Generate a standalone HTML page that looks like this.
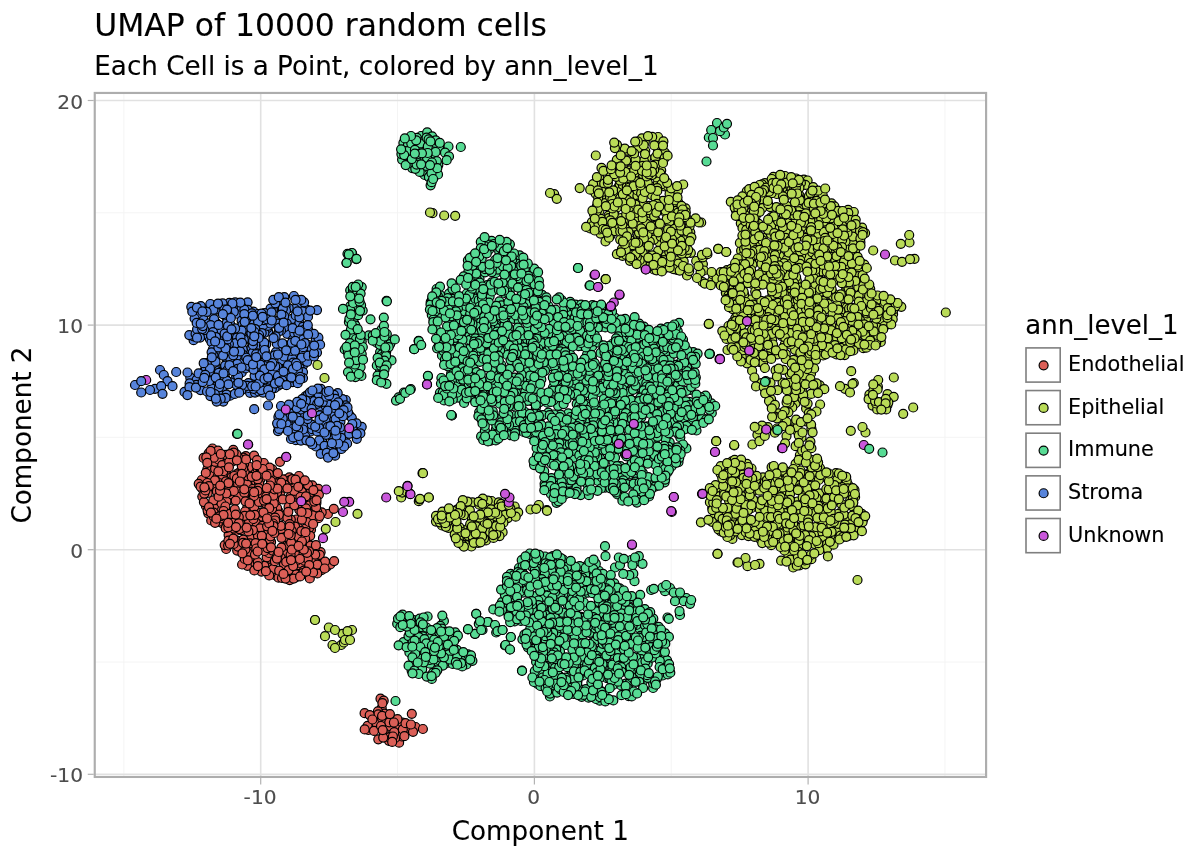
<!DOCTYPE html><html><head><meta charset="utf-8"><title>UMAP of 10000 random cells</title><style>html,body{margin:0;padding:0;background:#fff}body{width:1200px;height:857px;overflow:hidden}svg{display:block;font-family:"DejaVu Sans","Liberation Sans",sans-serif}text{stroke-width:.12px}.k text{stroke:#000}.k .t text{stroke:#4d4d4d}circle{stroke:#000;stroke-width:1.20px}</style></head><body><svg width="1200" height="857" viewBox="0 0 1200 857"><rect x="0" y="0" width="1200" height="857" fill="#fff"/><line x1="123.85" x2="123.85" y1="92.95" y2="776.95" stroke="#f3f3f3" stroke-width="0.9"/><line x1="397.55" x2="397.55" y1="92.95" y2="776.95" stroke="#f3f3f3" stroke-width="0.9"/><line x1="671.25" x2="671.25" y1="92.95" y2="776.95" stroke="#f3f3f3" stroke-width="0.9"/><line x1="944.95" x2="944.95" y1="92.95" y2="776.95" stroke="#f3f3f3" stroke-width="0.9"/><line x1="94.75" x2="986.10" y1="662.00" y2="662.00" stroke="#f3f3f3" stroke-width="0.9"/><line x1="94.75" x2="986.10" y1="437.40" y2="437.40" stroke="#f3f3f3" stroke-width="0.9"/><line x1="94.75" x2="986.10" y1="212.80" y2="212.80" stroke="#f3f3f3" stroke-width="0.9"/><line x1="260.70" x2="260.70" y1="92.95" y2="776.95" stroke="#e1e1e1" stroke-width="1.6"/><line x1="534.40" x2="534.40" y1="92.95" y2="776.95" stroke="#e1e1e1" stroke-width="1.6"/><line x1="808.10" x2="808.10" y1="92.95" y2="776.95" stroke="#e1e1e1" stroke-width="1.6"/><line x1="94.75" x2="986.10" y1="774.30" y2="774.30" stroke="#e1e1e1" stroke-width="1.6"/><line x1="94.75" x2="986.10" y1="549.70" y2="549.70" stroke="#e1e1e1" stroke-width="1.6"/><line x1="94.75" x2="986.10" y1="325.10" y2="325.10" stroke="#e1e1e1" stroke-width="1.6"/><line x1="94.75" x2="986.10" y1="100.50" y2="100.50" stroke="#e1e1e1" stroke-width="1.6"/><g id="pts"><g fill="#c957db"><circle cx="146.2" cy="380.0" r="4.5"/></g><g fill="#5784db"><circle cx="284.0" cy="365.3" r="4.5"/><circle cx="285.2" cy="361.7" r="4.5"/><circle cx="331.6" cy="430.1" r="4.5"/><circle cx="272.8" cy="309.5" r="4.5"/><circle cx="216.9" cy="354.9" r="4.5"/><circle cx="236.8" cy="349.0" r="4.5"/><circle cx="282.3" cy="367.6" r="4.5"/><circle cx="310.6" cy="398.4" r="4.5"/><circle cx="266.2" cy="344.3" r="4.5"/><circle cx="323.1" cy="409.5" r="4.5"/><circle cx="254.7" cy="347.9" r="4.5"/><circle cx="190.3" cy="377.7" r="4.5"/><circle cx="244.5" cy="331.0" r="4.5"/><circle cx="213.6" cy="305.6" r="4.5"/><circle cx="247.6" cy="302.3" r="4.5"/><circle cx="332.3" cy="432.6" r="4.5"/><circle cx="206.4" cy="363.1" r="4.5"/><circle cx="236.8" cy="340.9" r="4.5"/><circle cx="338.1" cy="449.6" r="4.5"/><circle cx="303.3" cy="424.0" r="4.5"/><circle cx="268.2" cy="331.5" r="4.5"/><circle cx="266.5" cy="385.1" r="4.5"/><circle cx="267.4" cy="328.1" r="4.5"/><circle cx="361.7" cy="426.8" r="4.5"/><circle cx="315.7" cy="340.4" r="4.5"/><circle cx="287.2" cy="333.8" r="4.5"/><circle cx="292.7" cy="382.2" r="4.5"/><circle cx="319.8" cy="406.0" r="4.5"/><circle cx="221.3" cy="339.0" r="4.5"/><circle cx="197.6" cy="311.2" r="4.5"/><circle cx="310.7" cy="431.5" r="4.5"/><circle cx="196.6" cy="379.8" r="4.5"/><circle cx="233.7" cy="382.9" r="4.5"/><circle cx="297.0" cy="423.7" r="4.5"/><circle cx="317.0" cy="352.6" r="4.5"/><circle cx="303.1" cy="365.3" r="4.5"/><circle cx="284.8" cy="408.4" r="4.5"/><circle cx="322.3" cy="396.7" r="4.5"/><circle cx="251.3" cy="383.8" r="4.5"/><circle cx="249.9" cy="350.7" r="4.5"/><circle cx="305.9" cy="333.3" r="4.5"/><circle cx="241.7" cy="372.5" r="4.5"/><circle cx="234.3" cy="338.1" r="4.5"/><circle cx="319.7" cy="444.5" r="4.5"/><circle cx="214.9" cy="387.2" r="4.5"/><circle cx="299.7" cy="368.2" r="4.5"/><circle cx="226.9" cy="304.9" r="4.5"/><circle cx="227.5" cy="319.0" r="4.5"/><circle cx="337.7" cy="416.9" r="4.5"/><circle cx="343.4" cy="436.7" r="4.5"/><circle cx="212.7" cy="337.4" r="4.5"/><circle cx="317.6" cy="396.5" r="4.5"/><circle cx="292.6" cy="322.2" r="4.5"/><circle cx="292.8" cy="424.7" r="4.5"/><circle cx="221.0" cy="368.8" r="4.5"/><circle cx="245.5" cy="368.4" r="4.5"/><circle cx="305.4" cy="396.4" r="4.5"/><circle cx="221.5" cy="378.4" r="4.5"/><circle cx="308.1" cy="329.7" r="4.5"/><circle cx="248.4" cy="383.1" r="4.5"/><circle cx="250.1" cy="392.8" r="4.5"/><circle cx="280.0" cy="304.3" r="4.5"/><circle cx="294.1" cy="378.5" r="4.5"/><circle cx="193.6" cy="340.2" r="4.5"/><circle cx="291.9" cy="318.9" r="4.5"/><circle cx="294.0" cy="405.6" r="4.5"/><circle cx="193.6" cy="336.3" r="4.5"/><circle cx="222.9" cy="382.1" r="4.5"/><circle cx="230.4" cy="324.7" r="4.5"/><circle cx="297.3" cy="306.2" r="4.5"/><circle cx="155.0" cy="388.8" r="4.5"/><circle cx="279.2" cy="349.3" r="4.5"/><circle cx="214.8" cy="334.9" r="4.5"/><circle cx="234.9" cy="379.6" r="4.5"/><circle cx="322.6" cy="435.2" r="4.5"/></g><g fill="#57db94"><circle cx="637.0" cy="478.6" r="4.5"/><circle cx="481.7" cy="258.5" r="4.5"/><circle cx="571.0" cy="414.5" r="4.5"/><circle cx="568.2" cy="476.0" r="4.5"/><circle cx="644.5" cy="412.8" r="4.5"/><circle cx="591.7" cy="333.5" r="4.5"/><circle cx="609.7" cy="452.0" r="4.5"/><circle cx="648.3" cy="651.7" r="4.5"/><circle cx="628.7" cy="696.2" r="4.5"/><circle cx="665.0" cy="591.2" r="4.5"/><circle cx="350.2" cy="290.3" r="4.5"/><circle cx="359.6" cy="364.2" r="4.5"/><circle cx="599.9" cy="373.0" r="4.5"/><circle cx="350.3" cy="306.1" r="4.5"/><circle cx="550.9" cy="612.0" r="4.5"/><circle cx="574.5" cy="490.5" r="4.5"/><circle cx="485.5" cy="292.8" r="4.5"/><circle cx="669.1" cy="350.9" r="4.5"/><circle cx="557.0" cy="620.2" r="4.5"/><circle cx="510.5" cy="384.8" r="4.5"/><circle cx="387.7" cy="361.7" r="4.5"/><circle cx="570.8" cy="308.4" r="4.5"/><circle cx="628.8" cy="354.5" r="4.5"/><circle cx="509.8" cy="276.1" r="4.5"/><circle cx="530.8" cy="349.5" r="4.5"/><circle cx="441.4" cy="378.0" r="4.5"/><circle cx="633.5" cy="498.3" r="4.5"/><circle cx="484.0" cy="390.3" r="4.5"/><circle cx="617.1" cy="422.4" r="4.5"/><circle cx="592.5" cy="642.4" r="4.5"/><circle cx="725.0" cy="134.5" r="4.5"/><circle cx="477.1" cy="398.1" r="4.5"/><circle cx="439.0" cy="146.9" r="4.5"/><circle cx="704.7" cy="402.1" r="4.5"/><circle cx="351.0" cy="353.5" r="4.5"/><circle cx="687.1" cy="367.7" r="4.5"/><circle cx="489.0" cy="323.7" r="4.5"/><circle cx="436.2" cy="661.0" r="4.5"/><circle cx="605.6" cy="380.9" r="4.5"/><circle cx="544.1" cy="316.3" r="4.5"/><circle cx="354.2" cy="323.2" r="4.5"/><circle cx="613.4" cy="461.6" r="4.5"/><circle cx="581.0" cy="616.9" r="4.5"/><circle cx="637.5" cy="561.2" r="4.5"/><circle cx="570.2" cy="330.3" r="4.5"/><circle cx="565.8" cy="463.2" r="4.5"/><circle cx="532.8" cy="434.9" r="4.5"/><circle cx="470.6" cy="396.9" r="4.5"/><circle cx="555.1" cy="655.7" r="4.5"/><circle cx="571.1" cy="315.0" r="4.5"/><circle cx="678.8" cy="352.3" r="4.5"/><circle cx="357.5" cy="348.4" r="4.5"/><circle cx="539.8" cy="435.0" r="4.5"/><circle cx="653.6" cy="482.4" r="4.5"/><circle cx="641.4" cy="654.7" r="4.5"/><circle cx="617.1" cy="480.1" r="4.5"/><circle cx="632.1" cy="413.9" r="4.5"/><circle cx="657.4" cy="452.6" r="4.5"/><circle cx="679.1" cy="322.8" r="4.5"/><circle cx="436.6" cy="289.0" r="4.5"/><circle cx="660.8" cy="632.0" r="4.5"/><circle cx="614.2" cy="433.7" r="4.5"/><circle cx="640.1" cy="388.8" r="4.5"/><circle cx="634.2" cy="329.0" r="4.5"/><circle cx="559.3" cy="675.8" r="4.5"/><circle cx="510.8" cy="637.0" r="4.5"/><circle cx="568.5" cy="691.2" r="4.5"/><circle cx="608.1" cy="428.7" r="4.5"/><circle cx="546.3" cy="393.7" r="4.5"/><circle cx="523.7" cy="431.9" r="4.5"/><circle cx="351.7" cy="364.7" r="4.5"/><circle cx="565.0" cy="494.4" r="4.5"/><circle cx="529.8" cy="553.5" r="4.5"/><circle cx="589.6" cy="359.3" r="4.5"/><circle cx="380.1" cy="352.1" r="4.5"/><circle cx="554.6" cy="558.1" r="4.5"/><circle cx="453.7" cy="313.1" r="4.5"/><circle cx="615.0" cy="567.5" r="4.5"/><circle cx="599.5" cy="593.9" r="4.5"/><circle cx="489.6" cy="296.5" r="4.5"/><circle cx="556.8" cy="418.0" r="4.5"/><circle cx="539.2" cy="623.0" r="4.5"/><circle cx="660.7" cy="371.3" r="4.5"/><circle cx="600.6" cy="392.4" r="4.5"/><circle cx="526.0" cy="419.0" r="4.5"/><circle cx="560.5" cy="392.7" r="4.5"/><circle cx="403.5" cy="642.2" r="4.5"/><circle cx="499.1" cy="319.8" r="4.5"/><circle cx="576.7" cy="403.8" r="4.5"/><circle cx="539.5" cy="596.5" r="4.5"/><circle cx="674.3" cy="450.9" r="4.5"/><circle cx="641.0" cy="659.1" r="4.5"/><circle cx="515.7" cy="600.6" r="4.5"/><circle cx="349.2" cy="347.8" r="4.5"/><circle cx="513.5" cy="423.6" r="4.5"/><circle cx="541.0" cy="337.9" r="4.5"/><circle cx="505.0" cy="645.5" r="4.5"/><circle cx="564.5" cy="633.2" r="4.5"/><circle cx="578.0" cy="268.0" r="4.5"/><circle cx="599.3" cy="420.6" r="4.5"/><circle cx="421.8" cy="631.7" r="4.5"/><circle cx="717.0" cy="123.0" r="4.5"/><circle cx="609.4" cy="352.5" r="4.5"/><circle cx="445.8" cy="660.2" r="4.5"/><circle cx="606.3" cy="445.4" r="4.5"/><circle cx="473.5" cy="302.8" r="4.5"/><circle cx="657.5" cy="360.0" r="4.5"/><circle cx="510.6" cy="573.8" r="4.5"/><circle cx="431.8" cy="314.9" r="4.5"/><circle cx="711.4" cy="403.3" r="4.5"/><circle cx="709.5" cy="353.8" r="4.5"/><circle cx="631.2" cy="484.7" r="4.5"/><circle cx="514.4" cy="617.8" r="4.5"/><circle cx="534.2" cy="275.1" r="4.5"/><circle cx="662.5" cy="587.5" r="4.5"/><circle cx="675.7" cy="390.7" r="4.5"/><circle cx="607.6" cy="310.2" r="4.5"/><circle cx="547.6" cy="489.5" r="4.5"/><circle cx="664.0" cy="656.1" r="4.5"/><circle cx="576.5" cy="578.6" r="4.5"/><circle cx="643.9" cy="326.6" r="4.5"/><circle cx="566.2" cy="460.4" r="4.5"/><circle cx="590.1" cy="435.3" r="4.5"/><circle cx="587.0" cy="607.4" r="4.5"/><circle cx="352.1" cy="253.3" r="4.5"/><circle cx="486.4" cy="305.4" r="4.5"/><circle cx="639.6" cy="628.4" r="4.5"/><circle cx="355.9" cy="370.4" r="4.5"/><circle cx="523.4" cy="340.2" r="4.5"/><circle cx="548.9" cy="452.1" r="4.5"/><circle cx="586.7" cy="480.6" r="4.5"/><circle cx="669.4" cy="346.0" r="4.5"/><circle cx="572.7" cy="565.3" r="4.5"/><circle cx="552.9" cy="556.1" r="4.5"/><circle cx="454.3" cy="340.2" r="4.5"/><circle cx="627.2" cy="639.3" r="4.5"/><circle cx="662.7" cy="675.5" r="4.5"/><circle cx="644.2" cy="432.0" r="4.5"/><circle cx="711.8" cy="413.0" r="4.5"/><circle cx="629.2" cy="413.2" r="4.5"/><circle cx="598.8" cy="575.3" r="4.5"/><circle cx="622.4" cy="377.6" r="4.5"/><circle cx="628.6" cy="395.0" r="4.5"/><circle cx="637.6" cy="350.5" r="4.5"/><circle cx="608.9" cy="619.5" r="4.5"/><circle cx="595.5" cy="640.8" r="4.5"/><circle cx="651.8" cy="440.7" r="4.5"/><circle cx="529.8" cy="434.0" r="4.5"/><circle cx="564.9" cy="450.9" r="4.5"/><circle cx="676.4" cy="388.1" r="4.5"/><circle cx="473.4" cy="293.2" r="4.5"/><circle cx="596.4" cy="650.9" r="4.5"/><circle cx="598.6" cy="367.3" r="4.5"/><circle cx="571.4" cy="466.4" r="4.5"/><circle cx="651.6" cy="462.0" r="4.5"/><circle cx="600.6" cy="352.9" r="4.5"/><circle cx="667.6" cy="354.5" r="4.5"/><circle cx="477.3" cy="293.9" r="4.5"/><circle cx="573.1" cy="306.3" r="4.5"/><circle cx="614.4" cy="668.2" r="4.5"/><circle cx="571.2" cy="573.2" r="4.5"/><circle cx="559.9" cy="385.3" r="4.5"/><circle cx="407.6" cy="157.4" r="4.5"/><circle cx="501.7" cy="326.9" r="4.5"/><circle cx="653.7" cy="625.3" r="4.5"/><circle cx="534.4" cy="292.4" r="4.5"/><circle cx="565.2" cy="395.8" r="4.5"/><circle cx="547.0" cy="666.0" r="4.5"/><circle cx="590.9" cy="449.6" r="4.5"/><circle cx="379.9" cy="369.3" r="4.5"/><circle cx="352.2" cy="360.3" r="4.5"/><circle cx="642.5" cy="563.8" r="4.5"/><circle cx="514.7" cy="621.4" r="4.5"/><circle cx="512.7" cy="406.0" r="4.5"/><circle cx="654.8" cy="455.1" r="4.5"/><circle cx="522.6" cy="422.8" r="4.5"/><circle cx="601.2" cy="308.2" r="4.5"/><circle cx="633.1" cy="612.1" r="4.5"/><circle cx="570.3" cy="354.6" r="4.5"/><circle cx="616.3" cy="631.3" r="4.5"/><circle cx="505.5" cy="645.0" r="4.5"/><circle cx="580.6" cy="595.1" r="4.5"/><circle cx="511.2" cy="334.1" r="4.5"/><circle cx="534.1" cy="465.1" r="4.5"/><circle cx="569.5" cy="372.5" r="4.5"/><circle cx="550.5" cy="351.9" r="4.5"/><circle cx="664.2" cy="335.0" r="4.5"/><circle cx="570.0" cy="449.5" r="4.5"/><circle cx="532.9" cy="627.7" r="4.5"/><circle cx="525.3" cy="392.0" r="4.5"/><circle cx="492.6" cy="331.7" r="4.5"/><circle cx="508.0" cy="613.0" r="4.5"/><circle cx="476.8" cy="332.0" r="4.5"/><circle cx="462.8" cy="328.0" r="4.5"/><circle cx="560.1" cy="485.4" r="4.5"/><circle cx="548.3" cy="412.6" r="4.5"/><circle cx="582.1" cy="322.3" r="4.5"/><circle cx="595.4" cy="694.7" r="4.5"/><circle cx="585.0" cy="393.6" r="4.5"/><circle cx="462.6" cy="376.9" r="4.5"/><circle cx="613.8" cy="368.4" r="4.5"/><circle cx="531.1" cy="558.1" r="4.5"/><circle cx="486.9" cy="320.5" r="4.5"/><circle cx="605.9" cy="603.7" r="4.5"/><circle cx="507.3" cy="272.7" r="4.5"/><circle cx="615.0" cy="457.7" r="4.5"/><circle cx="548.3" cy="348.1" r="4.5"/><circle cx="669.2" cy="430.1" r="4.5"/><circle cx="422.2" cy="139.0" r="4.5"/><circle cx="563.0" cy="310.7" r="4.5"/><circle cx="465.4" cy="658.4" r="4.5"/><circle cx="566.3" cy="572.4" r="4.5"/><circle cx="543.1" cy="559.3" r="4.5"/><circle cx="589.7" cy="632.8" r="4.5"/><circle cx="557.1" cy="672.3" r="4.5"/><circle cx="644.2" cy="332.7" r="4.5"/><circle cx="565.6" cy="486.0" r="4.5"/><circle cx="618.6" cy="325.3" r="4.5"/><circle cx="566.3" cy="592.9" r="4.5"/><circle cx="563.0" cy="582.3" r="4.5"/><circle cx="681.2" cy="361.4" r="4.5"/><circle cx="619.6" cy="490.5" r="4.5"/><circle cx="452.6" cy="652.2" r="4.5"/><circle cx="575.2" cy="316.2" r="4.5"/><circle cx="499.8" cy="403.7" r="4.5"/><circle cx="594.8" cy="420.3" r="4.5"/><circle cx="628.9" cy="474.4" r="4.5"/><circle cx="623.9" cy="338.3" r="4.5"/><circle cx="635.2" cy="341.6" r="4.5"/><circle cx="488.2" cy="622.0" r="4.5"/><circle cx="518.9" cy="568.0" r="4.5"/><circle cx="609.4" cy="579.1" r="4.5"/><circle cx="568.7" cy="388.9" r="4.5"/><circle cx="451.8" cy="415.5" r="4.5"/><circle cx="531.6" cy="401.1" r="4.5"/><circle cx="631.7" cy="346.5" r="4.5"/><circle cx="619.3" cy="482.2" r="4.5"/><circle cx="609.6" cy="664.3" r="4.5"/><circle cx="553.0" cy="387.5" r="4.5"/><circle cx="348.9" cy="322.1" r="4.5"/><circle cx="544.7" cy="336.9" r="4.5"/><circle cx="677.6" cy="393.1" r="4.5"/><circle cx="570.6" cy="588.5" r="4.5"/><circle cx="625.4" cy="474.9" r="4.5"/><circle cx="538.9" cy="675.0" r="4.5"/><circle cx="620.3" cy="466.1" r="4.5"/><circle cx="446.0" cy="663.4" r="4.5"/><circle cx="638.9" cy="668.2" r="4.5"/><circle cx="483.3" cy="312.4" r="4.5"/><circle cx="664.8" cy="640.8" r="4.5"/><circle cx="604.5" cy="352.6" r="4.5"/><circle cx="637.1" cy="388.3" r="4.5"/><circle cx="570.3" cy="620.9" r="4.5"/><circle cx="670.0" cy="418.1" r="4.5"/><circle cx="708.8" cy="137.5" r="4.5"/><circle cx="598.9" cy="476.0" r="4.5"/><circle cx="607.1" cy="672.2" r="4.5"/><circle cx="660.5" cy="338.8" r="4.5"/><circle cx="459.3" cy="314.2" r="4.5"/><circle cx="620.8" cy="343.3" r="4.5"/><circle cx="665.1" cy="633.3" r="4.5"/><circle cx="598.0" cy="370.6" r="4.5"/><circle cx="589.4" cy="647.1" r="4.5"/><circle cx="513.3" cy="588.3" r="4.5"/><circle cx="582.5" cy="668.9" r="4.5"/><circle cx="460.8" cy="147.0" r="4.5"/><circle cx="592.3" cy="686.2" r="4.5"/><circle cx="595.4" cy="665.0" r="4.5"/><circle cx="460.5" cy="299.2" r="4.5"/><circle cx="527.6" cy="400.8" r="4.5"/><circle cx="552.9" cy="439.5" r="4.5"/><circle cx="530.0" cy="287.7" r="4.5"/><circle cx="559.8" cy="653.8" r="4.5"/><circle cx="586.3" cy="386.1" r="4.5"/><circle cx="617.0" cy="648.8" r="4.5"/><circle cx="588.5" cy="617.7" r="4.5"/><circle cx="381.1" cy="378.0" r="4.5"/><circle cx="446.2" cy="307.0" r="4.5"/><circle cx="475.4" cy="298.7" r="4.5"/><circle cx="627.7" cy="372.4" r="4.5"/><circle cx="570.6" cy="666.7" r="4.5"/><circle cx="538.9" cy="431.1" r="4.5"/><circle cx="568.3" cy="413.3" r="4.5"/><circle cx="640.2" cy="346.5" r="4.5"/><circle cx="476.2" cy="613.8" r="4.5"/><circle cx="510.0" cy="354.8" r="4.5"/><circle cx="576.3" cy="649.4" r="4.5"/><circle cx="602.4" cy="320.1" r="4.5"/><circle cx="536.4" cy="645.5" r="4.5"/><circle cx="593.5" cy="417.7" r="4.5"/><circle cx="598.0" cy="481.0" r="4.5"/><circle cx="567.6" cy="429.1" r="4.5"/><circle cx="709.7" cy="409.8" r="4.5"/><circle cx="441.7" cy="646.0" r="4.5"/><circle cx="552.8" cy="318.6" r="4.5"/><circle cx="541.1" cy="638.1" r="4.5"/><circle cx="557.6" cy="477.1" r="4.5"/><circle cx="551.6" cy="398.3" r="4.5"/><circle cx="680.0" cy="347.8" r="4.5"/><circle cx="659.0" cy="466.0" r="4.5"/><circle cx="599.1" cy="571.0" r="4.5"/><circle cx="597.4" cy="450.2" r="4.5"/><circle cx="636.9" cy="502.6" r="4.5"/><circle cx="453.2" cy="285.6" r="4.5"/><circle cx="635.5" cy="481.6" r="4.5"/><circle cx="541.4" cy="365.4" r="4.5"/><circle cx="554.2" cy="449.9" r="4.5"/><circle cx="580.3" cy="660.5" r="4.5"/><circle cx="495.9" cy="273.0" r="4.5"/><circle cx="413.7" cy="620.1" r="4.5"/><circle cx="555.5" cy="309.7" r="4.5"/><circle cx="522.7" cy="288.7" r="4.5"/><circle cx="673.6" cy="380.3" r="4.5"/><circle cx="445.7" cy="652.8" r="4.5"/><circle cx="540.2" cy="428.8" r="4.5"/><circle cx="651.2" cy="590.0" r="4.5"/><circle cx="693.3" cy="352.1" r="4.5"/><circle cx="463.6" cy="314.9" r="4.5"/><circle cx="671.0" cy="399.1" r="4.5"/><circle cx="381.8" cy="354.3" r="4.5"/><circle cx="470.7" cy="365.5" r="4.5"/><circle cx="601.2" cy="649.8" r="4.5"/><circle cx="645.5" cy="457.3" r="4.5"/><circle cx="458.8" cy="332.6" r="4.5"/><circle cx="568.5" cy="684.3" r="4.5"/><circle cx="707.0" cy="397.9" r="4.5"/><circle cx="544.3" cy="577.3" r="4.5"/><circle cx="355.4" cy="332.9" r="4.5"/><circle cx="639.2" cy="323.6" r="4.5"/><circle cx="626.6" cy="347.8" r="4.5"/><circle cx="535.8" cy="364.4" r="4.5"/><circle cx="386.4" cy="383.8" r="4.5"/><circle cx="661.4" cy="347.6" r="4.5"/><circle cx="592.8" cy="310.4" r="4.5"/><circle cx="438.8" cy="663.1" r="4.5"/><circle cx="575.5" cy="330.7" r="4.5"/><circle cx="667.5" cy="617.5" r="4.5"/><circle cx="502.8" cy="370.9" r="4.5"/><circle cx="631.2" cy="560.0" r="4.5"/><circle cx="556.4" cy="486.0" r="4.5"/><circle cx="676.9" cy="408.1" r="4.5"/><circle cx="663.5" cy="349.9" r="4.5"/><circle cx="448.5" cy="146.5" r="4.5"/><circle cx="417.6" cy="630.3" r="4.5"/><circle cx="566.1" cy="319.1" r="4.5"/><circle cx="682.2" cy="400.7" r="4.5"/><circle cx="564.6" cy="437.1" r="4.5"/><circle cx="624.8" cy="453.8" r="4.5"/><circle cx="403.4" cy="142.9" r="4.5"/><circle cx="495.8" cy="429.5" r="4.5"/><circle cx="493.3" cy="609.4" r="4.5"/><circle cx="535.2" cy="582.1" r="4.5"/><circle cx="528.3" cy="379.0" r="4.5"/><circle cx="439.8" cy="660.7" r="4.5"/><circle cx="443.6" cy="654.3" r="4.5"/><circle cx="500.0" cy="266.1" r="4.5"/><circle cx="619.9" cy="478.0" r="4.5"/><circle cx="599.6" cy="386.0" r="4.5"/><circle cx="460.6" cy="656.7" r="4.5"/><circle cx="551.4" cy="686.1" r="4.5"/><circle cx="626.3" cy="403.8" r="4.5"/><circle cx="545.6" cy="639.6" r="4.5"/><circle cx="505.2" cy="415.6" r="4.5"/><circle cx="517.3" cy="385.7" r="4.5"/><circle cx="470.2" cy="292.1" r="4.5"/><circle cx="237.0" cy="433.8" r="4.5"/><circle cx="668.6" cy="412.2" r="4.5"/><circle cx="604.3" cy="616.6" r="4.5"/></g><g fill="#c957db"><circle cx="248.2" cy="444.5" r="4.5"/></g><g fill="#db5f57"><circle cx="411.8" cy="713.8" r="4.5"/><circle cx="283.2" cy="552.9" r="4.5"/><circle cx="246.6" cy="562.4" r="4.5"/><circle cx="308.2" cy="547.0" r="4.5"/><circle cx="253.0" cy="550.4" r="4.5"/><circle cx="241.0" cy="492.7" r="4.5"/><circle cx="202.3" cy="496.6" r="4.5"/><circle cx="286.1" cy="479.3" r="4.5"/><circle cx="318.4" cy="518.2" r="4.5"/><circle cx="231.2" cy="536.5" r="4.5"/><circle cx="245.8" cy="456.1" r="4.5"/><circle cx="257.8" cy="524.9" r="4.5"/><circle cx="213.6" cy="488.7" r="4.5"/><circle cx="275.8" cy="502.0" r="4.5"/><circle cx="250.2" cy="506.6" r="4.5"/><circle cx="280.0" cy="461.8" r="4.5"/><circle cx="308.3" cy="515.6" r="4.5"/><circle cx="301.3" cy="538.8" r="4.5"/><circle cx="297.2" cy="530.1" r="4.5"/><circle cx="296.2" cy="567.7" r="4.5"/><circle cx="251.9" cy="511.4" r="4.5"/><circle cx="266.8" cy="529.0" r="4.5"/><circle cx="275.6" cy="575.4" r="4.5"/><circle cx="398.8" cy="737.6" r="4.5"/><circle cx="304.9" cy="514.2" r="4.5"/><circle cx="251.4" cy="483.0" r="4.5"/><circle cx="371.7" cy="727.0" r="4.5"/><circle cx="208.3" cy="513.3" r="4.5"/><circle cx="235.6" cy="517.5" r="4.5"/><circle cx="246.4" cy="519.9" r="4.5"/><circle cx="290.2" cy="575.6" r="4.5"/><circle cx="249.8" cy="467.0" r="4.5"/><circle cx="327.1" cy="563.5" r="4.5"/><circle cx="279.1" cy="512.2" r="4.5"/><circle cx="247.5" cy="565.8" r="4.5"/><circle cx="261.6" cy="549.4" r="4.5"/><circle cx="226.4" cy="498.1" r="4.5"/><circle cx="276.7" cy="512.6" r="4.5"/><circle cx="270.5" cy="477.6" r="4.5"/><circle cx="297.2" cy="552.8" r="4.5"/><circle cx="299.3" cy="528.5" r="4.5"/><circle cx="254.0" cy="539.2" r="4.5"/><circle cx="312.3" cy="485.3" r="4.5"/><circle cx="251.5" cy="520.8" r="4.5"/><circle cx="289.6" cy="565.5" r="4.5"/><circle cx="304.2" cy="546.6" r="4.5"/><circle cx="264.9" cy="542.2" r="4.5"/><circle cx="321.5" cy="570.1" r="4.5"/><circle cx="375.0" cy="717.5" r="4.5"/><circle cx="223.1" cy="487.0" r="4.5"/><circle cx="252.4" cy="479.6" r="4.5"/><circle cx="222.6" cy="523.3" r="4.5"/><circle cx="402.7" cy="733.5" r="4.5"/><circle cx="300.9" cy="570.0" r="4.5"/><circle cx="295.8" cy="577.5" r="4.5"/><circle cx="266.9" cy="515.6" r="4.5"/><circle cx="211.0" cy="461.2" r="4.5"/><circle cx="305.5" cy="493.6" r="4.5"/><circle cx="313.7" cy="512.6" r="4.5"/><circle cx="269.6" cy="516.1" r="4.5"/><circle cx="203.6" cy="457.9" r="4.5"/><circle cx="280.5" cy="491.9" r="4.5"/><circle cx="320.6" cy="552.2" r="4.5"/><circle cx="247.3" cy="507.3" r="4.5"/><circle cx="286.3" cy="569.2" r="4.5"/><circle cx="250.4" cy="558.8" r="4.5"/><circle cx="320.8" cy="560.6" r="4.5"/><circle cx="286.4" cy="528.0" r="4.5"/><circle cx="290.5" cy="486.1" r="4.5"/><circle cx="235.9" cy="488.9" r="4.5"/><circle cx="285.8" cy="543.7" r="4.5"/><circle cx="242.8" cy="485.1" r="4.5"/><circle cx="398.2" cy="725.9" r="4.5"/></g><g fill="#b9db57"><circle cx="750.4" cy="348.0" r="4.5"/><circle cx="771.1" cy="228.2" r="4.5"/><circle cx="865.5" cy="287.9" r="4.5"/><circle cx="745.7" cy="472.7" r="4.5"/><circle cx="630.1" cy="240.2" r="4.5"/><circle cx="650.8" cy="209.6" r="4.5"/><circle cx="781.7" cy="474.1" r="4.5"/><circle cx="822.2" cy="548.6" r="4.5"/><circle cx="866.1" cy="318.6" r="4.5"/><circle cx="783.7" cy="333.4" r="4.5"/><circle cx="819.8" cy="517.2" r="4.5"/><circle cx="867.2" cy="313.4" r="4.5"/><circle cx="838.9" cy="243.8" r="4.5"/><circle cx="608.6" cy="215.6" r="4.5"/><circle cx="741.9" cy="535.1" r="4.5"/><circle cx="780.3" cy="315.5" r="4.5"/><circle cx="793.2" cy="501.8" r="4.5"/><circle cx="823.0" cy="497.3" r="4.5"/><circle cx="647.3" cy="218.4" r="4.5"/><circle cx="502.6" cy="532.2" r="4.5"/><circle cx="824.8" cy="507.5" r="4.5"/><circle cx="721.3" cy="490.4" r="4.5"/><circle cx="849.2" cy="264.8" r="4.5"/><circle cx="775.6" cy="286.8" r="4.5"/><circle cx="436.0" cy="521.6" r="4.5"/><circle cx="781.7" cy="310.3" r="4.5"/><circle cx="755.6" cy="258.9" r="4.5"/><circle cx="750.0" cy="321.5" r="4.5"/><circle cx="464.3" cy="541.5" r="4.5"/><circle cx="787.8" cy="314.7" r="4.5"/><circle cx="807.8" cy="228.8" r="4.5"/><circle cx="833.1" cy="339.4" r="4.5"/><circle cx="763.0" cy="477.4" r="4.5"/><circle cx="795.0" cy="346.5" r="4.5"/><circle cx="716.2" cy="441.2" r="4.5"/><circle cx="836.5" cy="270.5" r="4.5"/><circle cx="820.6" cy="544.3" r="4.5"/><circle cx="860.3" cy="528.9" r="4.5"/><circle cx="784.9" cy="344.0" r="4.5"/><circle cx="768.2" cy="389.6" r="4.5"/><circle cx="810.3" cy="461.9" r="4.5"/><circle cx="752.4" cy="264.3" r="4.5"/><circle cx="797.8" cy="545.4" r="4.5"/><circle cx="761.4" cy="383.1" r="4.5"/><circle cx="530.5" cy="509.5" r="4.5"/><circle cx="811.4" cy="428.4" r="4.5"/><circle cx="629.7" cy="195.2" r="4.5"/><circle cx="720.9" cy="531.5" r="4.5"/><circle cx="772.0" cy="520.9" r="4.5"/><circle cx="823.2" cy="322.9" r="4.5"/><circle cx="662.9" cy="200.9" r="4.5"/><circle cx="719.7" cy="496.2" r="4.5"/><circle cx="790.4" cy="548.9" r="4.5"/><circle cx="848.0" cy="532.9" r="4.5"/><circle cx="739.4" cy="338.9" r="4.5"/><circle cx="626.9" cy="150.7" r="4.5"/><circle cx="849.3" cy="519.5" r="4.5"/><circle cx="848.4" cy="485.2" r="4.5"/><circle cx="795.8" cy="554.8" r="4.5"/><circle cx="748.2" cy="245.6" r="4.5"/><circle cx="814.9" cy="304.7" r="4.5"/><circle cx="762.2" cy="486.6" r="4.5"/><circle cx="769.0" cy="335.4" r="4.5"/><circle cx="849.3" cy="535.7" r="4.5"/><circle cx="514.7" cy="506.5" r="4.5"/><circle cx="833.7" cy="293.6" r="4.5"/><circle cx="610.5" cy="235.5" r="4.5"/><circle cx="830.6" cy="233.3" r="4.5"/><circle cx="795.6" cy="446.2" r="4.5"/><circle cx="751.1" cy="270.0" r="4.5"/><circle cx="491.5" cy="501.0" r="4.5"/><circle cx="785.8" cy="354.2" r="4.5"/><circle cx="759.5" cy="304.3" r="4.5"/><circle cx="328.8" cy="627.5" r="4.5"/><circle cx="775.9" cy="257.7" r="4.5"/><circle cx="808.8" cy="284.8" r="4.5"/><circle cx="790.6" cy="275.1" r="4.5"/><circle cx="676.7" cy="260.4" r="4.5"/><circle cx="644.8" cy="141.8" r="4.5"/><circle cx="638.1" cy="235.6" r="4.5"/><circle cx="754.7" cy="339.6" r="4.5"/><circle cx="816.2" cy="253.4" r="4.5"/><circle cx="624.0" cy="175.5" r="4.5"/><circle cx="858.3" cy="287.2" r="4.5"/><circle cx="735.5" cy="499.4" r="4.5"/><circle cx="795.0" cy="349.8" r="4.5"/><circle cx="826.3" cy="320.1" r="4.5"/><circle cx="655.7" cy="234.2" r="4.5"/><circle cx="790.7" cy="389.6" r="4.5"/><circle cx="797.9" cy="501.5" r="4.5"/><circle cx="771.8" cy="534.6" r="4.5"/><circle cx="763.5" cy="512.2" r="4.5"/><circle cx="824.8" cy="285.3" r="4.5"/><circle cx="678.1" cy="202.1" r="4.5"/><circle cx="723.6" cy="523.9" r="4.5"/><circle cx="780.7" cy="242.5" r="4.5"/><circle cx="784.7" cy="270.2" r="4.5"/><circle cx="810.4" cy="441.7" r="4.5"/><circle cx="770.8" cy="478.8" r="4.5"/><circle cx="804.0" cy="489.9" r="4.5"/><circle cx="489.3" cy="529.0" r="4.5"/><circle cx="845.5" cy="268.9" r="4.5"/><circle cx="481.0" cy="533.2" r="4.5"/><circle cx="819.3" cy="266.0" r="4.5"/><circle cx="751.6" cy="197.9" r="4.5"/><circle cx="472.4" cy="502.4" r="4.5"/><circle cx="777.6" cy="229.7" r="4.5"/><circle cx="775.1" cy="478.3" r="4.5"/><circle cx="341.2" cy="645.0" r="4.5"/><circle cx="725.7" cy="484.6" r="4.5"/><circle cx="945.8" cy="312.5" r="4.5"/><circle cx="784.6" cy="483.7" r="4.5"/><circle cx="609.8" cy="226.7" r="4.5"/><circle cx="741.1" cy="250.7" r="4.5"/><circle cx="826.5" cy="300.0" r="4.5"/><circle cx="848.1" cy="209.9" r="4.5"/><circle cx="771.0" cy="348.8" r="4.5"/><circle cx="752.8" cy="255.6" r="4.5"/><circle cx="877.3" cy="327.1" r="4.5"/><circle cx="791.9" cy="261.2" r="4.5"/><circle cx="401.2" cy="497.5" r="4.5"/><circle cx="665.8" cy="256.0" r="4.5"/><circle cx="796.8" cy="280.6" r="4.5"/><circle cx="789.7" cy="381.8" r="4.5"/><circle cx="733.4" cy="287.0" r="4.5"/><circle cx="849.6" cy="251.5" r="4.5"/><circle cx="599.2" cy="178.2" r="4.5"/><circle cx="848.8" cy="248.9" r="4.5"/><circle cx="623.5" cy="166.5" r="4.5"/><circle cx="830.0" cy="262.8" r="4.5"/><circle cx="799.9" cy="455.0" r="4.5"/><circle cx="628.7" cy="160.3" r="4.5"/><circle cx="498.8" cy="502.3" r="4.5"/><circle cx="882.5" cy="405.7" r="4.5"/><circle cx="613.6" cy="193.5" r="4.5"/><circle cx="792.6" cy="305.4" r="4.5"/><circle cx="870.9" cy="298.2" r="4.5"/><circle cx="875.5" cy="303.9" r="4.5"/><circle cx="495.3" cy="510.0" r="4.5"/><circle cx="854.5" cy="489.9" r="4.5"/><circle cx="747.4" cy="348.5" r="4.5"/><circle cx="760.3" cy="306.6" r="4.5"/><circle cx="735.5" cy="521.5" r="4.5"/><circle cx="819.1" cy="493.3" r="4.5"/><circle cx="638.8" cy="172.7" r="4.5"/><circle cx="759.8" cy="538.6" r="4.5"/><circle cx="827.5" cy="223.4" r="4.5"/><circle cx="800.3" cy="207.9" r="4.5"/><circle cx="803.3" cy="345.6" r="4.5"/><circle cx="784.7" cy="189.8" r="4.5"/><circle cx="799.5" cy="565.3" r="4.5"/><circle cx="785.2" cy="488.9" r="4.5"/><circle cx="823.4" cy="537.4" r="4.5"/><circle cx="823.1" cy="301.0" r="4.5"/><circle cx="843.8" cy="479.9" r="4.5"/><circle cx="789.9" cy="186.1" r="4.5"/><circle cx="771.2" cy="545.2" r="4.5"/><circle cx="867.5" cy="339.7" r="4.5"/><circle cx="775.4" cy="239.5" r="4.5"/><circle cx="789.0" cy="535.2" r="4.5"/><circle cx="804.9" cy="237.9" r="4.5"/><circle cx="742.3" cy="256.6" r="4.5"/><circle cx="846.7" cy="480.9" r="4.5"/><circle cx="677.6" cy="205.4" r="4.5"/><circle cx="638.0" cy="250.8" r="4.5"/><circle cx="725.0" cy="277.4" r="4.5"/><circle cx="653.8" cy="269.5" r="4.5"/><circle cx="473.3" cy="528.6" r="4.5"/><circle cx="793.4" cy="310.0" r="4.5"/><circle cx="872.5" cy="405.6" r="4.5"/><circle cx="812.8" cy="235.7" r="4.5"/><circle cx="846.2" cy="289.0" r="4.5"/><circle cx="464.8" cy="506.5" r="4.5"/><circle cx="673.7" cy="195.7" r="4.5"/><circle cx="460.1" cy="510.4" r="4.5"/><circle cx="809.7" cy="464.3" r="4.5"/><circle cx="712.2" cy="280.6" r="4.5"/><circle cx="855.1" cy="252.0" r="4.5"/><circle cx="422.5" cy="473.2" r="4.5"/><circle cx="752.4" cy="444.5" r="4.5"/><circle cx="827.0" cy="544.2" r="4.5"/><circle cx="822.5" cy="472.0" r="4.5"/><circle cx="819.5" cy="524.9" r="4.5"/><circle cx="657.3" cy="172.2" r="4.5"/><circle cx="664.7" cy="186.3" r="4.5"/><circle cx="799.5" cy="316.3" r="4.5"/><circle cx="445.1" cy="513.0" r="4.5"/><circle cx="616.8" cy="228.0" r="4.5"/><circle cx="774.4" cy="474.9" r="4.5"/><circle cx="764.8" cy="183.1" r="4.5"/><circle cx="770.5" cy="280.4" r="4.5"/><circle cx="774.8" cy="508.7" r="4.5"/><circle cx="860.4" cy="242.2" r="4.5"/><circle cx="644.1" cy="262.5" r="4.5"/><circle cx="813.6" cy="480.6" r="4.5"/><circle cx="764.7" cy="310.5" r="4.5"/><circle cx="770.4" cy="326.0" r="4.5"/><circle cx="750.8" cy="332.1" r="4.5"/><circle cx="762.8" cy="196.8" r="4.5"/><circle cx="739.1" cy="322.9" r="4.5"/><circle cx="742.5" cy="496.3" r="4.5"/><circle cx="802.4" cy="486.6" r="4.5"/><circle cx="718.2" cy="248.8" r="4.5"/><circle cx="728.5" cy="326.0" r="4.5"/><circle cx="795.7" cy="312.6" r="4.5"/><circle cx="634.6" cy="217.5" r="4.5"/><circle cx="795.5" cy="526.2" r="4.5"/><circle cx="784.9" cy="519.2" r="4.5"/><circle cx="826.3" cy="489.0" r="4.5"/><circle cx="800.1" cy="335.7" r="4.5"/><circle cx="745.0" cy="232.2" r="4.5"/><circle cx="808.8" cy="219.7" r="4.5"/><circle cx="759.7" cy="509.2" r="4.5"/><circle cx="616.8" cy="159.8" r="4.5"/><circle cx="834.9" cy="242.5" r="4.5"/><circle cx="740.3" cy="292.2" r="4.5"/><circle cx="855.5" cy="530.6" r="4.5"/><circle cx="760.2" cy="362.2" r="4.5"/><circle cx="738.8" cy="333.7" r="4.5"/><circle cx="652.9" cy="186.8" r="4.5"/><circle cx="685.6" cy="208.3" r="4.5"/><circle cx="675.9" cy="200.4" r="4.5"/><circle cx="646.5" cy="157.8" r="4.5"/><circle cx="800.7" cy="533.1" r="4.5"/><circle cx="784.8" cy="480.0" r="4.5"/><circle cx="755.7" cy="216.0" r="4.5"/><circle cx="893.1" cy="314.1" r="4.5"/><circle cx="737.8" cy="292.8" r="4.5"/><circle cx="909.5" cy="242.5" r="4.5"/><circle cx="806.1" cy="408.4" r="4.5"/><circle cx="802.1" cy="450.5" r="4.5"/><circle cx="815.8" cy="292.3" r="4.5"/><circle cx="683.7" cy="261.3" r="4.5"/><circle cx="799.5" cy="195.3" r="4.5"/><circle cx="865.5" cy="432.5" r="4.5"/><circle cx="632.3" cy="245.2" r="4.5"/><circle cx="763.5" cy="315.1" r="4.5"/><circle cx="432.5" cy="213.2" r="4.5"/><circle cx="811.0" cy="373.5" r="4.5"/><circle cx="778.5" cy="413.3" r="4.5"/><circle cx="860.4" cy="279.5" r="4.5"/><circle cx="811.8" cy="259.4" r="4.5"/><circle cx="779.4" cy="192.6" r="4.5"/><circle cx="335.5" cy="522.0" r="4.5"/><circle cx="782.0" cy="485.2" r="4.5"/><circle cx="762.8" cy="506.3" r="4.5"/><circle cx="797.9" cy="260.2" r="4.5"/><circle cx="727.0" cy="270.1" r="4.5"/><circle cx="809.3" cy="472.8" r="4.5"/><circle cx="600.5" cy="233.6" r="4.5"/><circle cx="866.3" cy="304.7" r="4.5"/><circle cx="786.0" cy="471.3" r="4.5"/><circle cx="640.4" cy="234.8" r="4.5"/><circle cx="457.1" cy="509.7" r="4.5"/><circle cx="827.4" cy="501.2" r="4.5"/><circle cx="730.8" cy="201.8" r="4.5"/><circle cx="770.9" cy="403.6" r="4.5"/><circle cx="727.8" cy="334.3" r="4.5"/><circle cx="877.9" cy="386.7" r="4.5"/><circle cx="618.5" cy="187.1" r="4.5"/><circle cx="744.5" cy="333.2" r="4.5"/><circle cx="724.0" cy="492.1" r="4.5"/></g><g fill="#5784db"><circle cx="314.1" cy="393.0" r="4.5"/><circle cx="212.6" cy="313.8" r="4.5"/><circle cx="224.1" cy="326.6" r="4.5"/><circle cx="242.1" cy="311.8" r="4.5"/><circle cx="235.1" cy="302.4" r="4.5"/><circle cx="160.0" cy="370.0" r="4.5"/><circle cx="237.7" cy="310.0" r="4.5"/><circle cx="313.6" cy="401.2" r="4.5"/><circle cx="219.0" cy="370.4" r="4.5"/><circle cx="318.4" cy="337.7" r="4.5"/><circle cx="305.0" cy="413.1" r="4.5"/><circle cx="293.0" cy="339.4" r="4.5"/><circle cx="262.5" cy="385.5" r="4.5"/><circle cx="227.1" cy="354.3" r="4.5"/><circle cx="225.3" cy="384.9" r="4.5"/><circle cx="259.6" cy="370.5" r="4.5"/><circle cx="277.9" cy="385.8" r="4.5"/><circle cx="283.3" cy="376.4" r="4.5"/><circle cx="301.5" cy="412.8" r="4.5"/><circle cx="232.1" cy="364.8" r="4.5"/><circle cx="230.7" cy="382.3" r="4.5"/><circle cx="208.5" cy="323.3" r="4.5"/><circle cx="278.4" cy="416.9" r="4.5"/><circle cx="241.5" cy="357.1" r="4.5"/><circle cx="345.8" cy="400.0" r="4.5"/><circle cx="209.8" cy="338.9" r="4.5"/><circle cx="285.0" cy="369.1" r="4.5"/><circle cx="225.5" cy="315.9" r="4.5"/><circle cx="286.3" cy="374.6" r="4.5"/><circle cx="254.6" cy="375.8" r="4.5"/><circle cx="204.7" cy="370.0" r="4.5"/><circle cx="202.6" cy="335.2" r="4.5"/><circle cx="226.8" cy="322.8" r="4.5"/><circle cx="306.6" cy="312.8" r="4.5"/><circle cx="248.5" cy="388.0" r="4.5"/><circle cx="237.0" cy="337.7" r="4.5"/><circle cx="296.4" cy="432.4" r="4.5"/><circle cx="286.5" cy="346.9" r="4.5"/><circle cx="296.8" cy="412.5" r="4.5"/><circle cx="360.4" cy="433.3" r="4.5"/><circle cx="253.5" cy="311.6" r="4.5"/><circle cx="335.1" cy="455.7" r="4.5"/><circle cx="240.5" cy="353.8" r="4.5"/><circle cx="342.5" cy="399.1" r="4.5"/><circle cx="223.9" cy="394.9" r="4.5"/><circle cx="327.0" cy="448.2" r="4.5"/><circle cx="282.2" cy="360.2" r="4.5"/><circle cx="288.7" cy="377.2" r="4.5"/><circle cx="238.1" cy="313.9" r="4.5"/><circle cx="263.9" cy="389.1" r="4.5"/><circle cx="203.3" cy="316.4" r="4.5"/><circle cx="258.3" cy="342.3" r="4.5"/><circle cx="337.7" cy="393.1" r="4.5"/><circle cx="254.2" cy="409.2" r="4.5"/><circle cx="274.0" cy="323.3" r="4.5"/><circle cx="294.4" cy="333.2" r="4.5"/><circle cx="341.9" cy="434.5" r="4.5"/><circle cx="243.2" cy="337.4" r="4.5"/><circle cx="305.3" cy="436.5" r="4.5"/><circle cx="211.5" cy="342.1" r="4.5"/><circle cx="250.6" cy="364.9" r="4.5"/><circle cx="277.0" cy="371.8" r="4.5"/><circle cx="219.3" cy="309.5" r="4.5"/><circle cx="274.6" cy="388.1" r="4.5"/><circle cx="292.5" cy="431.9" r="4.5"/><circle cx="297.1" cy="379.5" r="4.5"/><circle cx="280.1" cy="370.7" r="4.5"/><circle cx="332.3" cy="416.9" r="4.5"/><circle cx="349.6" cy="415.3" r="4.5"/><circle cx="275.9" cy="352.1" r="4.5"/><circle cx="247.8" cy="309.9" r="4.5"/><circle cx="189.3" cy="335.1" r="4.5"/><circle cx="308.0" cy="394.6" r="4.5"/></g><g fill="#57db94"><circle cx="510.5" cy="262.7" r="4.5"/><circle cx="667.5" cy="666.4" r="4.5"/><circle cx="557.4" cy="680.8" r="4.5"/><circle cx="427.4" cy="640.7" r="4.5"/><circle cx="666.2" cy="389.3" r="4.5"/><circle cx="555.9" cy="345.9" r="4.5"/><circle cx="533.2" cy="361.9" r="4.5"/><circle cx="548.7" cy="627.3" r="4.5"/><circle cx="458.3" cy="397.7" r="4.5"/><circle cx="496.2" cy="327.8" r="4.5"/><circle cx="689.3" cy="401.8" r="4.5"/><circle cx="448.9" cy="654.5" r="4.5"/><circle cx="523.4" cy="613.8" r="4.5"/><circle cx="580.5" cy="414.2" r="4.5"/><circle cx="613.0" cy="594.9" r="4.5"/><circle cx="424.7" cy="175.0" r="4.5"/><circle cx="604.5" cy="401.5" r="4.5"/><circle cx="680.1" cy="375.3" r="4.5"/><circle cx="496.3" cy="425.3" r="4.5"/><circle cx="559.2" cy="319.6" r="4.5"/><circle cx="382.1" cy="337.6" r="4.5"/><circle cx="585.5" cy="332.5" r="4.5"/><circle cx="544.6" cy="483.8" r="4.5"/><circle cx="595.1" cy="427.7" r="4.5"/><circle cx="599.1" cy="454.0" r="4.5"/><circle cx="355.8" cy="301.3" r="4.5"/><circle cx="672.3" cy="463.2" r="4.5"/><circle cx="545.6" cy="345.8" r="4.5"/><circle cx="577.8" cy="368.8" r="4.5"/><circle cx="354.1" cy="307.7" r="4.5"/><circle cx="564.2" cy="480.9" r="4.5"/><circle cx="487.4" cy="285.1" r="4.5"/><circle cx="666.3" cy="457.9" r="4.5"/><circle cx="629.3" cy="323.5" r="4.5"/><circle cx="650.5" cy="413.9" r="4.5"/><circle cx="675.0" cy="343.6" r="4.5"/><circle cx="592.0" cy="358.0" r="4.5"/><circle cx="481.7" cy="406.4" r="4.5"/><circle cx="494.8" cy="332.7" r="4.5"/><circle cx="422.2" cy="171.3" r="4.5"/><circle cx="506.4" cy="430.8" r="4.5"/><circle cx="561.8" cy="627.6" r="4.5"/><circle cx="607.0" cy="678.2" r="4.5"/><circle cx="381.4" cy="374.3" r="4.5"/><circle cx="463.7" cy="654.9" r="4.5"/><circle cx="447.7" cy="359.0" r="4.5"/><circle cx="598.8" cy="688.6" r="4.5"/><circle cx="562.7" cy="657.5" r="4.5"/><circle cx="616.6" cy="487.4" r="4.5"/><circle cx="408.0" cy="144.5" r="4.5"/><circle cx="512.6" cy="366.7" r="4.5"/><circle cx="605.5" cy="359.2" r="4.5"/><circle cx="599.6" cy="613.4" r="4.5"/><circle cx="461.8" cy="320.9" r="4.5"/><circle cx="605.1" cy="638.6" r="4.5"/><circle cx="538.6" cy="452.9" r="4.5"/><circle cx="690.4" cy="419.8" r="4.5"/><circle cx="617.5" cy="494.4" r="4.5"/><circle cx="590.0" cy="651.9" r="4.5"/><circle cx="416.6" cy="651.0" r="4.5"/><circle cx="559.6" cy="600.1" r="4.5"/><circle cx="605.1" cy="387.4" r="4.5"/><circle cx="665.1" cy="344.1" r="4.5"/><circle cx="538.9" cy="373.8" r="4.5"/><circle cx="575.2" cy="323.9" r="4.5"/><circle cx="615.3" cy="665.5" r="4.5"/><circle cx="537.7" cy="333.8" r="4.5"/><circle cx="377.0" cy="342.9" r="4.5"/><circle cx="547.3" cy="335.6" r="4.5"/><circle cx="610.6" cy="433.3" r="4.5"/><circle cx="598.2" cy="605.2" r="4.5"/><circle cx="501.9" cy="343.0" r="4.5"/><circle cx="483.5" cy="302.2" r="4.5"/><circle cx="351.8" cy="253.0" r="4.5"/><circle cx="677.5" cy="597.0" r="4.5"/><circle cx="614.8" cy="317.7" r="4.5"/><circle cx="515.8" cy="267.3" r="4.5"/><circle cx="690.8" cy="378.7" r="4.5"/><circle cx="534.6" cy="625.1" r="4.5"/><circle cx="578.0" cy="268.0" r="4.5"/><circle cx="591.2" cy="452.2" r="4.5"/><circle cx="508.9" cy="328.2" r="4.5"/><circle cx="516.1" cy="392.6" r="4.5"/><circle cx="421.1" cy="136.0" r="4.5"/><circle cx="642.6" cy="682.0" r="4.5"/><circle cx="613.4" cy="649.6" r="4.5"/><circle cx="597.7" cy="636.1" r="4.5"/><circle cx="543.7" cy="352.8" r="4.5"/><circle cx="655.4" cy="643.7" r="4.5"/><circle cx="669.7" cy="442.3" r="4.5"/><circle cx="661.6" cy="408.6" r="4.5"/><circle cx="672.6" cy="448.7" r="4.5"/><circle cx="544.3" cy="656.0" r="4.5"/><circle cx="428.0" cy="376.2" r="4.5"/><circle cx="619.7" cy="588.3" r="4.5"/><circle cx="562.8" cy="642.8" r="4.5"/><circle cx="486.0" cy="414.7" r="4.5"/><circle cx="383.3" cy="356.5" r="4.5"/><circle cx="591.0" cy="312.9" r="4.5"/><circle cx="488.8" cy="437.2" r="4.5"/><circle cx="569.4" cy="471.3" r="4.5"/><circle cx="561.6" cy="332.9" r="4.5"/><circle cx="523.2" cy="573.6" r="4.5"/><circle cx="514.5" cy="377.6" r="4.5"/><circle cx="602.6" cy="313.9" r="4.5"/><circle cx="574.4" cy="629.1" r="4.5"/><circle cx="651.2" cy="367.2" r="4.5"/><circle cx="360.7" cy="361.9" r="4.5"/><circle cx="472.9" cy="256.4" r="4.5"/><circle cx="416.9" cy="137.8" r="4.5"/><circle cx="480.4" cy="325.7" r="4.5"/><circle cx="600.5" cy="326.9" r="4.5"/><circle cx="657.2" cy="342.5" r="4.5"/><circle cx="652.7" cy="404.2" r="4.5"/><circle cx="610.3" cy="610.4" r="4.5"/><circle cx="645.4" cy="641.2" r="4.5"/><circle cx="641.3" cy="358.5" r="4.5"/><circle cx="520.1" cy="583.4" r="4.5"/><circle cx="651.8" cy="678.1" r="4.5"/><circle cx="573.5" cy="693.9" r="4.5"/><circle cx="572.8" cy="381.6" r="4.5"/><circle cx="705.5" cy="395.7" r="4.5"/><circle cx="573.9" cy="480.4" r="4.5"/><circle cx="433.3" cy="306.0" r="4.5"/><circle cx="515.8" cy="583.3" r="4.5"/><circle cx="567.8" cy="331.1" r="4.5"/><circle cx="566.3" cy="442.4" r="4.5"/><circle cx="552.2" cy="333.0" r="4.5"/><circle cx="504.3" cy="326.0" r="4.5"/><circle cx="628.9" cy="622.2" r="4.5"/><circle cx="566.2" cy="423.9" r="4.5"/><circle cx="479.8" cy="378.1" r="4.5"/><circle cx="580.6" cy="382.2" r="4.5"/><circle cx="525.9" cy="365.0" r="4.5"/><circle cx="608.7" cy="318.4" r="4.5"/><circle cx="653.1" cy="688.0" r="4.5"/><circle cx="613.6" cy="422.2" r="4.5"/><circle cx="627.0" cy="599.7" r="4.5"/><circle cx="659.6" cy="648.4" r="4.5"/><circle cx="490.3" cy="328.2" r="4.5"/><circle cx="423.2" cy="629.7" r="4.5"/><circle cx="643.7" cy="396.1" r="4.5"/><circle cx="466.9" cy="312.3" r="4.5"/><circle cx="565.9" cy="645.0" r="4.5"/><circle cx="591.8" cy="646.2" r="4.5"/><circle cx="556.6" cy="642.0" r="4.5"/><circle cx="558.9" cy="495.7" r="4.5"/><circle cx="680.1" cy="395.9" r="4.5"/><circle cx="540.0" cy="345.5" r="4.5"/><circle cx="479.5" cy="278.7" r="4.5"/><circle cx="587.0" cy="565.6" r="4.5"/><circle cx="571.8" cy="386.7" r="4.5"/><circle cx="522.9" cy="592.6" r="4.5"/><circle cx="501.9" cy="602.2" r="4.5"/><circle cx="571.8" cy="474.4" r="4.5"/><circle cx="489.2" cy="306.3" r="4.5"/><circle cx="563.1" cy="616.6" r="4.5"/><circle cx="390.6" cy="341.6" r="4.5"/><circle cx="551.5" cy="340.9" r="4.5"/><circle cx="433.3" cy="160.5" r="4.5"/><circle cx="595.1" cy="661.4" r="4.5"/><circle cx="528.0" cy="328.5" r="4.5"/><circle cx="595.3" cy="459.0" r="4.5"/><circle cx="461.3" cy="383.2" r="4.5"/><circle cx="573.5" cy="457.5" r="4.5"/><circle cx="610.7" cy="474.0" r="4.5"/><circle cx="640.1" cy="459.2" r="4.5"/><circle cx="437.1" cy="348.3" r="4.5"/><circle cx="570.5" cy="687.4" r="4.5"/><circle cx="548.3" cy="441.0" r="4.5"/><circle cx="590.4" cy="583.5" r="4.5"/><circle cx="456.2" cy="638.0" r="4.5"/><circle cx="644.1" cy="365.3" r="4.5"/><circle cx="550.7" cy="589.2" r="4.5"/><circle cx="489.1" cy="249.7" r="4.5"/><circle cx="655.3" cy="464.6" r="4.5"/><circle cx="624.4" cy="372.3" r="4.5"/><circle cx="585.0" cy="421.7" r="4.5"/><circle cx="609.4" cy="678.3" r="4.5"/><circle cx="566.2" cy="479.0" r="4.5"/><circle cx="478.1" cy="351.1" r="4.5"/><circle cx="532.7" cy="390.2" r="4.5"/><circle cx="588.0" cy="469.5" r="4.5"/><circle cx="552.5" cy="330.0" r="4.5"/><circle cx="554.5" cy="337.6" r="4.5"/><circle cx="506.8" cy="433.3" r="4.5"/><circle cx="682.4" cy="347.4" r="4.5"/><circle cx="686.2" cy="598.0" r="4.5"/><circle cx="624.2" cy="346.0" r="4.5"/><circle cx="630.7" cy="614.4" r="4.5"/><circle cx="510.5" cy="429.3" r="4.5"/><circle cx="629.0" cy="631.2" r="4.5"/><circle cx="560.7" cy="414.7" r="4.5"/><circle cx="548.9" cy="333.2" r="4.5"/><circle cx="670.4" cy="328.8" r="4.5"/><circle cx="491.6" cy="240.9" r="4.5"/><circle cx="613.1" cy="685.0" r="4.5"/><circle cx="653.7" cy="409.8" r="4.5"/><circle cx="560.0" cy="651.4" r="4.5"/><circle cx="544.2" cy="598.2" r="4.5"/><circle cx="640.5" cy="497.9" r="4.5"/><circle cx="588.5" cy="697.7" r="4.5"/><circle cx="711.2" cy="130.0" r="4.5"/><circle cx="475.2" cy="402.2" r="4.5"/><circle cx="605.8" cy="477.8" r="4.5"/><circle cx="464.1" cy="402.9" r="4.5"/><circle cx="614.2" cy="622.1" r="4.5"/><circle cx="686.4" cy="428.7" r="4.5"/><circle cx="438.5" cy="315.8" r="4.5"/><circle cx="576.1" cy="665.7" r="4.5"/><circle cx="554.1" cy="627.3" r="4.5"/><circle cx="623.3" cy="480.4" r="4.5"/><circle cx="360.6" cy="367.1" r="4.5"/><circle cx="627.6" cy="467.5" r="4.5"/><circle cx="479.3" cy="318.0" r="4.5"/><circle cx="418.6" cy="340.8" r="4.5"/><circle cx="359.5" cy="308.3" r="4.5"/><circle cx="667.1" cy="660.3" r="4.5"/><circle cx="625.8" cy="683.6" r="4.5"/><circle cx="439.9" cy="392.9" r="4.5"/><circle cx="676.7" cy="404.7" r="4.5"/><circle cx="580.2" cy="569.4" r="4.5"/><circle cx="562.5" cy="387.9" r="4.5"/><circle cx="687.2" cy="350.3" r="4.5"/><circle cx="603.3" cy="589.3" r="4.5"/><circle cx="605.5" cy="450.2" r="4.5"/><circle cx="496.2" cy="632.5" r="4.5"/><circle cx="578.0" cy="412.8" r="4.5"/><circle cx="579.1" cy="379.5" r="4.5"/><circle cx="455.3" cy="319.9" r="4.5"/><circle cx="554.8" cy="617.5" r="4.5"/><circle cx="554.5" cy="569.5" r="4.5"/><circle cx="580.6" cy="338.5" r="4.5"/><circle cx="534.5" cy="651.1" r="4.5"/><circle cx="503.5" cy="423.1" r="4.5"/><circle cx="558.1" cy="628.2" r="4.5"/><circle cx="587.1" cy="483.8" r="4.5"/><circle cx="614.4" cy="583.4" r="4.5"/><circle cx="680.3" cy="437.5" r="4.5"/><circle cx="632.1" cy="608.9" r="4.5"/><circle cx="513.6" cy="575.3" r="4.5"/><circle cx="442.8" cy="392.3" r="4.5"/><circle cx="603.3" cy="576.2" r="4.5"/><circle cx="621.2" cy="685.4" r="4.5"/><circle cx="603.9" cy="399.0" r="4.5"/><circle cx="546.7" cy="622.8" r="4.5"/><circle cx="579.7" cy="585.3" r="4.5"/><circle cx="408.5" cy="636.1" r="4.5"/><circle cx="237.5" cy="433.8" r="4.5"/><circle cx="640.9" cy="351.3" r="4.5"/><circle cx="518.9" cy="281.5" r="4.5"/><circle cx="509.8" cy="368.9" r="4.5"/><circle cx="575.5" cy="304.7" r="4.5"/><circle cx="610.5" cy="385.4" r="4.5"/><circle cx="565.4" cy="362.4" r="4.5"/><circle cx="609.8" cy="379.6" r="4.5"/><circle cx="524.0" cy="396.8" r="4.5"/><circle cx="636.3" cy="624.9" r="4.5"/><circle cx="586.5" cy="474.8" r="4.5"/><circle cx="560.4" cy="340.2" r="4.5"/><circle cx="533.6" cy="596.1" r="4.5"/><circle cx="556.2" cy="649.4" r="4.5"/><circle cx="582.5" cy="400.4" r="4.5"/><circle cx="466.6" cy="388.0" r="4.5"/><circle cx="631.6" cy="370.5" r="4.5"/><circle cx="645.0" cy="625.3" r="4.5"/><circle cx="356.5" cy="307.0" r="4.5"/><circle cx="610.9" cy="616.2" r="4.5"/><circle cx="577.5" cy="681.0" r="4.5"/><circle cx="520.9" cy="620.9" r="4.5"/><circle cx="630.1" cy="408.2" r="4.5"/><circle cx="376.8" cy="365.5" r="4.5"/><circle cx="359.4" cy="345.8" r="4.5"/><circle cx="519.6" cy="344.2" r="4.5"/><circle cx="504.5" cy="293.0" r="4.5"/><circle cx="516.9" cy="301.2" r="4.5"/><circle cx="507.7" cy="251.8" r="4.5"/><circle cx="350.8" cy="356.4" r="4.5"/><circle cx="431.4" cy="146.6" r="4.5"/><circle cx="561.6" cy="447.8" r="4.5"/><circle cx="617.1" cy="466.1" r="4.5"/><circle cx="627.1" cy="691.4" r="4.5"/><circle cx="564.2" cy="574.4" r="4.5"/><circle cx="677.7" cy="331.1" r="4.5"/><circle cx="701.9" cy="417.6" r="4.5"/><circle cx="612.0" cy="446.4" r="4.5"/><circle cx="437.1" cy="657.2" r="4.5"/><circle cx="557.6" cy="636.5" r="4.5"/><circle cx="537.4" cy="312.0" r="4.5"/><circle cx="644.3" cy="434.7" r="4.5"/><circle cx="508.3" cy="403.4" r="4.5"/><circle cx="509.8" cy="290.4" r="4.5"/><circle cx="577.5" cy="671.5" r="4.5"/><circle cx="457.0" cy="392.7" r="4.5"/><circle cx="435.8" cy="328.5" r="4.5"/><circle cx="563.4" cy="593.7" r="4.5"/><circle cx="427.2" cy="132.4" r="4.5"/><circle cx="609.0" cy="436.2" r="4.5"/><circle cx="635.0" cy="361.1" r="4.5"/><circle cx="556.8" cy="335.8" r="4.5"/><circle cx="424.0" cy="161.7" r="4.5"/><circle cx="623.7" cy="359.1" r="4.5"/><circle cx="642.9" cy="436.9" r="4.5"/><circle cx="647.7" cy="663.5" r="4.5"/><circle cx="605.0" cy="363.6" r="4.5"/><circle cx="493.3" cy="289.4" r="4.5"/><circle cx="666.0" cy="360.7" r="4.5"/><circle cx="352.4" cy="347.5" r="4.5"/><circle cx="523.0" cy="364.2" r="4.5"/><circle cx="469.0" cy="330.9" r="4.5"/><circle cx="456.2" cy="349.5" r="4.5"/><circle cx="505.8" cy="329.9" r="4.5"/><circle cx="586.4" cy="380.6" r="4.5"/><circle cx="540.8" cy="321.5" r="4.5"/><circle cx="577.9" cy="653.4" r="4.5"/><circle cx="640.5" cy="635.8" r="4.5"/><circle cx="438.4" cy="300.0" r="4.5"/><circle cx="434.2" cy="655.6" r="4.5"/><circle cx="469.4" cy="336.1" r="4.5"/><circle cx="541.5" cy="672.8" r="4.5"/><circle cx="524.9" cy="412.0" r="4.5"/><circle cx="617.6" cy="411.2" r="4.5"/><circle cx="515.8" cy="415.5" r="4.5"/><circle cx="459.4" cy="338.6" r="4.5"/><circle cx="583.5" cy="593.9" r="4.5"/><circle cx="449.0" cy="293.6" r="4.5"/><circle cx="504.2" cy="306.9" r="4.5"/><circle cx="570.5" cy="675.5" r="4.5"/><circle cx="649.9" cy="642.2" r="4.5"/><circle cx="667.1" cy="392.0" r="4.5"/><circle cx="586.8" cy="404.1" r="4.5"/><circle cx="466.5" cy="664.4" r="4.5"/><circle cx="624.6" cy="387.5" r="4.5"/><circle cx="653.1" cy="683.4" r="4.5"/><circle cx="570.5" cy="391.3" r="4.5"/><circle cx="522.4" cy="639.3" r="4.5"/><circle cx="573.9" cy="614.6" r="4.5"/><circle cx="685.0" cy="408.4" r="4.5"/><circle cx="431.4" cy="642.9" r="4.5"/><circle cx="476.5" cy="278.5" r="4.5"/><circle cx="430.1" cy="663.7" r="4.5"/><circle cx="516.7" cy="357.6" r="4.5"/><circle cx="585.3" cy="647.2" r="4.5"/><circle cx="443.9" cy="620.9" r="4.5"/><circle cx="508.2" cy="606.7" r="4.5"/><circle cx="438.3" cy="164.9" r="4.5"/><circle cx="617.1" cy="587.7" r="4.5"/><circle cx="613.3" cy="700.4" r="4.5"/><circle cx="415.4" cy="643.3" r="4.5"/><circle cx="554.0" cy="652.3" r="4.5"/><circle cx="637.1" cy="383.5" r="4.5"/><circle cx="668.8" cy="370.6" r="4.5"/><circle cx="497.1" cy="331.7" r="4.5"/><circle cx="588.4" cy="374.2" r="4.5"/><circle cx="617.8" cy="651.0" r="4.5"/><circle cx="620.3" cy="442.1" r="4.5"/><circle cx="612.0" cy="416.2" r="4.5"/><circle cx="539.8" cy="630.5" r="4.5"/><circle cx="440.2" cy="295.1" r="4.5"/><circle cx="503.4" cy="349.6" r="4.5"/><circle cx="541.7" cy="432.8" r="4.5"/><circle cx="548.4" cy="306.0" r="4.5"/><circle cx="580.5" cy="690.9" r="4.5"/><circle cx="529.5" cy="397.0" r="4.5"/><circle cx="443.8" cy="336.3" r="4.5"/><circle cx="603.0" cy="573.8" r="4.5"/><circle cx="571.0" cy="438.9" r="4.5"/><circle cx="569.9" cy="678.8" r="4.5"/><circle cx="447.9" cy="363.1" r="4.5"/><circle cx="404.1" cy="151.1" r="4.5"/><circle cx="644.1" cy="344.6" r="4.5"/><circle cx="635.0" cy="607.6" r="4.5"/><circle cx="557.7" cy="399.2" r="4.5"/><circle cx="635.5" cy="611.3" r="4.5"/><circle cx="576.5" cy="488.0" r="4.5"/><circle cx="549.3" cy="357.9" r="4.5"/><circle cx="615.0" cy="399.2" r="4.5"/><circle cx="652.8" cy="384.2" r="4.5"/><circle cx="407.0" cy="619.3" r="4.5"/><circle cx="576.7" cy="430.1" r="4.5"/><circle cx="618.1" cy="681.7" r="4.5"/><circle cx="572.8" cy="329.0" r="4.5"/><circle cx="422.8" cy="636.3" r="4.5"/><circle cx="663.0" cy="417.8" r="4.5"/><circle cx="574.9" cy="380.0" r="4.5"/><circle cx="478.1" cy="267.2" r="4.5"/><circle cx="620.6" cy="355.5" r="4.5"/><circle cx="637.5" cy="665.0" r="4.5"/><circle cx="501.2" cy="392.1" r="4.5"/><circle cx="498.5" cy="374.9" r="4.5"/><circle cx="537.7" cy="684.0" r="4.5"/><circle cx="592.8" cy="397.0" r="4.5"/><circle cx="525.1" cy="274.4" r="4.5"/><circle cx="474.9" cy="348.7" r="4.5"/><circle cx="353.1" cy="297.8" r="4.5"/><circle cx="560.4" cy="587.1" r="4.5"/><circle cx="624.7" cy="351.5" r="4.5"/><circle cx="634.4" cy="401.1" r="4.5"/><circle cx="620.9" cy="331.1" r="4.5"/><circle cx="555.8" cy="600.9" r="4.5"/><circle cx="513.9" cy="585.9" r="4.5"/><circle cx="618.8" cy="329.6" r="4.5"/><circle cx="573.8" cy="585.1" r="4.5"/><circle cx="485.0" cy="330.3" r="4.5"/><circle cx="545.2" cy="636.2" r="4.5"/><circle cx="573.1" cy="375.9" r="4.5"/><circle cx="583.9" cy="344.3" r="4.5"/><circle cx="550.3" cy="634.4" r="4.5"/></g><g fill="#db5f57"><circle cx="285.4" cy="566.9" r="4.5"/><circle cx="254.2" cy="507.4" r="4.5"/><circle cx="274.9" cy="572.6" r="4.5"/><circle cx="261.4" cy="465.0" r="4.5"/><circle cx="250.9" cy="527.5" r="4.5"/><circle cx="209.0" cy="476.8" r="4.5"/><circle cx="222.6" cy="494.6" r="4.5"/><circle cx="270.6" cy="562.3" r="4.5"/><circle cx="277.1" cy="508.2" r="4.5"/><circle cx="310.0" cy="509.0" r="4.5"/><circle cx="202.2" cy="488.7" r="4.5"/><circle cx="243.3" cy="457.7" r="4.5"/><circle cx="299.6" cy="532.8" r="4.5"/><circle cx="244.1" cy="464.0" r="4.5"/><circle cx="230.5" cy="499.8" r="4.5"/><circle cx="224.8" cy="463.1" r="4.5"/><circle cx="218.5" cy="521.7" r="4.5"/><circle cx="395.4" cy="735.2" r="4.5"/><circle cx="314.8" cy="566.4" r="4.5"/><circle cx="232.5" cy="485.0" r="4.5"/><circle cx="311.7" cy="556.8" r="4.5"/><circle cx="260.3" cy="479.6" r="4.5"/><circle cx="281.0" cy="532.4" r="4.5"/><circle cx="245.3" cy="479.8" r="4.5"/><circle cx="262.0" cy="516.7" r="4.5"/><circle cx="306.2" cy="574.2" r="4.5"/><circle cx="272.6" cy="498.3" r="4.5"/><circle cx="305.3" cy="505.9" r="4.5"/><circle cx="381.7" cy="708.0" r="4.5"/><circle cx="399.1" cy="742.7" r="4.5"/><circle cx="272.1" cy="509.0" r="4.5"/><circle cx="277.2" cy="480.4" r="4.5"/><circle cx="256.0" cy="481.2" r="4.5"/><circle cx="266.7" cy="557.3" r="4.5"/><circle cx="221.9" cy="518.4" r="4.5"/><circle cx="255.9" cy="522.7" r="4.5"/><circle cx="242.8" cy="478.0" r="4.5"/><circle cx="210.9" cy="475.0" r="4.5"/><circle cx="380.5" cy="698.7" r="4.5"/><circle cx="290.5" cy="496.7" r="4.5"/><circle cx="296.4" cy="541.2" r="4.5"/><circle cx="306.5" cy="567.5" r="4.5"/><circle cx="296.2" cy="574.5" r="4.5"/><circle cx="245.0" cy="482.3" r="4.5"/><circle cx="389.3" cy="730.3" r="4.5"/><circle cx="238.9" cy="541.1" r="4.5"/><circle cx="322.6" cy="563.9" r="4.5"/><circle cx="213.5" cy="484.8" r="4.5"/><circle cx="401.9" cy="736.5" r="4.5"/><circle cx="314.7" cy="548.4" r="4.5"/><circle cx="298.2" cy="565.2" r="4.5"/><circle cx="254.8" cy="536.2" r="4.5"/><circle cx="226.2" cy="549.0" r="4.5"/><circle cx="291.2" cy="488.5" r="4.5"/><circle cx="278.5" cy="577.7" r="4.5"/><circle cx="318.4" cy="488.9" r="4.5"/><circle cx="277.4" cy="499.9" r="4.5"/><circle cx="271.1" cy="541.9" r="4.5"/><circle cx="224.7" cy="545.1" r="4.5"/><circle cx="269.0" cy="553.0" r="4.5"/><circle cx="262.2" cy="502.3" r="4.5"/><circle cx="288.0" cy="541.5" r="4.5"/><circle cx="237.2" cy="550.6" r="4.5"/><circle cx="389.6" cy="726.0" r="4.5"/><circle cx="301.4" cy="548.3" r="4.5"/><circle cx="280.7" cy="557.7" r="4.5"/><circle cx="295.4" cy="501.0" r="4.5"/><circle cx="319.7" cy="554.8" r="4.5"/><circle cx="218.5" cy="506.8" r="4.5"/><circle cx="272.7" cy="550.6" r="4.5"/><circle cx="211.2" cy="520.5" r="4.5"/><circle cx="267.6" cy="567.4" r="4.5"/><circle cx="291.7" cy="483.0" r="4.5"/></g><g fill="#b9db57"><circle cx="913.2" cy="407.5" r="4.5"/><circle cx="666.0" cy="213.0" r="4.5"/><circle cx="746.7" cy="191.4" r="4.5"/><circle cx="759.7" cy="326.1" r="4.5"/><circle cx="820.9" cy="531.3" r="4.5"/><circle cx="849.1" cy="223.6" r="4.5"/><circle cx="614.4" cy="210.9" r="4.5"/><circle cx="840.0" cy="271.5" r="4.5"/><circle cx="746.9" cy="463.8" r="4.5"/><circle cx="863.3" cy="348.2" r="4.5"/><circle cx="796.7" cy="430.6" r="4.5"/><circle cx="812.1" cy="233.1" r="4.5"/><circle cx="802.4" cy="184.9" r="4.5"/><circle cx="658.1" cy="250.8" r="4.5"/><circle cx="779.7" cy="256.2" r="4.5"/><circle cx="829.5" cy="294.5" r="4.5"/><circle cx="833.1" cy="296.3" r="4.5"/><circle cx="814.0" cy="296.6" r="4.5"/><circle cx="750.8" cy="508.4" r="4.5"/><circle cx="824.7" cy="291.0" r="4.5"/><circle cx="726.7" cy="467.2" r="4.5"/><circle cx="466.3" cy="545.2" r="4.5"/><circle cx="805.8" cy="421.3" r="4.5"/><circle cx="736.5" cy="474.7" r="4.5"/><circle cx="806.7" cy="326.7" r="4.5"/><circle cx="804.2" cy="381.2" r="4.5"/><circle cx="749.2" cy="189.2" r="4.5"/><circle cx="657.9" cy="142.5" r="4.5"/><circle cx="800.5" cy="330.7" r="4.5"/><circle cx="662.5" cy="159.5" r="4.5"/><circle cx="444.5" cy="518.7" r="4.5"/><circle cx="732.0" cy="461.3" r="4.5"/><circle cx="814.7" cy="544.0" r="4.5"/><circle cx="613.8" cy="167.1" r="4.5"/><circle cx="746.5" cy="225.6" r="4.5"/><circle cx="796.0" cy="199.0" r="4.5"/><circle cx="652.2" cy="213.5" r="4.5"/><circle cx="790.9" cy="290.7" r="4.5"/><circle cx="657.9" cy="149.2" r="4.5"/><circle cx="798.4" cy="306.2" r="4.5"/><circle cx="792.4" cy="526.2" r="4.5"/><circle cx="667.8" cy="245.9" r="4.5"/><circle cx="782.3" cy="525.0" r="4.5"/><circle cx="870.2" cy="312.7" r="4.5"/><circle cx="829.4" cy="342.0" r="4.5"/><circle cx="766.3" cy="305.9" r="4.5"/><circle cx="651.0" cy="192.8" r="4.5"/><circle cx="619.7" cy="184.3" r="4.5"/><circle cx="759.5" cy="563.8" r="4.5"/><circle cx="842.4" cy="509.7" r="4.5"/><circle cx="805.5" cy="564.3" r="4.5"/><circle cx="786.5" cy="436.1" r="4.5"/><circle cx="719.5" cy="278.5" r="4.5"/><circle cx="402.5" cy="492.5" r="4.5"/><circle cx="801.3" cy="504.6" r="4.5"/><circle cx="802.8" cy="353.3" r="4.5"/><circle cx="850.1" cy="517.1" r="4.5"/><circle cx="793.8" cy="335.9" r="4.5"/><circle cx="878.2" cy="380.0" r="4.5"/><circle cx="789.1" cy="406.7" r="4.5"/><circle cx="809.0" cy="299.1" r="4.5"/><circle cx="735.3" cy="331.7" r="4.5"/><circle cx="723.5" cy="510.8" r="4.5"/><circle cx="603.4" cy="194.7" r="4.5"/><circle cx="862.1" cy="227.6" r="4.5"/><circle cx="778.5" cy="223.6" r="4.5"/><circle cx="772.6" cy="251.6" r="4.5"/><circle cx="546.8" cy="510.0" r="4.5"/><circle cx="644.7" cy="213.6" r="4.5"/><circle cx="463.8" cy="510.3" r="4.5"/><circle cx="649.7" cy="213.0" r="4.5"/><circle cx="773.4" cy="284.2" r="4.5"/><circle cx="795.5" cy="403.2" r="4.5"/><circle cx="635.6" cy="178.9" r="4.5"/><circle cx="808.8" cy="413.1" r="4.5"/><circle cx="818.1" cy="348.4" r="4.5"/><circle cx="453.6" cy="529.2" r="4.5"/><circle cx="622.5" cy="255.8" r="4.5"/><circle cx="669.3" cy="252.1" r="4.5"/><circle cx="807.6" cy="403.6" r="4.5"/><circle cx="821.0" cy="245.5" r="4.5"/><circle cx="853.8" cy="212.0" r="4.5"/><circle cx="833.7" cy="534.1" r="4.5"/><circle cx="664.4" cy="268.4" r="4.5"/><circle cx="828.8" cy="489.3" r="4.5"/><circle cx="602.1" cy="202.5" r="4.5"/><circle cx="808.3" cy="316.9" r="4.5"/><circle cx="775.6" cy="529.3" r="4.5"/><circle cx="774.6" cy="227.0" r="4.5"/><circle cx="818.3" cy="274.4" r="4.5"/><circle cx="676.0" cy="210.9" r="4.5"/><circle cx="874.5" cy="339.3" r="4.5"/><circle cx="816.0" cy="359.8" r="4.5"/><circle cx="472.0" cy="518.4" r="4.5"/><circle cx="790.1" cy="324.5" r="4.5"/><circle cx="841.4" cy="351.1" r="4.5"/><circle cx="828.8" cy="327.3" r="4.5"/><circle cx="805.1" cy="201.0" r="4.5"/><circle cx="833.4" cy="310.2" r="4.5"/><circle cx="752.0" cy="354.8" r="4.5"/><circle cx="768.3" cy="505.2" r="4.5"/><circle cx="757.5" cy="204.3" r="4.5"/><circle cx="734.7" cy="459.8" r="4.5"/><circle cx="767.9" cy="427.1" r="4.5"/><circle cx="860.0" cy="320.1" r="4.5"/><circle cx="673.1" cy="226.8" r="4.5"/><circle cx="637.4" cy="195.7" r="4.5"/><circle cx="769.1" cy="284.3" r="4.5"/><circle cx="722.1" cy="275.6" r="4.5"/><circle cx="653.8" cy="258.2" r="4.5"/><circle cx="686.1" cy="268.1" r="4.5"/><circle cx="812.3" cy="290.8" r="4.5"/><circle cx="777.0" cy="428.5" r="4.5"/><circle cx="844.7" cy="355.1" r="4.5"/><circle cx="732.8" cy="299.6" r="4.5"/><circle cx="785.7" cy="231.3" r="4.5"/><circle cx="630.9" cy="228.8" r="4.5"/><circle cx="626.3" cy="227.0" r="4.5"/><circle cx="775.2" cy="516.1" r="4.5"/><circle cx="856.7" cy="268.9" r="4.5"/><circle cx="659.1" cy="241.9" r="4.5"/><circle cx="770.3" cy="207.1" r="4.5"/><circle cx="469.8" cy="510.4" r="4.5"/><circle cx="716.2" cy="441.2" r="4.5"/><circle cx="599.4" cy="229.5" r="4.5"/><circle cx="762.7" cy="237.7" r="4.5"/><circle cx="828.7" cy="210.7" r="4.5"/><circle cx="675.1" cy="222.4" r="4.5"/><circle cx="832.3" cy="515.2" r="4.5"/><circle cx="789.9" cy="257.6" r="4.5"/><circle cx="774.5" cy="511.6" r="4.5"/><circle cx="732.4" cy="538.9" r="4.5"/><circle cx="428.8" cy="497.5" r="4.5"/><circle cx="866.4" cy="301.4" r="4.5"/><circle cx="406.2" cy="490.0" r="4.5"/><circle cx="763.3" cy="246.8" r="4.5"/><circle cx="837.0" cy="338.0" r="4.5"/><circle cx="762.0" cy="425.7" r="4.5"/><circle cx="826.6" cy="477.8" r="4.5"/><circle cx="449.8" cy="522.8" r="4.5"/><circle cx="468.0" cy="535.8" r="4.5"/><circle cx="759.8" cy="246.1" r="4.5"/><circle cx="829.2" cy="322.5" r="4.5"/><circle cx="846.6" cy="285.7" r="4.5"/><circle cx="814.1" cy="368.5" r="4.5"/><circle cx="503.6" cy="519.8" r="4.5"/><circle cx="649.1" cy="266.6" r="4.5"/><circle cx="779.9" cy="492.8" r="4.5"/><circle cx="765.9" cy="385.1" r="4.5"/><circle cx="593.9" cy="213.9" r="4.5"/><circle cx="807.7" cy="258.0" r="4.5"/><circle cx="621.9" cy="249.1" r="4.5"/><circle cx="460.8" cy="535.0" r="4.5"/><circle cx="467.5" cy="529.1" r="4.5"/><circle cx="766.8" cy="256.3" r="4.5"/><circle cx="832.9" cy="269.2" r="4.5"/><circle cx="825.9" cy="336.2" r="4.5"/><circle cx="444.2" cy="215.5" r="4.5"/><circle cx="679.4" cy="236.1" r="4.5"/><circle cx="789.1" cy="490.8" r="4.5"/><circle cx="700.9" cy="522.3" r="4.5"/><circle cx="771.2" cy="217.3" r="4.5"/><circle cx="901.3" cy="306.8" r="4.5"/><circle cx="820.3" cy="271.4" r="4.5"/><circle cx="761.9" cy="529.4" r="4.5"/><circle cx="478.9" cy="537.0" r="4.5"/><circle cx="856.4" cy="261.9" r="4.5"/><circle cx="765.9" cy="248.2" r="4.5"/><circle cx="649.2" cy="205.8" r="4.5"/><circle cx="747.7" cy="237.2" r="4.5"/><circle cx="732.1" cy="520.8" r="4.5"/><circle cx="726.7" cy="489.6" r="4.5"/><circle cx="463.8" cy="515.2" r="4.5"/><circle cx="809.5" cy="508.3" r="4.5"/><circle cx="812.3" cy="252.5" r="4.5"/><circle cx="724.2" cy="494.6" r="4.5"/><circle cx="686.9" cy="237.7" r="4.5"/><circle cx="743.1" cy="515.9" r="4.5"/><circle cx="735.3" cy="318.1" r="4.5"/><circle cx="816.8" cy="323.6" r="4.5"/><circle cx="627.6" cy="217.8" r="4.5"/><circle cx="758.5" cy="360.3" r="4.5"/><circle cx="801.7" cy="226.7" r="4.5"/><circle cx="603.1" cy="197.4" r="4.5"/><circle cx="857.2" cy="314.4" r="4.5"/><circle cx="736.2" cy="297.2" r="4.5"/><circle cx="784.4" cy="326.9" r="4.5"/><circle cx="852.8" cy="243.4" r="4.5"/><circle cx="627.9" cy="242.4" r="4.5"/><circle cx="740.5" cy="348.8" r="4.5"/><circle cx="658.0" cy="183.0" r="4.5"/><circle cx="781.6" cy="278.4" r="4.5"/><circle cx="878.7" cy="318.4" r="4.5"/><circle cx="857.4" cy="271.9" r="4.5"/><circle cx="501.1" cy="503.9" r="4.5"/><circle cx="864.2" cy="324.4" r="4.5"/><circle cx="792.5" cy="288.7" r="4.5"/><circle cx="763.2" cy="362.5" r="4.5"/><circle cx="895.0" cy="260.5" r="4.5"/><circle cx="793.6" cy="359.9" r="4.5"/><circle cx="645.4" cy="181.1" r="4.5"/><circle cx="780.9" cy="298.1" r="4.5"/><circle cx="712.9" cy="274.4" r="4.5"/><circle cx="332.5" cy="645.0" r="4.5"/><circle cx="730.8" cy="506.1" r="4.5"/><circle cx="818.0" cy="513.9" r="4.5"/><circle cx="732.1" cy="466.3" r="4.5"/><circle cx="744.3" cy="309.5" r="4.5"/><circle cx="803.4" cy="204.1" r="4.5"/><circle cx="628.0" cy="204.6" r="4.5"/><circle cx="850.2" cy="500.3" r="4.5"/><circle cx="655.3" cy="157.3" r="4.5"/><circle cx="813.0" cy="280.2" r="4.5"/><circle cx="815.3" cy="332.4" r="4.5"/><circle cx="771.1" cy="399.1" r="4.5"/><circle cx="768.4" cy="273.5" r="4.5"/><circle cx="782.5" cy="207.6" r="4.5"/><circle cx="797.5" cy="527.8" r="4.5"/><circle cx="826.7" cy="324.4" r="4.5"/><circle cx="814.3" cy="471.8" r="4.5"/><circle cx="658.1" cy="137.0" r="4.5"/><circle cx="755.8" cy="480.1" r="4.5"/><circle cx="770.9" cy="234.0" r="4.5"/><circle cx="601.5" cy="167.9" r="4.5"/><circle cx="726.5" cy="338.9" r="4.5"/><circle cx="791.5" cy="189.3" r="4.5"/><circle cx="629.9" cy="254.7" r="4.5"/><circle cx="613.3" cy="190.4" r="4.5"/><circle cx="614.7" cy="231.1" r="4.5"/><circle cx="643.0" cy="174.4" r="4.5"/><circle cx="755.0" cy="489.8" r="4.5"/><circle cx="518.2" cy="512.3" r="4.5"/><circle cx="756.7" cy="524.2" r="4.5"/><circle cx="701.2" cy="222.5" r="4.5"/><circle cx="597.0" cy="226.7" r="4.5"/><circle cx="863.4" cy="285.4" r="4.5"/><circle cx="794.3" cy="423.4" r="4.5"/><circle cx="804.1" cy="505.0" r="4.5"/><circle cx="808.9" cy="196.2" r="4.5"/><circle cx="729.5" cy="493.4" r="4.5"/><circle cx="752.0" cy="283.8" r="4.5"/><circle cx="812.8" cy="323.0" r="4.5"/><circle cx="778.3" cy="321.6" r="4.5"/><circle cx="890.4" cy="306.9" r="4.5"/><circle cx="748.1" cy="510.1" r="4.5"/><circle cx="813.9" cy="534.6" r="4.5"/><circle cx="853.9" cy="296.0" r="4.5"/><circle cx="645.3" cy="151.0" r="4.5"/><circle cx="490.1" cy="532.1" r="4.5"/><circle cx="812.8" cy="242.8" r="4.5"/><circle cx="749.3" cy="492.1" r="4.5"/><circle cx="870.2" cy="288.8" r="4.5"/><circle cx="825.0" cy="512.8" r="4.5"/><circle cx="827.5" cy="280.6" r="4.5"/><circle cx="737.4" cy="314.5" r="4.5"/><circle cx="844.1" cy="347.7" r="4.5"/><circle cx="720.7" cy="473.8" r="4.5"/><circle cx="779.0" cy="284.3" r="4.5"/><circle cx="740.8" cy="223.3" r="4.5"/><circle cx="624.8" cy="148.6" r="4.5"/><circle cx="497.3" cy="523.8" r="4.5"/><circle cx="801.5" cy="437.6" r="4.5"/><circle cx="826.8" cy="233.5" r="4.5"/><circle cx="777.2" cy="261.2" r="4.5"/><circle cx="797.0" cy="319.8" r="4.5"/><circle cx="817.8" cy="222.8" r="4.5"/><circle cx="760.0" cy="350.2" r="4.5"/><circle cx="784.0" cy="543.9" r="4.5"/><circle cx="773.1" cy="323.8" r="4.5"/><circle cx="819.8" cy="385.3" r="4.5"/><circle cx="818.8" cy="479.9" r="4.5"/><circle cx="643.5" cy="186.7" r="4.5"/><circle cx="742.5" cy="227.9" r="4.5"/><circle cx="644.6" cy="208.4" r="4.5"/><circle cx="762.0" cy="184.3" r="4.5"/><circle cx="820.7" cy="513.0" r="4.5"/><circle cx="754.6" cy="308.9" r="4.5"/><circle cx="790.6" cy="299.0" r="4.5"/><circle cx="803.9" cy="179.6" r="4.5"/><circle cx="755.1" cy="358.2" r="4.5"/><circle cx="698.9" cy="222.4" r="4.5"/><circle cx="813.8" cy="302.1" r="4.5"/><circle cx="868.2" cy="291.1" r="4.5"/><circle cx="806.5" cy="541.0" r="4.5"/><circle cx="786.1" cy="333.9" r="4.5"/><circle cx="747.6" cy="317.8" r="4.5"/><circle cx="829.6" cy="253.3" r="4.5"/><circle cx="776.3" cy="519.2" r="4.5"/><circle cx="804.7" cy="222.6" r="4.5"/><circle cx="789.0" cy="248.3" r="4.5"/><circle cx="784.0" cy="492.3" r="4.5"/><circle cx="756.6" cy="475.9" r="4.5"/><circle cx="605.5" cy="279.2" r="4.5"/><circle cx="617.0" cy="144.8" r="4.5"/><circle cx="786.5" cy="260.0" r="4.5"/><circle cx="751.8" cy="243.7" r="4.5"/><circle cx="734.7" cy="343.4" r="4.5"/><circle cx="802.5" cy="391.9" r="4.5"/><circle cx="730.1" cy="535.3" r="4.5"/><circle cx="717.4" cy="511.4" r="4.5"/><circle cx="735.8" cy="210.1" r="4.5"/><circle cx="754.3" cy="315.9" r="4.5"/><circle cx="877.2" cy="409.4" r="4.5"/><circle cx="772.2" cy="340.1" r="4.5"/><circle cx="595.1" cy="187.4" r="4.5"/></g><g fill="#5784db"><circle cx="200.5" cy="390.1" r="4.5"/><circle cx="191.3" cy="306.9" r="4.5"/><circle cx="279.7" cy="300.2" r="4.5"/><circle cx="351.8" cy="417.8" r="4.5"/><circle cx="255.0" cy="392.6" r="4.5"/><circle cx="210.3" cy="304.0" r="4.5"/><circle cx="325.8" cy="405.9" r="4.5"/><circle cx="299.4" cy="322.9" r="4.5"/><circle cx="264.4" cy="332.8" r="4.5"/><circle cx="322.6" cy="421.5" r="4.5"/><circle cx="260.2" cy="344.7" r="4.5"/><circle cx="220.0" cy="336.4" r="4.5"/><circle cx="226.7" cy="362.4" r="4.5"/><circle cx="241.6" cy="320.7" r="4.5"/><circle cx="241.7" cy="307.2" r="4.5"/><circle cx="220.8" cy="329.6" r="4.5"/><circle cx="209.3" cy="366.1" r="4.5"/><circle cx="223.3" cy="401.6" r="4.5"/><circle cx="293.9" cy="296.0" r="4.5"/><circle cx="195.6" cy="334.0" r="4.5"/><circle cx="242.4" cy="325.1" r="4.5"/><circle cx="274.5" cy="320.4" r="4.5"/><circle cx="220.2" cy="304.6" r="4.5"/><circle cx="216.4" cy="323.1" r="4.5"/><circle cx="268.0" cy="325.8" r="4.5"/><circle cx="249.1" cy="318.3" r="4.5"/><circle cx="305.4" cy="349.8" r="4.5"/><circle cx="227.2" cy="359.0" r="4.5"/><circle cx="253.3" cy="355.9" r="4.5"/><circle cx="229.4" cy="302.9" r="4.5"/><circle cx="307.1" cy="309.9" r="4.5"/><circle cx="223.5" cy="305.7" r="4.5"/><circle cx="333.0" cy="411.3" r="4.5"/><circle cx="294.9" cy="309.0" r="4.5"/><circle cx="293.7" cy="345.2" r="4.5"/><circle cx="295.8" cy="440.2" r="4.5"/><circle cx="308.1" cy="345.0" r="4.5"/><circle cx="349.2" cy="433.8" r="4.5"/><circle cx="340.4" cy="421.7" r="4.5"/><circle cx="312.2" cy="429.2" r="4.5"/><circle cx="202.4" cy="308.4" r="4.5"/><circle cx="255.0" cy="320.6" r="4.5"/><circle cx="213.5" cy="355.3" r="4.5"/><circle cx="248.1" cy="338.8" r="4.5"/><circle cx="221.0" cy="371.8" r="4.5"/><circle cx="212.8" cy="349.5" r="4.5"/><circle cx="311.7" cy="424.6" r="4.5"/><circle cx="213.5" cy="396.4" r="4.5"/><circle cx="318.6" cy="394.1" r="4.5"/><circle cx="197.2" cy="313.9" r="4.5"/><circle cx="308.9" cy="347.3" r="4.5"/><circle cx="331.2" cy="401.1" r="4.5"/><circle cx="247.1" cy="353.6" r="4.5"/><circle cx="313.9" cy="333.9" r="4.5"/><circle cx="222.9" cy="386.9" r="4.5"/><circle cx="335.2" cy="444.1" r="4.5"/><circle cx="225.1" cy="377.6" r="4.5"/><circle cx="277.9" cy="321.2" r="4.5"/><circle cx="196.4" cy="384.9" r="4.5"/><circle cx="290.8" cy="413.6" r="4.5"/><circle cx="345.5" cy="405.3" r="4.5"/><circle cx="347.1" cy="443.5" r="4.5"/><circle cx="334.6" cy="415.5" r="4.5"/><circle cx="262.1" cy="372.1" r="4.5"/><circle cx="210.5" cy="378.5" r="4.5"/><circle cx="303.1" cy="429.5" r="4.5"/><circle cx="324.0" cy="423.5" r="4.5"/><circle cx="261.2" cy="360.7" r="4.5"/><circle cx="255.7" cy="361.8" r="4.5"/><circle cx="259.5" cy="354.9" r="4.5"/><circle cx="238.9" cy="389.6" r="4.5"/><circle cx="329.7" cy="449.1" r="4.5"/><circle cx="278.0" cy="431.1" r="4.5"/><circle cx="200.8" cy="306.1" r="4.5"/><circle cx="187.5" cy="372.5" r="4.5"/><circle cx="176.2" cy="372.0" r="4.5"/><circle cx="211.6" cy="362.2" r="4.5"/><circle cx="276.8" cy="343.7" r="4.5"/><circle cx="288.7" cy="308.1" r="4.5"/><circle cx="270.1" cy="379.8" r="4.5"/><circle cx="300.4" cy="409.5" r="4.5"/><circle cx="242.7" cy="363.4" r="4.5"/><circle cx="214.1" cy="319.1" r="4.5"/><circle cx="238.1" cy="343.3" r="4.5"/><circle cx="263.4" cy="325.0" r="4.5"/><circle cx="341.5" cy="449.0" r="4.5"/></g><g fill="#57db94"><circle cx="591.2" cy="456.5" r="4.5"/><circle cx="432.6" cy="156.8" r="4.5"/><circle cx="368.9" cy="335.4" r="4.5"/><circle cx="532.6" cy="648.9" r="4.5"/><circle cx="605.8" cy="666.6" r="4.5"/><circle cx="495.8" cy="317.9" r="4.5"/><circle cx="450.5" cy="391.9" r="4.5"/><circle cx="504.3" cy="387.6" r="4.5"/><circle cx="427.6" cy="616.5" r="4.5"/><circle cx="449.4" cy="306.0" r="4.5"/><circle cx="576.0" cy="646.1" r="4.5"/><circle cx="473.7" cy="369.0" r="4.5"/><circle cx="637.7" cy="451.0" r="4.5"/><circle cx="386.8" cy="334.0" r="4.5"/><circle cx="551.8" cy="357.8" r="4.5"/><circle cx="665.9" cy="436.0" r="4.5"/><circle cx="668.3" cy="446.7" r="4.5"/><circle cx="464.8" cy="374.5" r="4.5"/><circle cx="419.1" cy="160.5" r="4.5"/><circle cx="410.8" cy="621.1" r="4.5"/><circle cx="623.7" cy="666.7" r="4.5"/><circle cx="581.1" cy="304.6" r="4.5"/><circle cx="472.0" cy="345.8" r="4.5"/><circle cx="555.9" cy="371.7" r="4.5"/><circle cx="508.4" cy="333.7" r="4.5"/><circle cx="438.0" cy="174.4" r="4.5"/><circle cx="620.0" cy="565.0" r="4.5"/><circle cx="499.2" cy="251.4" r="4.5"/><circle cx="485.6" cy="438.9" r="4.5"/><circle cx="611.4" cy="668.6" r="4.5"/><circle cx="586.5" cy="308.0" r="4.5"/><circle cx="489.1" cy="345.4" r="4.5"/><circle cx="518.1" cy="586.4" r="4.5"/><circle cx="614.4" cy="348.3" r="4.5"/><circle cx="652.7" cy="362.1" r="4.5"/><circle cx="637.1" cy="498.4" r="4.5"/><circle cx="581.8" cy="626.1" r="4.5"/><circle cx="476.6" cy="372.2" r="4.5"/><circle cx="668.3" cy="386.2" r="4.5"/><circle cx="495.0" cy="342.6" r="4.5"/><circle cx="515.8" cy="593.6" r="4.5"/><circle cx="667.6" cy="472.2" r="4.5"/><circle cx="523.9" cy="611.0" r="4.5"/><circle cx="639.9" cy="381.7" r="4.5"/><circle cx="554.7" cy="349.9" r="4.5"/><circle cx="617.8" cy="469.3" r="4.5"/><circle cx="617.7" cy="623.8" r="4.5"/><circle cx="537.3" cy="459.2" r="4.5"/><circle cx="489.8" cy="244.7" r="4.5"/><circle cx="386.2" cy="351.7" r="4.5"/><circle cx="683.8" cy="414.6" r="4.5"/><circle cx="637.4" cy="337.8" r="4.5"/><circle cx="504.9" cy="594.8" r="4.5"/><circle cx="575.4" cy="368.1" r="4.5"/><circle cx="440.4" cy="625.9" r="4.5"/><circle cx="695.7" cy="363.8" r="4.5"/><circle cx="520.3" cy="591.4" r="4.5"/><circle cx="563.2" cy="336.1" r="4.5"/><circle cx="448.9" cy="320.7" r="4.5"/><circle cx="633.5" cy="335.7" r="4.5"/><circle cx="639.1" cy="430.9" r="4.5"/><circle cx="534.2" cy="369.5" r="4.5"/><circle cx="546.8" cy="619.1" r="4.5"/><circle cx="611.8" cy="671.8" r="4.5"/><circle cx="545.3" cy="614.7" r="4.5"/><circle cx="552.5" cy="491.3" r="4.5"/><circle cx="563.2" cy="314.8" r="4.5"/><circle cx="585.4" cy="577.3" r="4.5"/><circle cx="533.3" cy="425.1" r="4.5"/><circle cx="682.2" cy="426.0" r="4.5"/><circle cx="690.3" cy="389.8" r="4.5"/><circle cx="583.1" cy="675.4" r="4.5"/><circle cx="579.2" cy="405.6" r="4.5"/><circle cx="639.3" cy="413.9" r="4.5"/><circle cx="402.1" cy="159.6" r="4.5"/><circle cx="549.2" cy="668.1" r="4.5"/><circle cx="660.9" cy="328.6" r="4.5"/><circle cx="490.8" cy="440.6" r="4.5"/><circle cx="512.3" cy="597.1" r="4.5"/><circle cx="451.8" cy="384.5" r="4.5"/><circle cx="685.9" cy="401.3" r="4.5"/><circle cx="617.3" cy="445.4" r="4.5"/><circle cx="536.6" cy="561.2" r="4.5"/><circle cx="525.1" cy="368.4" r="4.5"/><circle cx="468.2" cy="349.2" r="4.5"/><circle cx="538.1" cy="367.7" r="4.5"/><circle cx="423.2" cy="649.3" r="4.5"/><circle cx="672.3" cy="453.5" r="4.5"/><circle cx="534.2" cy="268.7" r="4.5"/><circle cx="599.7" cy="700.7" r="4.5"/><circle cx="497.9" cy="269.6" r="4.5"/><circle cx="352.1" cy="337.3" r="4.5"/><circle cx="484.8" cy="334.3" r="4.5"/><circle cx="592.1" cy="346.5" r="4.5"/><circle cx="556.5" cy="502.8" r="4.5"/><circle cx="593.2" cy="320.0" r="4.5"/><circle cx="612.6" cy="450.1" r="4.5"/><circle cx="548.4" cy="426.3" r="4.5"/><circle cx="659.9" cy="364.0" r="4.5"/><circle cx="451.8" cy="352.8" r="4.5"/><circle cx="587.0" cy="354.7" r="4.5"/><circle cx="686.5" cy="390.8" r="4.5"/><circle cx="442.2" cy="397.5" r="4.5"/><circle cx="622.1" cy="410.7" r="4.5"/><circle cx="504.7" cy="343.3" r="4.5"/><circle cx="540.1" cy="625.9" r="4.5"/><circle cx="618.6" cy="369.5" r="4.5"/><circle cx="653.9" cy="646.7" r="4.5"/><circle cx="608.8" cy="484.1" r="4.5"/><circle cx="350.9" cy="329.7" r="4.5"/><circle cx="527.1" cy="590.0" r="4.5"/><circle cx="479.8" cy="361.8" r="4.5"/><circle cx="355.5" cy="325.7" r="4.5"/><circle cx="573.3" cy="450.8" r="4.5"/><circle cx="523.1" cy="355.9" r="4.5"/><circle cx="580.6" cy="495.1" r="4.5"/><circle cx="632.6" cy="625.7" r="4.5"/><circle cx="539.4" cy="419.4" r="4.5"/><circle cx="555.8" cy="678.0" r="4.5"/><circle cx="631.3" cy="472.0" r="4.5"/><circle cx="525.9" cy="298.3" r="4.5"/><circle cx="604.3" cy="471.7" r="4.5"/><circle cx="498.4" cy="434.2" r="4.5"/><circle cx="521.4" cy="362.2" r="4.5"/><circle cx="648.8" cy="451.2" r="4.5"/><circle cx="543.2" cy="605.7" r="4.5"/><circle cx="514.6" cy="428.8" r="4.5"/><circle cx="596.8" cy="655.9" r="4.5"/><circle cx="442.0" cy="355.5" r="4.5"/><circle cx="451.1" cy="373.5" r="4.5"/><circle cx="437.9" cy="296.2" r="4.5"/><circle cx="382.3" cy="333.4" r="4.5"/><circle cx="605.3" cy="327.4" r="4.5"/><circle cx="483.9" cy="351.3" r="4.5"/><circle cx="504.9" cy="346.0" r="4.5"/><circle cx="525.6" cy="301.8" r="4.5"/><circle cx="465.1" cy="318.2" r="4.5"/><circle cx="361.7" cy="341.4" r="4.5"/><circle cx="581.7" cy="696.8" r="4.5"/><circle cx="542.9" cy="415.1" r="4.5"/><circle cx="583.1" cy="390.6" r="4.5"/><circle cx="573.9" cy="422.2" r="4.5"/><circle cx="515.5" cy="422.2" r="4.5"/><circle cx="428.8" cy="160.5" r="4.5"/><circle cx="625.8" cy="413.1" r="4.5"/><circle cx="668.0" cy="449.6" r="4.5"/><circle cx="457.3" cy="297.9" r="4.5"/><circle cx="618.0" cy="662.0" r="4.5"/><circle cx="578.9" cy="602.2" r="4.5"/><circle cx="576.8" cy="310.1" r="4.5"/><circle cx="528.9" cy="385.3" r="4.5"/><circle cx="481.0" cy="269.0" r="4.5"/><circle cx="591.4" cy="354.8" r="4.5"/><circle cx="538.5" cy="635.3" r="4.5"/><circle cx="605.5" cy="412.6" r="4.5"/><circle cx="549.9" cy="696.5" r="4.5"/><circle cx="403.8" cy="392.5" r="4.5"/><circle cx="478.7" cy="300.2" r="4.5"/><circle cx="622.7" cy="619.9" r="4.5"/><circle cx="581.7" cy="345.8" r="4.5"/><circle cx="350.1" cy="309.8" r="4.5"/><circle cx="589.2" cy="377.1" r="4.5"/><circle cx="454.3" cy="291.0" r="4.5"/><circle cx="595.2" cy="462.9" r="4.5"/><circle cx="560.3" cy="595.1" r="4.5"/><circle cx="479.0" cy="287.2" r="4.5"/><circle cx="514.9" cy="395.5" r="4.5"/><circle cx="414.1" cy="349.2" r="4.5"/><circle cx="563.1" cy="559.5" r="4.5"/><circle cx="429.9" cy="660.0" r="4.5"/><circle cx="503.0" cy="266.3" r="4.5"/><circle cx="589.6" cy="644.0" r="4.5"/><circle cx="477.6" cy="385.9" r="4.5"/><circle cx="700.5" cy="397.2" r="4.5"/><circle cx="462.0" cy="346.9" r="4.5"/><circle cx="697.5" cy="411.1" r="4.5"/><circle cx="582.3" cy="632.0" r="4.5"/><circle cx="567.7" cy="604.4" r="4.5"/><circle cx="610.1" cy="470.1" r="4.5"/><circle cx="602.8" cy="643.8" r="4.5"/><circle cx="499.4" cy="301.4" r="4.5"/><circle cx="581.3" cy="629.1" r="4.5"/><circle cx="646.3" cy="383.2" r="4.5"/><circle cx="546.3" cy="352.2" r="4.5"/><circle cx="542.7" cy="677.5" r="4.5"/><circle cx="472.8" cy="377.4" r="4.5"/><circle cx="462.8" cy="298.1" r="4.5"/><circle cx="558.8" cy="433.2" r="4.5"/><circle cx="629.6" cy="335.3" r="4.5"/><circle cx="630.4" cy="438.0" r="4.5"/><circle cx="636.2" cy="618.0" r="4.5"/><circle cx="601.0" cy="468.2" r="4.5"/><circle cx="531.1" cy="279.6" r="4.5"/><circle cx="510.6" cy="404.4" r="4.5"/><circle cx="401.4" cy="620.9" r="4.5"/><circle cx="468.0" cy="654.3" r="4.5"/><circle cx="643.3" cy="637.1" r="4.5"/><circle cx="678.4" cy="382.4" r="4.5"/><circle cx="605.5" cy="390.0" r="4.5"/><circle cx="656.1" cy="385.6" r="4.5"/><circle cx="638.6" cy="493.9" r="4.5"/><circle cx="542.1" cy="343.1" r="4.5"/><circle cx="534.5" cy="629.8" r="4.5"/><circle cx="583.4" cy="694.9" r="4.5"/><circle cx="661.3" cy="388.0" r="4.5"/><circle cx="502.0" cy="609.9" r="4.5"/><circle cx="539.6" cy="370.1" r="4.5"/><circle cx="642.6" cy="668.6" r="4.5"/><circle cx="589.5" cy="285.5" r="4.5"/><circle cx="612.4" cy="643.8" r="4.5"/><circle cx="634.6" cy="447.4" r="4.5"/><circle cx="612.1" cy="344.0" r="4.5"/><circle cx="623.8" cy="417.2" r="4.5"/><circle cx="583.2" cy="617.8" r="4.5"/><circle cx="455.2" cy="632.3" r="4.5"/><circle cx="517.0" cy="307.2" r="4.5"/><circle cx="377.6" cy="375.6" r="4.5"/><circle cx="526.4" cy="289.8" r="4.5"/><circle cx="462.2" cy="666.4" r="4.5"/><circle cx="573.4" cy="419.6" r="4.5"/><circle cx="506.3" cy="319.3" r="4.5"/><circle cx="501.1" cy="589.6" r="4.5"/><circle cx="592.0" cy="573.4" r="4.5"/><circle cx="629.9" cy="390.3" r="4.5"/><circle cx="347.5" cy="253.8" r="4.5"/><circle cx="634.5" cy="581.2" r="4.5"/><circle cx="682.6" cy="420.2" r="4.5"/><circle cx="510.1" cy="602.5" r="4.5"/><circle cx="564.3" cy="422.4" r="4.5"/><circle cx="423.9" cy="141.1" r="4.5"/><circle cx="451.8" cy="415.5" r="4.5"/><circle cx="616.0" cy="381.3" r="4.5"/><circle cx="477.1" cy="392.9" r="4.5"/><circle cx="575.7" cy="418.1" r="4.5"/><circle cx="613.7" cy="469.0" r="4.5"/><circle cx="419.7" cy="171.9" r="4.5"/><circle cx="600.3" cy="458.7" r="4.5"/><circle cx="697.6" cy="353.6" r="4.5"/><circle cx="566.7" cy="371.8" r="4.5"/><circle cx="632.5" cy="376.1" r="4.5"/><circle cx="484.4" cy="344.4" r="4.5"/><circle cx="656.9" cy="678.8" r="4.5"/><circle cx="642.8" cy="472.8" r="4.5"/><circle cx="599.2" cy="431.9" r="4.5"/><circle cx="593.1" cy="425.3" r="4.5"/><circle cx="508.0" cy="282.8" r="4.5"/><circle cx="656.3" cy="480.6" r="4.5"/><circle cx="483.5" cy="416.4" r="4.5"/><circle cx="573.3" cy="638.4" r="4.5"/><circle cx="535.6" cy="290.0" r="4.5"/><circle cx="581.6" cy="419.2" r="4.5"/><circle cx="412.2" cy="168.1" r="4.5"/><circle cx="612.1" cy="602.4" r="4.5"/><circle cx="658.4" cy="396.9" r="4.5"/><circle cx="514.4" cy="386.4" r="4.5"/><circle cx="491.9" cy="350.1" r="4.5"/><circle cx="434.4" cy="636.6" r="4.5"/><circle cx="564.5" cy="455.0" r="4.5"/><circle cx="677.7" cy="456.1" r="4.5"/><circle cx="660.4" cy="356.9" r="4.5"/><circle cx="413.4" cy="163.9" r="4.5"/><circle cx="695.8" cy="377.4" r="4.5"/><circle cx="628.2" cy="392.0" r="4.5"/><circle cx="628.9" cy="683.9" r="4.5"/><circle cx="479.7" cy="282.6" r="4.5"/><circle cx="563.0" cy="612.7" r="4.5"/><circle cx="600.2" cy="658.4" r="4.5"/><circle cx="557.9" cy="348.8" r="4.5"/><circle cx="519.5" cy="384.6" r="4.5"/><circle cx="691.2" cy="386.8" r="4.5"/><circle cx="649.2" cy="485.0" r="4.5"/><circle cx="564.0" cy="590.0" r="4.5"/><circle cx="569.9" cy="327.5" r="4.5"/><circle cx="658.9" cy="458.9" r="4.5"/><circle cx="567.8" cy="566.4" r="4.5"/><circle cx="505.9" cy="280.0" r="4.5"/><circle cx="627.7" cy="438.4" r="4.5"/><circle cx="602.6" cy="659.3" r="4.5"/><circle cx="615.6" cy="357.8" r="4.5"/><circle cx="424.7" cy="158.6" r="4.5"/><circle cx="433.6" cy="319.4" r="4.5"/><circle cx="596.0" cy="699.0" r="4.5"/><circle cx="602.1" cy="477.4" r="4.5"/><circle cx="383.8" cy="317.6" r="4.5"/><circle cx="604.5" cy="692.3" r="4.5"/><circle cx="361.7" cy="287.1" r="4.5"/><circle cx="476.2" cy="273.6" r="4.5"/><circle cx="502.3" cy="417.1" r="4.5"/><circle cx="608.7" cy="401.6" r="4.5"/><circle cx="626.7" cy="484.2" r="4.5"/><circle cx="595.8" cy="563.7" r="4.5"/><circle cx="430.6" cy="185.3" r="4.5"/><circle cx="589.4" cy="370.9" r="4.5"/><circle cx="462.3" cy="311.2" r="4.5"/><circle cx="570.6" cy="417.0" r="4.5"/><circle cx="657.8" cy="676.5" r="4.5"/><circle cx="654.8" cy="442.5" r="4.5"/><circle cx="590.0" cy="285.5" r="4.5"/><circle cx="519.4" cy="414.4" r="4.5"/><circle cx="379.9" cy="344.8" r="4.5"/><circle cx="606.1" cy="356.2" r="4.5"/><circle cx="444.9" cy="359.7" r="4.5"/><circle cx="636.1" cy="657.7" r="4.5"/><circle cx="568.6" cy="382.7" r="4.5"/><circle cx="518.6" cy="278.4" r="4.5"/><circle cx="572.9" cy="373.4" r="4.5"/><circle cx="495.2" cy="260.0" r="4.5"/><circle cx="659.4" cy="651.5" r="4.5"/><circle cx="675.0" cy="601.2" r="4.5"/><circle cx="550.1" cy="693.6" r="4.5"/><circle cx="609.0" cy="637.5" r="4.5"/><circle cx="627.6" cy="687.8" r="4.5"/><circle cx="553.8" cy="323.9" r="4.5"/><circle cx="671.5" cy="466.5" r="4.5"/><circle cx="501.6" cy="386.3" r="4.5"/><circle cx="642.1" cy="678.2" r="4.5"/><circle cx="532.8" cy="567.5" r="4.5"/><circle cx="491.8" cy="420.4" r="4.5"/><circle cx="415.9" cy="145.7" r="4.5"/><circle cx="597.9" cy="327.7" r="4.5"/><circle cx="629.0" cy="607.7" r="4.5"/><circle cx="528.4" cy="302.7" r="4.5"/><circle cx="481.1" cy="436.4" r="4.5"/><circle cx="661.9" cy="456.6" r="4.5"/><circle cx="553.8" cy="414.5" r="4.5"/><circle cx="653.8" cy="588.8" r="4.5"/><circle cx="523.6" cy="306.9" r="4.5"/><circle cx="524.5" cy="381.2" r="4.5"/><circle cx="430.7" cy="302.1" r="4.5"/><circle cx="479.2" cy="256.4" r="4.5"/><circle cx="552.9" cy="390.7" r="4.5"/><circle cx="609.2" cy="423.0" r="4.5"/><circle cx="611.5" cy="680.5" r="4.5"/><circle cx="686.7" cy="371.1" r="4.5"/><circle cx="664.6" cy="482.3" r="4.5"/><circle cx="608.7" cy="346.0" r="4.5"/><circle cx="594.7" cy="363.1" r="4.5"/><circle cx="547.8" cy="444.3" r="4.5"/><circle cx="532.9" cy="638.9" r="4.5"/><circle cx="519.9" cy="613.0" r="4.5"/><circle cx="675.9" cy="327.4" r="4.5"/><circle cx="494.7" cy="369.1" r="4.5"/><circle cx="411.6" cy="670.4" r="4.5"/><circle cx="650.7" cy="647.1" r="4.5"/><circle cx="514.7" cy="608.6" r="4.5"/><circle cx="528.2" cy="638.8" r="4.5"/><circle cx="695.3" cy="383.7" r="4.5"/><circle cx="681.2" cy="447.2" r="4.5"/><circle cx="549.2" cy="646.2" r="4.5"/><circle cx="537.3" cy="571.4" r="4.5"/><circle cx="661.2" cy="393.6" r="4.5"/><circle cx="458.9" cy="383.6" r="4.5"/><circle cx="529.2" cy="583.3" r="4.5"/><circle cx="536.1" cy="661.9" r="4.5"/><circle cx="622.8" cy="631.3" r="4.5"/><circle cx="595.3" cy="628.3" r="4.5"/><circle cx="598.2" cy="342.6" r="4.5"/><circle cx="525.9" cy="421.7" r="4.5"/><circle cx="681.4" cy="365.1" r="4.5"/><circle cx="420.8" cy="638.6" r="4.5"/><circle cx="713.0" cy="138.0" r="4.5"/><circle cx="542.2" cy="294.8" r="4.5"/><circle cx="675.6" cy="364.8" r="4.5"/><circle cx="542.0" cy="613.9" r="4.5"/><circle cx="546.1" cy="682.0" r="4.5"/><circle cx="642.1" cy="662.5" r="4.5"/><circle cx="481.7" cy="331.0" r="4.5"/><circle cx="652.1" cy="377.8" r="4.5"/><circle cx="672.3" cy="344.4" r="4.5"/><circle cx="452.8" cy="659.9" r="4.5"/><circle cx="583.7" cy="652.8" r="4.5"/><circle cx="531.0" cy="358.1" r="4.5"/><circle cx="441.9" cy="628.6" r="4.5"/><circle cx="558.8" cy="602.5" r="4.5"/><circle cx="604.1" cy="585.4" r="4.5"/><circle cx="625.1" cy="318.8" r="4.5"/><circle cx="581.5" cy="308.0" r="4.5"/><circle cx="551.9" cy="654.7" r="4.5"/><circle cx="591.9" cy="672.0" r="4.5"/><circle cx="469.9" cy="339.9" r="4.5"/><circle cx="547.8" cy="593.1" r="4.5"/><circle cx="568.2" cy="325.4" r="4.5"/><circle cx="433.3" cy="322.2" r="4.5"/><circle cx="604.5" cy="697.9" r="4.5"/><circle cx="540.7" cy="619.4" r="4.5"/><circle cx="361.4" cy="375.9" r="4.5"/><circle cx="642.3" cy="336.2" r="4.5"/><circle cx="621.8" cy="644.0" r="4.5"/><circle cx="538.9" cy="402.6" r="4.5"/><circle cx="346.5" cy="263.0" r="4.5"/><circle cx="436.8" cy="161.2" r="4.5"/><circle cx="456.5" cy="377.7" r="4.5"/><circle cx="673.6" cy="338.6" r="4.5"/><circle cx="535.2" cy="438.2" r="4.5"/><circle cx="398.6" cy="397.3" r="4.5"/><circle cx="520.7" cy="333.2" r="4.5"/></g><g fill="#db5f57"><circle cx="260.9" cy="532.3" r="4.5"/><circle cx="226.1" cy="474.1" r="4.5"/><circle cx="260.3" cy="490.7" r="4.5"/><circle cx="214.0" cy="505.9" r="4.5"/><circle cx="383.8" cy="732.5" r="4.5"/><circle cx="208.6" cy="453.3" r="4.5"/><circle cx="231.5" cy="477.4" r="4.5"/><circle cx="247.2" cy="552.5" r="4.5"/><circle cx="219.5" cy="493.0" r="4.5"/><circle cx="262.9" cy="529.7" r="4.5"/><circle cx="228.1" cy="545.5" r="4.5"/><circle cx="259.1" cy="483.3" r="4.5"/><circle cx="240.9" cy="486.6" r="4.5"/><circle cx="215.5" cy="451.8" r="4.5"/><circle cx="213.7" cy="512.7" r="4.5"/><circle cx="238.5" cy="473.0" r="4.5"/><circle cx="296.0" cy="494.4" r="4.5"/><circle cx="205.9" cy="505.9" r="4.5"/><circle cx="286.0" cy="572.5" r="4.5"/><circle cx="246.9" cy="484.1" r="4.5"/><circle cx="233.3" cy="449.9" r="4.5"/><circle cx="261.1" cy="512.6" r="4.5"/><circle cx="223.7" cy="454.8" r="4.5"/><circle cx="282.7" cy="515.8" r="4.5"/><circle cx="242.1" cy="564.5" r="4.5"/><circle cx="243.9" cy="527.6" r="4.5"/><circle cx="220.3" cy="499.2" r="4.5"/><circle cx="251.2" cy="537.6" r="4.5"/><circle cx="301.0" cy="563.4" r="4.5"/><circle cx="289.0" cy="545.7" r="4.5"/><circle cx="237.9" cy="546.6" r="4.5"/><circle cx="280.8" cy="525.8" r="4.5"/><circle cx="238.1" cy="483.7" r="4.5"/><circle cx="289.7" cy="580.1" r="4.5"/><circle cx="241.4" cy="463.1" r="4.5"/><circle cx="224.0" cy="484.1" r="4.5"/><circle cx="327.9" cy="514.0" r="4.5"/><circle cx="228.6" cy="534.9" r="4.5"/><circle cx="241.7" cy="517.0" r="4.5"/><circle cx="212.5" cy="448.5" r="4.5"/><circle cx="217.6" cy="476.5" r="4.5"/><circle cx="226.5" cy="501.1" r="4.5"/><circle cx="304.6" cy="560.7" r="4.5"/><circle cx="283.9" cy="487.6" r="4.5"/><circle cx="285.0" cy="537.1" r="4.5"/><circle cx="368.3" cy="730.0" r="4.5"/><circle cx="290.6" cy="554.8" r="4.5"/><circle cx="259.1" cy="493.8" r="4.5"/><circle cx="246.9" cy="492.9" r="4.5"/><circle cx="247.2" cy="524.9" r="4.5"/><circle cx="232.1" cy="494.6" r="4.5"/><circle cx="237.9" cy="494.4" r="4.5"/><circle cx="259.0" cy="501.9" r="4.5"/><circle cx="244.5" cy="498.6" r="4.5"/><circle cx="299.4" cy="510.0" r="4.5"/><circle cx="298.6" cy="491.2" r="4.5"/><circle cx="310.8" cy="499.2" r="4.5"/><circle cx="216.0" cy="500.1" r="4.5"/><circle cx="321.7" cy="512.3" r="4.5"/><circle cx="225.2" cy="516.9" r="4.5"/><circle cx="402.3" cy="722.5" r="4.5"/><circle cx="263.8" cy="463.0" r="4.5"/><circle cx="283.9" cy="564.7" r="4.5"/><circle cx="245.1" cy="511.5" r="4.5"/><circle cx="262.3" cy="525.8" r="4.5"/><circle cx="301.5" cy="516.1" r="4.5"/><circle cx="409.0" cy="729.5" r="4.5"/><circle cx="277.5" cy="554.9" r="4.5"/><circle cx="226.3" cy="466.9" r="4.5"/></g><g fill="#b9db57"><circle cx="846.6" cy="491.0" r="4.5"/><circle cx="804.7" cy="517.0" r="4.5"/><circle cx="790.3" cy="293.6" r="4.5"/><circle cx="790.0" cy="502.6" r="4.5"/><circle cx="748.8" cy="502.1" r="4.5"/><circle cx="725.8" cy="292.4" r="4.5"/><circle cx="748.4" cy="536.1" r="4.5"/><circle cx="824.3" cy="389.2" r="4.5"/><circle cx="849.0" cy="268.2" r="4.5"/><circle cx="538.8" cy="505.0" r="4.5"/><circle cx="643.9" cy="160.9" r="4.5"/><circle cx="900.8" cy="243.8" r="4.5"/><circle cx="830.7" cy="256.4" r="4.5"/><circle cx="798.7" cy="332.6" r="4.5"/><circle cx="791.4" cy="505.6" r="4.5"/><circle cx="848.6" cy="288.3" r="4.5"/><circle cx="715.5" cy="485.1" r="4.5"/><circle cx="804.8" cy="560.5" r="4.5"/><circle cx="656.5" cy="270.3" r="4.5"/><circle cx="676.8" cy="269.9" r="4.5"/><circle cx="655.7" cy="220.3" r="4.5"/><circle cx="746.2" cy="268.3" r="4.5"/><circle cx="841.1" cy="503.5" r="4.5"/><circle cx="805.6" cy="474.8" r="4.5"/><circle cx="621.8" cy="190.2" r="4.5"/><circle cx="760.5" cy="202.7" r="4.5"/><circle cx="782.2" cy="495.0" r="4.5"/><circle cx="770.5" cy="382.7" r="4.5"/><circle cx="866.2" cy="311.2" r="4.5"/><circle cx="773.0" cy="344.5" r="4.5"/><circle cx="737.7" cy="258.5" r="4.5"/><circle cx="690.3" cy="232.3" r="4.5"/><circle cx="762.9" cy="345.1" r="4.5"/><circle cx="759.6" cy="185.0" r="4.5"/><circle cx="505.6" cy="507.6" r="4.5"/><circle cx="754.5" cy="536.8" r="4.5"/><circle cx="758.3" cy="501.6" r="4.5"/><circle cx="745.2" cy="322.0" r="4.5"/><circle cx="807.6" cy="180.5" r="4.5"/><circle cx="657.6" cy="227.7" r="4.5"/><circle cx="743.4" cy="469.4" r="4.5"/><circle cx="760.7" cy="199.4" r="4.5"/><circle cx="669.3" cy="241.6" r="4.5"/><circle cx="784.4" cy="281.4" r="4.5"/><circle cx="792.1" cy="556.9" r="4.5"/><circle cx="696.2" cy="261.0" r="4.5"/><circle cx="780.9" cy="324.8" r="4.5"/><circle cx="718.8" cy="282.2" r="4.5"/><circle cx="605.5" cy="241.4" r="4.5"/><circle cx="805.3" cy="184.9" r="4.5"/><circle cx="654.0" cy="239.6" r="4.5"/><circle cx="690.8" cy="252.9" r="4.5"/><circle cx="820.9" cy="192.0" r="4.5"/><circle cx="752.1" cy="370.7" r="4.5"/><circle cx="746.8" cy="305.8" r="4.5"/><circle cx="850.1" cy="524.4" r="4.5"/><circle cx="670.3" cy="212.7" r="4.5"/><circle cx="826.5" cy="283.3" r="4.5"/><circle cx="815.4" cy="503.8" r="4.5"/><circle cx="841.6" cy="333.7" r="4.5"/><circle cx="859.1" cy="330.5" r="4.5"/><circle cx="770.0" cy="494.9" r="4.5"/><circle cx="625.9" cy="254.7" r="4.5"/><circle cx="654.1" cy="216.1" r="4.5"/><circle cx="825.6" cy="343.7" r="4.5"/><circle cx="717.5" cy="553.8" r="4.5"/><circle cx="591.9" cy="222.2" r="4.5"/><circle cx="756.3" cy="192.4" r="4.5"/><circle cx="493.4" cy="531.5" r="4.5"/><circle cx="887.2" cy="303.5" r="4.5"/><circle cx="815.0" cy="274.4" r="4.5"/><circle cx="335.0" cy="648.0" r="4.5"/><circle cx="787.5" cy="244.7" r="4.5"/><circle cx="752.3" cy="341.9" r="4.5"/><circle cx="827.2" cy="548.2" r="4.5"/><circle cx="828.1" cy="304.0" r="4.5"/><circle cx="828.7" cy="276.7" r="4.5"/><circle cx="902.0" cy="261.8" r="4.5"/><circle cx="448.4" cy="527.9" r="4.5"/><circle cx="593.3" cy="190.2" r="4.5"/><circle cx="732.7" cy="332.7" r="4.5"/><circle cx="755.0" cy="280.1" r="4.5"/><circle cx="807.1" cy="311.9" r="4.5"/><circle cx="842.7" cy="307.4" r="4.5"/><circle cx="579.7" cy="188.1" r="4.5"/><circle cx="836.9" cy="238.2" r="4.5"/><circle cx="844.3" cy="238.5" r="4.5"/><circle cx="762.2" cy="208.1" r="4.5"/><circle cx="729.3" cy="466.7" r="4.5"/><circle cx="776.8" cy="194.0" r="4.5"/><circle cx="741.3" cy="313.0" r="4.5"/><circle cx="500.7" cy="514.7" r="4.5"/><circle cx="846.0" cy="282.6" r="4.5"/><circle cx="776.4" cy="207.1" r="4.5"/><circle cx="826.3" cy="258.5" r="4.5"/><circle cx="768.2" cy="204.1" r="4.5"/><circle cx="454.7" cy="534.6" r="4.5"/><circle cx="852.9" cy="506.6" r="4.5"/><circle cx="846.0" cy="264.2" r="4.5"/><circle cx="652.1" cy="255.3" r="4.5"/><circle cx="727.5" cy="350.0" r="4.5"/><circle cx="795.6" cy="463.8" r="4.5"/><circle cx="803.2" cy="362.0" r="4.5"/><circle cx="825.6" cy="203.7" r="4.5"/><circle cx="507.8" cy="518.1" r="4.5"/><circle cx="773.4" cy="176.9" r="4.5"/><circle cx="343.8" cy="642.5" r="4.5"/><circle cx="850.1" cy="491.7" r="4.5"/><circle cx="483.0" cy="517.5" r="4.5"/><circle cx="765.3" cy="510.6" r="4.5"/><circle cx="854.9" cy="344.3" r="4.5"/><circle cx="812.4" cy="248.8" r="4.5"/><circle cx="637.8" cy="203.6" r="4.5"/><circle cx="685.5" cy="245.4" r="4.5"/><circle cx="771.7" cy="179.0" r="4.5"/><circle cx="724.6" cy="529.5" r="4.5"/><circle cx="811.7" cy="317.6" r="4.5"/><circle cx="811.6" cy="274.4" r="4.5"/><circle cx="647.9" cy="210.2" r="4.5"/><circle cx="775.0" cy="416.7" r="4.5"/><circle cx="599.4" cy="210.9" r="4.5"/><circle cx="754.4" cy="377.5" r="4.5"/><circle cx="835.5" cy="224.9" r="4.5"/><circle cx="855.1" cy="497.0" r="4.5"/><circle cx="650.2" cy="170.0" r="4.5"/><circle cx="815.4" cy="283.9" r="4.5"/><circle cx="486.0" cy="540.4" r="4.5"/><circle cx="677.9" cy="190.8" r="4.5"/><circle cx="784.1" cy="263.1" r="4.5"/><circle cx="729.0" cy="500.6" r="4.5"/><circle cx="662.4" cy="153.6" r="4.5"/><circle cx="857.8" cy="311.7" r="4.5"/><circle cx="873.0" cy="325.6" r="4.5"/><circle cx="831.6" cy="289.1" r="4.5"/><circle cx="641.8" cy="263.7" r="4.5"/><circle cx="800.9" cy="182.9" r="4.5"/><circle cx="728.5" cy="487.1" r="4.5"/><circle cx="782.4" cy="237.7" r="4.5"/><circle cx="792.3" cy="407.4" r="4.5"/><circle cx="842.3" cy="215.2" r="4.5"/><circle cx="483.2" cy="506.8" r="4.5"/><circle cx="815.4" cy="267.2" r="4.5"/><circle cx="858.0" cy="341.6" r="4.5"/><circle cx="861.9" cy="513.8" r="4.5"/><circle cx="811.2" cy="393.9" r="4.5"/><circle cx="634.8" cy="172.8" r="4.5"/><circle cx="853.9" cy="328.6" r="4.5"/><circle cx="664.8" cy="152.7" r="4.5"/><circle cx="826.4" cy="498.6" r="4.5"/><circle cx="767.7" cy="264.5" r="4.5"/><circle cx="718.4" cy="529.3" r="4.5"/><circle cx="458.8" cy="539.3" r="4.5"/><circle cx="793.2" cy="218.0" r="4.5"/><circle cx="771.1" cy="225.7" r="4.5"/><circle cx="726.4" cy="479.5" r="4.5"/><circle cx="820.1" cy="404.5" r="4.5"/><circle cx="778.1" cy="302.8" r="4.5"/><circle cx="825.3" cy="309.3" r="4.5"/><circle cx="762.2" cy="543.1" r="4.5"/><circle cx="845.7" cy="231.1" r="4.5"/><circle cx="806.6" cy="205.0" r="4.5"/><circle cx="736.3" cy="279.4" r="4.5"/><circle cx="637.4" cy="190.5" r="4.5"/><circle cx="754.4" cy="325.9" r="4.5"/><circle cx="504.9" cy="514.8" r="4.5"/><circle cx="749.3" cy="261.6" r="4.5"/><circle cx="811.1" cy="424.7" r="4.5"/><circle cx="884.7" cy="316.9" r="4.5"/><circle cx="639.7" cy="257.6" r="4.5"/><circle cx="846.8" cy="307.5" r="4.5"/><circle cx="732.7" cy="517.0" r="4.5"/><circle cx="768.0" cy="229.7" r="4.5"/><circle cx="622.8" cy="184.8" r="4.5"/><circle cx="889.8" cy="397.0" r="4.5"/><circle cx="748.8" cy="215.7" r="4.5"/><circle cx="817.8" cy="248.5" r="4.5"/><circle cx="678.4" cy="263.6" r="4.5"/><circle cx="786.7" cy="205.8" r="4.5"/><circle cx="827.9" cy="556.4" r="4.5"/><circle cx="856.0" cy="274.0" r="4.5"/><circle cx="813.1" cy="309.3" r="4.5"/><circle cx="783.7" cy="533.2" r="4.5"/><circle cx="826.6" cy="525.5" r="4.5"/><circle cx="750.7" cy="299.5" r="4.5"/><circle cx="783.1" cy="318.1" r="4.5"/><circle cx="797.7" cy="299.4" r="4.5"/><circle cx="806.2" cy="298.7" r="4.5"/><circle cx="471.4" cy="546.5" r="4.5"/><circle cx="835.2" cy="230.1" r="4.5"/><circle cx="774.3" cy="506.2" r="4.5"/><circle cx="487.7" cy="500.7" r="4.5"/><circle cx="689.6" cy="226.2" r="4.5"/><circle cx="590.1" cy="228.4" r="4.5"/><circle cx="726.0" cy="293.3" r="4.5"/><circle cx="679.4" cy="245.0" r="4.5"/><circle cx="790.0" cy="493.9" r="4.5"/><circle cx="498.4" cy="507.7" r="4.5"/><circle cx="797.8" cy="512.0" r="4.5"/><circle cx="802.7" cy="356.7" r="4.5"/><circle cx="629.7" cy="170.4" r="4.5"/><circle cx="499.5" cy="536.1" r="4.5"/><circle cx="789.7" cy="374.2" r="4.5"/><circle cx="614.9" cy="148.1" r="4.5"/><circle cx="797.4" cy="424.7" r="4.5"/><circle cx="750.3" cy="315.4" r="4.5"/><circle cx="772.1" cy="509.4" r="4.5"/><circle cx="604.1" cy="186.3" r="4.5"/><circle cx="777.4" cy="354.4" r="4.5"/><circle cx="767.9" cy="356.4" r="4.5"/><circle cx="752.1" cy="329.8" r="4.5"/><circle cx="669.6" cy="193.9" r="4.5"/><circle cx="480.1" cy="523.0" r="4.5"/><circle cx="817.8" cy="245.8" r="4.5"/><circle cx="598.8" cy="185.5" r="4.5"/><circle cx="845.0" cy="388.8" r="4.5"/><circle cx="620.2" cy="239.6" r="4.5"/><circle cx="753.2" cy="304.7" r="4.5"/><circle cx="776.1" cy="312.1" r="4.5"/><circle cx="858.1" cy="237.0" r="4.5"/><circle cx="470.2" cy="524.2" r="4.5"/><circle cx="807.2" cy="357.5" r="4.5"/><circle cx="638.5" cy="254.9" r="4.5"/><circle cx="473.1" cy="532.3" r="4.5"/><circle cx="656.7" cy="206.6" r="4.5"/><circle cx="788.7" cy="252.6" r="4.5"/><circle cx="595.6" cy="193.6" r="4.5"/><circle cx="639.0" cy="232.6" r="4.5"/><circle cx="800.5" cy="470.5" r="4.5"/><circle cx="844.7" cy="225.5" r="4.5"/><circle cx="746.6" cy="337.3" r="4.5"/><circle cx="769.1" cy="542.7" r="4.5"/><circle cx="787.7" cy="221.7" r="4.5"/><circle cx="765.4" cy="390.2" r="4.5"/><circle cx="831.5" cy="203.4" r="4.5"/><circle cx="797.9" cy="202.4" r="4.5"/><circle cx="789.9" cy="499.9" r="4.5"/><circle cx="818.0" cy="393.1" r="4.5"/><circle cx="813.0" cy="527.5" r="4.5"/><circle cx="797.5" cy="427.3" r="4.5"/><circle cx="840.0" cy="386.2" r="4.5"/><circle cx="816.5" cy="498.2" r="4.5"/><circle cx="848.3" cy="331.3" r="4.5"/><circle cx="734.4" cy="524.5" r="4.5"/><circle cx="843.9" cy="261.7" r="4.5"/><circle cx="788.3" cy="554.8" r="4.5"/><circle cx="660.7" cy="236.6" r="4.5"/><circle cx="755.6" cy="250.1" r="4.5"/><circle cx="782.5" cy="218.9" r="4.5"/><circle cx="833.5" cy="544.7" r="4.5"/><circle cx="627.2" cy="199.9" r="4.5"/><circle cx="801.1" cy="287.3" r="4.5"/><circle cx="702.9" cy="264.1" r="4.5"/><circle cx="633.6" cy="226.6" r="4.5"/><circle cx="872.6" cy="337.8" r="4.5"/><circle cx="604.2" cy="183.7" r="4.5"/><circle cx="732.6" cy="322.4" r="4.5"/><circle cx="833.3" cy="502.2" r="4.5"/><circle cx="476.1" cy="526.3" r="4.5"/><circle cx="882.4" cy="309.5" r="4.5"/><circle cx="616.6" cy="167.3" r="4.5"/><circle cx="657.1" cy="168.0" r="4.5"/><circle cx="436.0" cy="515.9" r="4.5"/><circle cx="836.4" cy="213.8" r="4.5"/><circle cx="788.3" cy="219.2" r="4.5"/><circle cx="826.8" cy="271.8" r="4.5"/><circle cx="784.5" cy="550.5" r="4.5"/><circle cx="818.4" cy="333.6" r="4.5"/><circle cx="820.0" cy="468.1" r="4.5"/><circle cx="861.0" cy="293.7" r="4.5"/><circle cx="832.2" cy="538.7" r="4.5"/><circle cx="757.4" cy="434.7" r="4.5"/><circle cx="806.7" cy="302.9" r="4.5"/><circle cx="790.6" cy="333.2" r="4.5"/><circle cx="728.4" cy="295.7" r="4.5"/><circle cx="783.9" cy="215.7" r="4.5"/><circle cx="845.7" cy="222.8" r="4.5"/><circle cx="813.3" cy="277.6" r="4.5"/><circle cx="750.2" cy="529.0" r="4.5"/><circle cx="605.2" cy="203.1" r="4.5"/><circle cx="783.7" cy="284.4" r="4.5"/><circle cx="813.2" cy="460.0" r="4.5"/><circle cx="777.5" cy="185.2" r="4.5"/><circle cx="881.5" cy="319.6" r="4.5"/><circle cx="727.4" cy="537.0" r="4.5"/><circle cx="754.7" cy="530.9" r="4.5"/><circle cx="666.7" cy="263.8" r="4.5"/><circle cx="724.4" cy="281.1" r="4.5"/><circle cx="784.6" cy="508.9" r="4.5"/><circle cx="837.9" cy="276.0" r="4.5"/><circle cx="744.2" cy="199.4" r="4.5"/><circle cx="459.5" cy="527.3" r="4.5"/><circle cx="795.6" cy="222.1" r="4.5"/><circle cx="814.0" cy="344.5" r="4.5"/><circle cx="636.6" cy="181.3" r="4.5"/><circle cx="725.0" cy="284.8" r="4.5"/><circle cx="775.8" cy="469.2" r="4.5"/><circle cx="823.1" cy="355.5" r="4.5"/><circle cx="739.9" cy="242.9" r="4.5"/><circle cx="776.3" cy="251.1" r="4.5"/><circle cx="853.8" cy="383.0" r="4.5"/><circle cx="615.4" cy="217.6" r="4.5"/><circle cx="858.6" cy="327.9" r="4.5"/><circle cx="836.6" cy="228.0" r="4.5"/><circle cx="801.4" cy="310.7" r="4.5"/><circle cx="712.3" cy="507.5" r="4.5"/><circle cx="788.0" cy="296.8" r="4.5"/><circle cx="838.0" cy="279.7" r="4.5"/><circle cx="845.5" cy="241.2" r="4.5"/><circle cx="649.8" cy="241.7" r="4.5"/><circle cx="759.0" cy="322.8" r="4.5"/><circle cx="686.8" cy="218.7" r="4.5"/><circle cx="869.2" cy="328.8" r="4.5"/><circle cx="743.9" cy="500.7" r="4.5"/><circle cx="800.3" cy="473.0" r="4.5"/><circle cx="816.0" cy="527.0" r="4.5"/><circle cx="791.7" cy="372.8" r="4.5"/><circle cx="825.6" cy="246.6" r="4.5"/></g><g fill="#5784db"><circle cx="277.9" cy="323.7" r="4.5"/><circle cx="205.9" cy="367.9" r="4.5"/><circle cx="284.1" cy="356.5" r="4.5"/><circle cx="189.6" cy="383.4" r="4.5"/><circle cx="291.0" cy="439.0" r="4.5"/><circle cx="293.2" cy="354.2" r="4.5"/><circle cx="320.1" cy="344.7" r="4.5"/><circle cx="230.1" cy="358.2" r="4.5"/><circle cx="230.1" cy="395.7" r="4.5"/><circle cx="356.5" cy="423.4" r="4.5"/><circle cx="198.6" cy="373.4" r="4.5"/><circle cx="194.6" cy="318.5" r="4.5"/><circle cx="210.3" cy="330.6" r="4.5"/><circle cx="230.8" cy="351.6" r="4.5"/><circle cx="270.5" cy="308.6" r="4.5"/><circle cx="302.7" cy="311.4" r="4.5"/><circle cx="243.0" cy="360.9" r="4.5"/><circle cx="248.2" cy="365.8" r="4.5"/><circle cx="135.0" cy="385.0" r="4.5"/><circle cx="242.9" cy="349.3" r="4.5"/><circle cx="243.1" cy="354.9" r="4.5"/><circle cx="305.9" cy="400.7" r="4.5"/><circle cx="213.4" cy="309.7" r="4.5"/><circle cx="322.2" cy="441.3" r="4.5"/><circle cx="281.0" cy="406.0" r="4.5"/><circle cx="303.2" cy="352.3" r="4.5"/><circle cx="163.8" cy="375.0" r="4.5"/><circle cx="263.7" cy="320.1" r="4.5"/><circle cx="344.1" cy="446.4" r="4.5"/><circle cx="210.7" cy="325.1" r="4.5"/><circle cx="297.8" cy="376.0" r="4.5"/><circle cx="284.7" cy="345.1" r="4.5"/><circle cx="302.1" cy="399.2" r="4.5"/><circle cx="184.5" cy="391.9" r="4.5"/><circle cx="292.2" cy="358.3" r="4.5"/><circle cx="284.2" cy="384.1" r="4.5"/><circle cx="192.3" cy="311.7" r="4.5"/><circle cx="211.6" cy="352.3" r="4.5"/><circle cx="310.0" cy="392.3" r="4.5"/><circle cx="225.1" cy="365.6" r="4.5"/><circle cx="307.1" cy="361.8" r="4.5"/><circle cx="244.7" cy="327.8" r="4.5"/><circle cx="258.0" cy="314.0" r="4.5"/><circle cx="222.6" cy="303.4" r="4.5"/><circle cx="335.6" cy="419.1" r="4.5"/><circle cx="265.8" cy="372.5" r="4.5"/><circle cx="286.8" cy="323.7" r="4.5"/><circle cx="277.7" cy="367.2" r="4.5"/><circle cx="298.3" cy="333.5" r="4.5"/><circle cx="204.5" cy="330.1" r="4.5"/><circle cx="284.6" cy="327.1" r="4.5"/><circle cx="264.5" cy="313.2" r="4.5"/><circle cx="283.3" cy="427.0" r="4.5"/><circle cx="272.4" cy="373.1" r="4.5"/><circle cx="264.0" cy="362.4" r="4.5"/><circle cx="316.0" cy="446.5" r="4.5"/><circle cx="278.2" cy="425.7" r="4.5"/><circle cx="220.6" cy="395.4" r="4.5"/><circle cx="320.7" cy="453.8" r="4.5"/><circle cx="241.5" cy="390.1" r="4.5"/><circle cx="307.5" cy="419.1" r="4.5"/><circle cx="258.7" cy="391.4" r="4.5"/><circle cx="243.8" cy="339.7" r="4.5"/><circle cx="301.6" cy="357.7" r="4.5"/><circle cx="241.6" cy="330.7" r="4.5"/><circle cx="328.6" cy="404.7" r="4.5"/><circle cx="345.5" cy="414.0" r="4.5"/><circle cx="275.4" cy="303.3" r="4.5"/><circle cx="317.2" cy="431.4" r="4.5"/><circle cx="259.9" cy="316.8" r="4.5"/><circle cx="247.5" cy="313.8" r="4.5"/></g><g fill="#57db94"><circle cx="601.4" cy="596.5" r="4.5"/><circle cx="503.9" cy="258.5" r="4.5"/><circle cx="612.4" cy="664.7" r="4.5"/><circle cx="625.7" cy="425.3" r="4.5"/><circle cx="428.9" cy="177.1" r="4.5"/><circle cx="622.3" cy="389.2" r="4.5"/><circle cx="538.4" cy="600.5" r="4.5"/><circle cx="584.0" cy="404.5" r="4.5"/><circle cx="686.3" cy="425.8" r="4.5"/><circle cx="661.5" cy="333.2" r="4.5"/><circle cx="595.5" cy="379.8" r="4.5"/><circle cx="626.4" cy="659.9" r="4.5"/><circle cx="686.4" cy="448.4" r="4.5"/><circle cx="468.0" cy="629.5" r="4.5"/><circle cx="507.3" cy="388.3" r="4.5"/><circle cx="431.8" cy="299.9" r="4.5"/><circle cx="391.5" cy="360.4" r="4.5"/><circle cx="466.8" cy="293.5" r="4.5"/><circle cx="669.5" cy="422.7" r="4.5"/><circle cx="620.3" cy="395.5" r="4.5"/><circle cx="412.9" cy="148.1" r="4.5"/><circle cx="547.6" cy="484.8" r="4.5"/><circle cx="587.0" cy="570.9" r="4.5"/><circle cx="390.2" cy="344.1" r="4.5"/><circle cx="534.8" cy="671.2" r="4.5"/><circle cx="494.0" cy="375.3" r="4.5"/><circle cx="412.8" cy="663.3" r="4.5"/><circle cx="568.6" cy="482.8" r="4.5"/><circle cx="610.8" cy="629.1" r="4.5"/><circle cx="579.3" cy="455.2" r="4.5"/><circle cx="544.9" cy="556.5" r="4.5"/><circle cx="423.1" cy="150.6" r="4.5"/><circle cx="602.3" cy="672.1" r="4.5"/><circle cx="421.1" cy="664.9" r="4.5"/><circle cx="450.8" cy="639.7" r="4.5"/><circle cx="579.4" cy="387.3" r="4.5"/><circle cx="685.0" cy="378.0" r="4.5"/><circle cx="551.6" cy="567.6" r="4.5"/><circle cx="683.8" cy="601.2" r="4.5"/><circle cx="557.7" cy="340.0" r="4.5"/><circle cx="638.1" cy="486.5" r="4.5"/><circle cx="483.2" cy="440.0" r="4.5"/><circle cx="507.9" cy="347.5" r="4.5"/><circle cx="572.1" cy="599.1" r="4.5"/><circle cx="559.3" cy="370.7" r="4.5"/><circle cx="617.3" cy="619.8" r="4.5"/><circle cx="507.3" cy="355.0" r="4.5"/><circle cx="536.8" cy="338.6" r="4.5"/><circle cx="560.8" cy="464.4" r="4.5"/><circle cx="461.3" cy="362.4" r="4.5"/><circle cx="526.3" cy="432.8" r="4.5"/><circle cx="517.3" cy="340.8" r="4.5"/><circle cx="398.6" cy="645.3" r="4.5"/><circle cx="621.1" cy="646.4" r="4.5"/><circle cx="573.3" cy="619.0" r="4.5"/><circle cx="407.4" cy="151.2" r="4.5"/><circle cx="501.6" cy="305.4" r="4.5"/><circle cx="533.4" cy="323.3" r="4.5"/><circle cx="579.3" cy="688.7" r="4.5"/><circle cx="522.2" cy="412.9" r="4.5"/><circle cx="594.3" cy="608.9" r="4.5"/><circle cx="592.4" cy="413.4" r="4.5"/><circle cx="538.8" cy="646.9" r="4.5"/><circle cx="637.2" cy="376.5" r="4.5"/><circle cx="550.3" cy="557.4" r="4.5"/><circle cx="581.3" cy="637.0" r="4.5"/><circle cx="452.0" cy="298.8" r="4.5"/><circle cx="626.0" cy="665.6" r="4.5"/><circle cx="597.8" cy="621.7" r="4.5"/><circle cx="479.2" cy="412.1" r="4.5"/><circle cx="602.4" cy="387.7" r="4.5"/><circle cx="435.6" cy="295.3" r="4.5"/><circle cx="648.1" cy="332.5" r="4.5"/><circle cx="607.8" cy="384.1" r="4.5"/><circle cx="530.7" cy="381.3" r="4.5"/><circle cx="642.5" cy="393.9" r="4.5"/><circle cx="402.6" cy="614.7" r="4.5"/><circle cx="559.8" cy="417.1" r="4.5"/><circle cx="526.1" cy="266.2" r="4.5"/><circle cx="510.5" cy="435.2" r="4.5"/><circle cx="376.8" cy="380.2" r="4.5"/><circle cx="650.0" cy="654.2" r="4.5"/><circle cx="630.9" cy="399.9" r="4.5"/><circle cx="455.2" cy="355.0" r="4.5"/><circle cx="578.8" cy="573.2" r="4.5"/><circle cx="587.1" cy="664.3" r="4.5"/><circle cx="488.9" cy="302.7" r="4.5"/><circle cx="560.0" cy="470.4" r="4.5"/><circle cx="595.0" cy="368.0" r="4.5"/><circle cx="509.1" cy="424.9" r="4.5"/><circle cx="419.7" cy="618.6" r="4.5"/><circle cx="542.3" cy="588.5" r="4.5"/><circle cx="610.6" cy="654.6" r="4.5"/><circle cx="676.2" cy="410.6" r="4.5"/><circle cx="665.0" cy="468.9" r="4.5"/><circle cx="442.8" cy="665.6" r="4.5"/><circle cx="615.3" cy="625.9" r="4.5"/><circle cx="445.0" cy="152.7" r="4.5"/><circle cx="507.8" cy="378.4" r="4.5"/><circle cx="473.1" cy="317.8" r="4.5"/><circle cx="618.6" cy="386.6" r="4.5"/><circle cx="537.1" cy="399.5" r="4.5"/><circle cx="449.3" cy="324.6" r="4.5"/><circle cx="535.0" cy="305.6" r="4.5"/><circle cx="647.7" cy="677.8" r="4.5"/><circle cx="605.3" cy="642.5" r="4.5"/><circle cx="631.4" cy="340.4" r="4.5"/><circle cx="660.4" cy="412.3" r="4.5"/><circle cx="527.8" cy="372.0" r="4.5"/><circle cx="466.3" cy="377.4" r="4.5"/><circle cx="654.9" cy="335.3" r="4.5"/><circle cx="503.9" cy="318.3" r="4.5"/><circle cx="618.3" cy="346.2" r="4.5"/><circle cx="536.4" cy="381.9" r="4.5"/><circle cx="696.5" cy="394.7" r="4.5"/><circle cx="444.7" cy="631.9" r="4.5"/><circle cx="526.2" cy="385.8" r="4.5"/><circle cx="496.8" cy="398.3" r="4.5"/><circle cx="555.1" cy="592.0" r="4.5"/><circle cx="550.1" cy="354.9" r="4.5"/><circle cx="533.9" cy="558.1" r="4.5"/><circle cx="513.5" cy="318.8" r="4.5"/><circle cx="630.5" cy="358.6" r="4.5"/><circle cx="629.4" cy="429.7" r="4.5"/><circle cx="668.9" cy="636.9" r="4.5"/><circle cx="537.6" cy="578.4" r="4.5"/><circle cx="416.6" cy="656.7" r="4.5"/><circle cx="483.1" cy="340.1" r="4.5"/><circle cx="533.6" cy="340.5" r="4.5"/><circle cx="484.3" cy="246.0" r="4.5"/><circle cx="521.7" cy="294.8" r="4.5"/><circle cx="610.8" cy="575.0" r="4.5"/><circle cx="614.8" cy="640.5" r="4.5"/><circle cx="677.8" cy="385.3" r="4.5"/><circle cx="577.2" cy="683.7" r="4.5"/><circle cx="489.7" cy="380.5" r="4.5"/><circle cx="530.1" cy="316.9" r="4.5"/><circle cx="493.3" cy="321.3" r="4.5"/><circle cx="372.8" cy="335.6" r="4.5"/><circle cx="482.8" cy="393.9" r="4.5"/><circle cx="658.2" cy="402.4" r="4.5"/><circle cx="674.7" cy="424.6" r="4.5"/><circle cx="534.6" cy="284.3" r="4.5"/><circle cx="599.9" cy="697.1" r="4.5"/><circle cx="664.9" cy="651.9" r="4.5"/><circle cx="433.0" cy="672.9" r="4.5"/><circle cx="633.7" cy="483.6" r="4.5"/><circle cx="481.9" cy="386.1" r="4.5"/><circle cx="540.9" cy="398.3" r="4.5"/><circle cx="590.4" cy="477.5" r="4.5"/><circle cx="349.4" cy="318.7" r="4.5"/><circle cx="465.4" cy="384.8" r="4.5"/><circle cx="507.9" cy="286.2" r="4.5"/><circle cx="609.4" cy="410.5" r="4.5"/><circle cx="628.9" cy="347.0" r="4.5"/><circle cx="560.8" cy="558.2" r="4.5"/><circle cx="537.5" cy="326.5" r="4.5"/><circle cx="411.3" cy="143.5" r="4.5"/><circle cx="418.6" cy="671.0" r="4.5"/><circle cx="427.9" cy="375.8" r="4.5"/><circle cx="418.8" cy="637.2" r="4.5"/><circle cx="555.4" cy="379.6" r="4.5"/><circle cx="486.8" cy="253.3" r="4.5"/><circle cx="443.4" cy="342.5" r="4.5"/><circle cx="683.0" cy="339.5" r="4.5"/><circle cx="574.5" cy="318.6" r="4.5"/><circle cx="510.0" cy="380.3" r="4.5"/><circle cx="707.6" cy="405.0" r="4.5"/><circle cx="500.1" cy="350.4" r="4.5"/><circle cx="471.9" cy="387.4" r="4.5"/><circle cx="696.5" cy="430.5" r="4.5"/><circle cx="586.4" cy="619.2" r="4.5"/><circle cx="615.7" cy="672.0" r="4.5"/><circle cx="508.4" cy="415.1" r="4.5"/><circle cx="547.5" cy="673.9" r="4.5"/><circle cx="542.0" cy="300.9" r="4.5"/><circle cx="418.5" cy="145.8" r="4.5"/><circle cx="545.6" cy="563.3" r="4.5"/><circle cx="667.0" cy="364.2" r="4.5"/><circle cx="555.4" cy="574.0" r="4.5"/><circle cx="545.8" cy="649.1" r="4.5"/><circle cx="571.8" cy="670.0" r="4.5"/><circle cx="597.3" cy="457.2" r="4.5"/><circle cx="594.6" cy="455.2" r="4.5"/><circle cx="562.4" cy="431.5" r="4.5"/><circle cx="680.1" cy="389.8" r="4.5"/><circle cx="535.9" cy="407.4" r="4.5"/><circle cx="557.4" cy="367.9" r="4.5"/><circle cx="446.2" cy="333.8" r="4.5"/><circle cx="576.9" cy="640.5" r="4.5"/><circle cx="553.2" cy="664.4" r="4.5"/><circle cx="609.2" cy="426.5" r="4.5"/><circle cx="572.3" cy="673.8" r="4.5"/><circle cx="609.3" cy="480.1" r="4.5"/><circle cx="468.4" cy="271.6" r="4.5"/><circle cx="460.6" cy="379.2" r="4.5"/><circle cx="595.2" cy="686.8" r="4.5"/><circle cx="605.5" cy="556.2" r="4.5"/><circle cx="533.9" cy="420.6" r="4.5"/><circle cx="448.6" cy="394.3" r="4.5"/><circle cx="483.2" cy="292.2" r="4.5"/><circle cx="669.5" cy="359.6" r="4.5"/><circle cx="574.5" cy="572.1" r="4.5"/><circle cx="520.0" cy="421.4" r="4.5"/><circle cx="597.1" cy="474.3" r="4.5"/><circle cx="452.7" cy="663.9" r="4.5"/><circle cx="573.2" cy="678.6" r="4.5"/><circle cx="581.0" cy="461.0" r="4.5"/><circle cx="529.7" cy="319.3" r="4.5"/><circle cx="560.2" cy="356.3" r="4.5"/><circle cx="572.6" cy="591.0" r="4.5"/><circle cx="648.3" cy="477.1" r="4.5"/><circle cx="617.8" cy="658.2" r="4.5"/><circle cx="524.8" cy="268.9" r="4.5"/><circle cx="429.1" cy="168.5" r="4.5"/><circle cx="431.8" cy="636.9" r="4.5"/><circle cx="551.4" cy="570.5" r="4.5"/><circle cx="379.5" cy="334.4" r="4.5"/><circle cx="558.6" cy="501.3" r="4.5"/><circle cx="589.6" cy="414.0" r="4.5"/><circle cx="654.3" cy="364.0" r="4.5"/><circle cx="571.5" cy="624.0" r="4.5"/><circle cx="478.4" cy="416.1" r="4.5"/><circle cx="646.2" cy="632.4" r="4.5"/><circle cx="479.5" cy="306.5" r="4.5"/><circle cx="652.1" cy="425.8" r="4.5"/><circle cx="549.5" cy="345.9" r="4.5"/><circle cx="515.0" cy="614.7" r="4.5"/><circle cx="538.9" cy="280.8" r="4.5"/><circle cx="584.6" cy="358.8" r="4.5"/><circle cx="527.2" cy="323.0" r="4.5"/><circle cx="487.5" cy="622.0" r="4.5"/><circle cx="446.9" cy="383.5" r="4.5"/><circle cx="409.4" cy="652.4" r="4.5"/><circle cx="548.1" cy="309.6" r="4.5"/><circle cx="530.9" cy="341.1" r="4.5"/><circle cx="440.0" cy="286.7" r="4.5"/><circle cx="533.0" cy="343.1" r="4.5"/><circle cx="624.9" cy="624.6" r="4.5"/><circle cx="659.8" cy="660.8" r="4.5"/><circle cx="524.0" cy="425.2" r="4.5"/><circle cx="613.9" cy="413.9" r="4.5"/><circle cx="482.4" cy="286.5" r="4.5"/><circle cx="538.5" cy="605.1" r="4.5"/><circle cx="620.7" cy="400.2" r="4.5"/><circle cx="423.6" cy="617.5" r="4.5"/><circle cx="441.2" cy="642.5" r="4.5"/><circle cx="630.3" cy="454.1" r="4.5"/><circle cx="648.0" cy="426.3" r="4.5"/><circle cx="687.4" cy="416.0" r="4.5"/><circle cx="454.5" cy="329.2" r="4.5"/><circle cx="610.7" cy="430.2" r="4.5"/><circle cx="492.0" cy="369.2" r="4.5"/><circle cx="459.1" cy="357.8" r="4.5"/><circle cx="574.6" cy="663.7" r="4.5"/><circle cx="602.0" cy="443.7" r="4.5"/><circle cx="510.2" cy="622.2" r="4.5"/><circle cx="527.8" cy="263.5" r="4.5"/><circle cx="419.9" cy="658.7" r="4.5"/><circle cx="532.7" cy="310.2" r="4.5"/><circle cx="556.9" cy="431.1" r="4.5"/><circle cx="663.5" cy="359.9" r="4.5"/><circle cx="684.8" cy="345.3" r="4.5"/><circle cx="570.1" cy="426.1" r="4.5"/><circle cx="569.2" cy="468.4" r="4.5"/><circle cx="640.2" cy="465.2" r="4.5"/><circle cx="472.5" cy="324.2" r="4.5"/><circle cx="579.1" cy="409.6" r="4.5"/><circle cx="713.0" cy="145.5" r="4.5"/><circle cx="669.2" cy="453.0" r="4.5"/><circle cx="362.8" cy="347.0" r="4.5"/><circle cx="516.6" cy="611.6" r="4.5"/><circle cx="421.0" cy="627.1" r="4.5"/><circle cx="451.3" cy="636.0" r="4.5"/><circle cx="596.0" cy="611.3" r="4.5"/><circle cx="439.0" cy="344.4" r="4.5"/><circle cx="652.6" cy="369.7" r="4.5"/><circle cx="495.0" cy="625.0" r="4.5"/><circle cx="554.2" cy="381.7" r="4.5"/><circle cx="546.4" cy="297.3" r="4.5"/><circle cx="536.1" cy="432.0" r="4.5"/><circle cx="633.0" cy="389.8" r="4.5"/><circle cx="585.3" cy="432.5" r="4.5"/><circle cx="483.3" cy="358.7" r="4.5"/><circle cx="468.8" cy="385.0" r="4.5"/><circle cx="487.5" cy="329.2" r="4.5"/><circle cx="556.5" cy="428.4" r="4.5"/><circle cx="650.3" cy="408.2" r="4.5"/><circle cx="506.9" cy="585.9" r="4.5"/><circle cx="592.9" cy="341.3" r="4.5"/><circle cx="521.4" cy="405.9" r="4.5"/><circle cx="643.2" cy="356.5" r="4.5"/><circle cx="552.4" cy="597.5" r="4.5"/><circle cx="451.2" cy="415.0" r="4.5"/><circle cx="505.5" cy="253.8" r="4.5"/><circle cx="622.3" cy="663.7" r="4.5"/><circle cx="614.3" cy="408.2" r="4.5"/><circle cx="638.5" cy="328.0" r="4.5"/><circle cx="550.9" cy="493.9" r="4.5"/><circle cx="562.7" cy="343.4" r="4.5"/><circle cx="583.9" cy="462.2" r="4.5"/><circle cx="611.4" cy="619.9" r="4.5"/><circle cx="563.9" cy="444.5" r="4.5"/><circle cx="353.6" cy="369.2" r="4.5"/><circle cx="646.7" cy="386.5" r="4.5"/><circle cx="518.8" cy="320.7" r="4.5"/><circle cx="540.4" cy="686.0" r="4.5"/><circle cx="545.2" cy="437.6" r="4.5"/><circle cx="585.9" cy="689.2" r="4.5"/><circle cx="572.4" cy="649.6" r="4.5"/><circle cx="456.9" cy="649.8" r="4.5"/><circle cx="695.3" cy="356.9" r="4.5"/><circle cx="493.7" cy="384.2" r="4.5"/><circle cx="508.2" cy="314.1" r="4.5"/><circle cx="592.9" cy="460.6" r="4.5"/><circle cx="480.4" cy="338.5" r="4.5"/><circle cx="568.7" cy="584.2" r="4.5"/><circle cx="449.0" cy="156.4" r="4.5"/><circle cx="358.1" cy="315.2" r="4.5"/><circle cx="583.8" cy="602.5" r="4.5"/><circle cx="622.7" cy="393.0" r="4.5"/><circle cx="509.9" cy="244.3" r="4.5"/><circle cx="673.9" cy="353.6" r="4.5"/><circle cx="537.2" cy="413.8" r="4.5"/><circle cx="480.8" cy="241.9" r="4.5"/><circle cx="492.0" cy="291.5" r="4.5"/><circle cx="535.0" cy="329.2" r="4.5"/><circle cx="720.0" cy="131.2" r="4.5"/><circle cx="479.9" cy="396.0" r="4.5"/><circle cx="671.7" cy="404.0" r="4.5"/><circle cx="386.5" cy="300.8" r="4.5"/><circle cx="605.3" cy="701.4" r="4.5"/><circle cx="557.1" cy="692.6" r="4.5"/><circle cx="622.6" cy="597.1" r="4.5"/><circle cx="497.0" cy="308.6" r="4.5"/><circle cx="679.7" cy="378.9" r="4.5"/><circle cx="561.9" cy="575.5" r="4.5"/><circle cx="667.9" cy="394.3" r="4.5"/><circle cx="614.2" cy="374.6" r="4.5"/><circle cx="397.2" cy="623.7" r="4.5"/><circle cx="627.1" cy="662.2" r="4.5"/><circle cx="526.4" cy="315.3" r="4.5"/><circle cx="523.2" cy="580.0" r="4.5"/><circle cx="463.7" cy="276.4" r="4.5"/><circle cx="544.8" cy="486.3" r="4.5"/><circle cx="409.8" cy="632.6" r="4.5"/><circle cx="495.8" cy="440.4" r="4.5"/><circle cx="537.8" cy="568.9" r="4.5"/><circle cx="559.3" cy="443.1" r="4.5"/><circle cx="523.6" cy="347.4" r="4.5"/><circle cx="617.4" cy="615.0" r="4.5"/><circle cx="558.6" cy="447.8" r="4.5"/><circle cx="601.0" cy="600.3" r="4.5"/><circle cx="631.3" cy="349.2" r="4.5"/><circle cx="521.5" cy="299.6" r="4.5"/><circle cx="424.7" cy="153.9" r="4.5"/><circle cx="408.6" cy="665.7" r="4.5"/><circle cx="567.1" cy="667.2" r="4.5"/><circle cx="509.0" cy="391.4" r="4.5"/><circle cx="381.5" cy="329.6" r="4.5"/><circle cx="466.7" cy="398.3" r="4.5"/><circle cx="653.3" cy="618.7" r="4.5"/></g><g fill="#db5f57"><circle cx="221.4" cy="503.0" r="4.5"/><circle cx="314.9" cy="516.4" r="4.5"/><circle cx="268.6" cy="531.0" r="4.5"/><circle cx="236.2" cy="531.0" r="4.5"/><circle cx="406.0" cy="731.0" r="4.5"/><circle cx="266.1" cy="496.7" r="4.5"/><circle cx="312.5" cy="494.6" r="4.5"/><circle cx="273.8" cy="503.4" r="4.5"/><circle cx="296.4" cy="519.5" r="4.5"/><circle cx="293.4" cy="545.2" r="4.5"/><circle cx="228.8" cy="491.8" r="4.5"/><circle cx="236.5" cy="474.3" r="4.5"/><circle cx="307.1" cy="540.1" r="4.5"/><circle cx="281.4" cy="547.6" r="4.5"/><circle cx="309.6" cy="505.5" r="4.5"/><circle cx="232.2" cy="461.6" r="4.5"/><circle cx="244.8" cy="525.1" r="4.5"/><circle cx="237.7" cy="491.4" r="4.5"/><circle cx="243.3" cy="539.6" r="4.5"/><circle cx="266.0" cy="503.6" r="4.5"/><circle cx="238.4" cy="497.0" r="4.5"/><circle cx="248.0" cy="476.1" r="4.5"/><circle cx="226.4" cy="454.9" r="4.5"/><circle cx="277.1" cy="492.2" r="4.5"/><circle cx="260.0" cy="528.3" r="4.5"/><circle cx="227.1" cy="511.3" r="4.5"/><circle cx="415.5" cy="727.0" r="4.5"/><circle cx="293.6" cy="578.6" r="4.5"/><circle cx="249.1" cy="521.4" r="4.5"/><circle cx="258.0" cy="535.9" r="4.5"/><circle cx="257.8" cy="479.3" r="4.5"/><circle cx="207.4" cy="469.0" r="4.5"/><circle cx="278.9" cy="514.7" r="4.5"/><circle cx="313.7" cy="560.4" r="4.5"/><circle cx="376.5" cy="723.2" r="4.5"/><circle cx="252.9" cy="530.1" r="4.5"/><circle cx="310.6" cy="567.8" r="4.5"/><circle cx="326.6" cy="566.9" r="4.5"/><circle cx="273.0" cy="569.1" r="4.5"/><circle cx="215.1" cy="468.7" r="4.5"/><circle cx="220.2" cy="474.0" r="4.5"/><circle cx="281.5" cy="537.8" r="4.5"/><circle cx="234.3" cy="476.0" r="4.5"/><circle cx="272.3" cy="469.3" r="4.5"/><circle cx="282.0" cy="577.9" r="4.5"/><circle cx="289.4" cy="477.4" r="4.5"/><circle cx="364.6" cy="713.2" r="4.5"/><circle cx="274.9" cy="561.2" r="4.5"/><circle cx="218.0" cy="450.7" r="4.5"/><circle cx="277.9" cy="477.5" r="4.5"/><circle cx="264.1" cy="500.6" r="4.5"/><circle cx="413.0" cy="731.8" r="4.5"/><circle cx="316.4" cy="503.0" r="4.5"/><circle cx="239.7" cy="458.8" r="4.5"/><circle cx="273.2" cy="475.4" r="4.5"/><circle cx="244.6" cy="472.0" r="4.5"/><circle cx="264.5" cy="551.0" r="4.5"/><circle cx="310.9" cy="492.0" r="4.5"/><circle cx="275.1" cy="517.6" r="4.5"/></g><g fill="#b9db57"><circle cx="893.5" cy="309.6" r="4.5"/><circle cx="860.1" cy="271.3" r="4.5"/><circle cx="785.1" cy="443.3" r="4.5"/><circle cx="860.2" cy="517.8" r="4.5"/><circle cx="770.4" cy="537.1" r="4.5"/><circle cx="831.3" cy="325.8" r="4.5"/><circle cx="800.6" cy="215.2" r="4.5"/><circle cx="858.6" cy="295.6" r="4.5"/><circle cx="621.3" cy="218.0" r="4.5"/><circle cx="745.3" cy="221.3" r="4.5"/><circle cx="818.4" cy="505.9" r="4.5"/><circle cx="810.1" cy="491.2" r="4.5"/><circle cx="741.1" cy="459.7" r="4.5"/><circle cx="771.6" cy="333.9" r="4.5"/><circle cx="660.3" cy="260.3" r="4.5"/><circle cx="673.5" cy="269.1" r="4.5"/><circle cx="796.1" cy="419.7" r="4.5"/><circle cx="810.4" cy="501.2" r="4.5"/><circle cx="820.3" cy="475.1" r="4.5"/><circle cx="751.1" cy="351.2" r="4.5"/><circle cx="892.7" cy="319.2" r="4.5"/><circle cx="846.9" cy="346.6" r="4.5"/><circle cx="854.7" cy="514.3" r="4.5"/><circle cx="812.7" cy="220.7" r="4.5"/><circle cx="842.2" cy="240.0" r="4.5"/><circle cx="751.5" cy="468.5" r="4.5"/><circle cx="795.4" cy="248.2" r="4.5"/><circle cx="827.3" cy="334.0" r="4.5"/><circle cx="811.1" cy="536.2" r="4.5"/><circle cx="759.9" cy="259.5" r="4.5"/><circle cx="742.3" cy="196.4" r="4.5"/><circle cx="747.8" cy="283.1" r="4.5"/><circle cx="723.2" cy="485.9" r="4.5"/><circle cx="645.4" cy="248.1" r="4.5"/><circle cx="734.7" cy="207.4" r="4.5"/><circle cx="738.4" cy="209.2" r="4.5"/><circle cx="819.9" cy="292.1" r="4.5"/><circle cx="798.6" cy="459.9" r="4.5"/><circle cx="490.4" cy="518.6" r="4.5"/><circle cx="709.8" cy="488.2" r="4.5"/><circle cx="665.8" cy="232.0" r="4.5"/><circle cx="793.4" cy="469.0" r="4.5"/><circle cx="869.4" cy="394.7" r="4.5"/><circle cx="871.0" cy="331.5" r="4.5"/><circle cx="637.6" cy="148.1" r="4.5"/><circle cx="735.8" cy="320.9" r="4.5"/><circle cx="785.5" cy="237.8" r="4.5"/><circle cx="811.9" cy="467.4" r="4.5"/><circle cx="796.1" cy="277.0" r="4.5"/><circle cx="836.3" cy="530.2" r="4.5"/><circle cx="788.5" cy="512.1" r="4.5"/><circle cx="732.9" cy="299.0" r="4.5"/><circle cx="809.7" cy="353.5" r="4.5"/><circle cx="642.7" cy="253.1" r="4.5"/><circle cx="822.8" cy="203.8" r="4.5"/><circle cx="866.4" cy="347.7" r="4.5"/><circle cx="782.2" cy="336.5" r="4.5"/><circle cx="638.3" cy="224.6" r="4.5"/><circle cx="626.8" cy="186.8" r="4.5"/><circle cx="442.0" cy="525.5" r="4.5"/><circle cx="873.3" cy="390.6" r="4.5"/><circle cx="784.3" cy="243.6" r="4.5"/><circle cx="854.6" cy="231.7" r="4.5"/><circle cx="758.8" cy="223.9" r="4.5"/><circle cx="656.8" cy="177.4" r="4.5"/><circle cx="909.2" cy="235.0" r="4.5"/><circle cx="608.8" cy="218.1" r="4.5"/><circle cx="647.5" cy="234.2" r="4.5"/><circle cx="813.7" cy="196.9" r="4.5"/><circle cx="766.4" cy="521.2" r="4.5"/><circle cx="834.9" cy="345.1" r="4.5"/><circle cx="638.6" cy="206.6" r="4.5"/><circle cx="862.9" cy="289.5" r="4.5"/><circle cx="839.1" cy="350.0" r="4.5"/><circle cx="592.8" cy="226.0" r="4.5"/><circle cx="788.3" cy="194.6" r="4.5"/><circle cx="753.8" cy="348.7" r="4.5"/><circle cx="797.2" cy="329.0" r="4.5"/><circle cx="739.3" cy="216.2" r="4.5"/><circle cx="790.5" cy="239.8" r="4.5"/><circle cx="657.8" cy="165.4" r="4.5"/><circle cx="793.4" cy="185.7" r="4.5"/><circle cx="637.6" cy="217.3" r="4.5"/><circle cx="467.4" cy="501.6" r="4.5"/><circle cx="837.7" cy="514.0" r="4.5"/><circle cx="861.8" cy="263.7" r="4.5"/><circle cx="827.2" cy="292.9" r="4.5"/><circle cx="761.7" cy="272.3" r="4.5"/><circle cx="726.8" cy="275.1" r="4.5"/><circle cx="807.8" cy="478.7" r="4.5"/><circle cx="796.1" cy="239.0" r="4.5"/><circle cx="643.9" cy="238.4" r="4.5"/><circle cx="747.5" cy="566.2" r="4.5"/><circle cx="854.7" cy="260.3" r="4.5"/><circle cx="753.3" cy="214.2" r="4.5"/><circle cx="816.8" cy="239.2" r="4.5"/><circle cx="473.3" cy="539.6" r="4.5"/><circle cx="820.7" cy="222.5" r="4.5"/><circle cx="605.8" cy="279.2" r="4.5"/><circle cx="623.7" cy="222.2" r="4.5"/><circle cx="815.1" cy="232.9" r="4.5"/><circle cx="801.0" cy="511.1" r="4.5"/><circle cx="695.6" cy="218.3" r="4.5"/><circle cx="759.4" cy="441.2" r="4.5"/><circle cx="774.9" cy="255.2" r="4.5"/><circle cx="864.4" cy="264.7" r="4.5"/><circle cx="846.2" cy="476.9" r="4.5"/><circle cx="813.2" cy="187.1" r="4.5"/><circle cx="709.9" cy="502.2" r="4.5"/><circle cx="731.1" cy="268.9" r="4.5"/><circle cx="739.5" cy="523.9" r="4.5"/><circle cx="593.1" cy="184.2" r="4.5"/><circle cx="799.4" cy="187.8" r="4.5"/><circle cx="342.5" cy="633.8" r="4.5"/><circle cx="761.1" cy="321.7" r="4.5"/><circle cx="772.1" cy="531.5" r="4.5"/><circle cx="836.4" cy="354.4" r="4.5"/><circle cx="761.5" cy="263.7" r="4.5"/><circle cx="817.9" cy="198.6" r="4.5"/><circle cx="703.9" cy="270.5" r="4.5"/><circle cx="835.3" cy="259.8" r="4.5"/><circle cx="785.0" cy="316.1" r="4.5"/><circle cx="681.5" cy="205.9" r="4.5"/><circle cx="853.0" cy="236.6" r="4.5"/><circle cx="741.8" cy="506.7" r="4.5"/><circle cx="479.3" cy="504.7" r="4.5"/><circle cx="820.3" cy="520.1" r="4.5"/><circle cx="686.7" cy="253.2" r="4.5"/><circle cx="664.2" cy="260.2" r="4.5"/><circle cx="758.6" cy="429.5" r="4.5"/><circle cx="812.6" cy="432.3" r="4.5"/><circle cx="829.9" cy="213.5" r="4.5"/><circle cx="730.3" cy="511.7" r="4.5"/><circle cx="777.5" cy="390.2" r="4.5"/><circle cx="858.5" cy="276.1" r="4.5"/><circle cx="877.7" cy="299.8" r="4.5"/><circle cx="722.3" cy="478.3" r="4.5"/><circle cx="748.2" cy="467.0" r="4.5"/><circle cx="794.0" cy="282.8" r="4.5"/><circle cx="771.6" cy="193.2" r="4.5"/><circle cx="626.2" cy="160.6" r="4.5"/><circle cx="324.5" cy="378.0" r="4.5"/><circle cx="757.3" cy="329.6" r="4.5"/><circle cx="726.2" cy="252.0" r="4.5"/><circle cx="815.3" cy="270.0" r="4.5"/><circle cx="840.9" cy="347.8" r="4.5"/><circle cx="802.6" cy="492.2" r="4.5"/><circle cx="746.3" cy="229.9" r="4.5"/><circle cx="789.7" cy="309.0" r="4.5"/><circle cx="793.2" cy="567.5" r="4.5"/><circle cx="767.7" cy="200.9" r="4.5"/><circle cx="769.0" cy="191.7" r="4.5"/><circle cx="766.3" cy="187.6" r="4.5"/><circle cx="857.6" cy="265.5" r="4.5"/><circle cx="862.6" cy="275.1" r="4.5"/><circle cx="837.1" cy="305.1" r="4.5"/><circle cx="804.1" cy="375.2" r="4.5"/><circle cx="784.4" cy="294.5" r="4.5"/><circle cx="779.3" cy="328.4" r="4.5"/><circle cx="784.9" cy="337.3" r="4.5"/><circle cx="683.2" cy="237.1" r="4.5"/><circle cx="754.4" cy="222.2" r="4.5"/><circle cx="830.9" cy="218.3" r="4.5"/><circle cx="841.3" cy="266.9" r="4.5"/><circle cx="756.0" cy="386.4" r="4.5"/><circle cx="880.8" cy="341.9" r="4.5"/><circle cx="810.5" cy="201.4" r="4.5"/><circle cx="610.0" cy="197.1" r="4.5"/><circle cx="777.4" cy="523.7" r="4.5"/><circle cx="635.6" cy="159.4" r="4.5"/><circle cx="823.1" cy="340.6" r="4.5"/><circle cx="894.8" cy="303.0" r="4.5"/><circle cx="470.6" cy="530.4" r="4.5"/><circle cx="759.5" cy="490.7" r="4.5"/><circle cx="789.5" cy="402.8" r="4.5"/><circle cx="402.0" cy="492.5" r="4.5"/><circle cx="665.5" cy="210.5" r="4.5"/><circle cx="718.0" cy="277.6" r="4.5"/><circle cx="648.7" cy="245.9" r="4.5"/><circle cx="770.0" cy="485.0" r="4.5"/><circle cx="865.1" cy="233.1" r="4.5"/><circle cx="759.7" cy="211.8" r="4.5"/><circle cx="755.4" cy="319.9" r="4.5"/><circle cx="845.7" cy="516.4" r="4.5"/><circle cx="453.0" cy="510.9" r="4.5"/><circle cx="873.7" cy="343.7" r="4.5"/><circle cx="757.8" cy="255.2" r="4.5"/><circle cx="716.6" cy="278.6" r="4.5"/><circle cx="778.8" cy="265.4" r="4.5"/><circle cx="847.6" cy="488.4" r="4.5"/><circle cx="626.2" cy="214.3" r="4.5"/><circle cx="835.0" cy="500.3" r="4.5"/><circle cx="714.3" cy="517.6" r="4.5"/><circle cx="720.7" cy="466.2" r="4.5"/><circle cx="753.6" cy="236.1" r="4.5"/><circle cx="639.8" cy="260.2" r="4.5"/><circle cx="784.9" cy="176.0" r="4.5"/><circle cx="804.9" cy="529.0" r="4.5"/><circle cx="845.8" cy="325.4" r="4.5"/><circle cx="496.2" cy="533.8" r="4.5"/><circle cx="630.7" cy="207.1" r="4.5"/><circle cx="738.3" cy="265.5" r="4.5"/><circle cx="814.2" cy="494.9" r="4.5"/><circle cx="488.9" cy="520.9" r="4.5"/><circle cx="767.6" cy="517.0" r="4.5"/><circle cx="641.9" cy="138.3" r="4.5"/><circle cx="630.0" cy="260.8" r="4.5"/><circle cx="876.2" cy="403.5" r="4.5"/><circle cx="850.8" cy="430.8" r="4.5"/><circle cx="607.9" cy="182.9" r="4.5"/><circle cx="830.7" cy="512.0" r="4.5"/><circle cx="750.6" cy="225.3" r="4.5"/><circle cx="772.4" cy="295.1" r="4.5"/><circle cx="784.0" cy="418.4" r="4.5"/><circle cx="669.4" cy="222.2" r="4.5"/><circle cx="678.1" cy="212.7" r="4.5"/><circle cx="784.3" cy="512.9" r="4.5"/><circle cx="877.6" cy="389.4" r="4.5"/><circle cx="482.3" cy="528.4" r="4.5"/><circle cx="851.9" cy="263.6" r="4.5"/><circle cx="773.6" cy="259.8" r="4.5"/><circle cx="782.5" cy="292.4" r="4.5"/><circle cx="352.0" cy="630.0" r="4.5"/><circle cx="758.9" cy="274.5" r="4.5"/><circle cx="628.5" cy="232.1" r="4.5"/><circle cx="794.2" cy="397.1" r="4.5"/><circle cx="805.7" cy="449.7" r="4.5"/><circle cx="819.3" cy="550.2" r="4.5"/><circle cx="868.6" cy="399.1" r="4.5"/><circle cx="834.7" cy="274.3" r="4.5"/><circle cx="719.0" cy="516.3" r="4.5"/><circle cx="735.0" cy="531.4" r="4.5"/><circle cx="814.0" cy="338.7" r="4.5"/><circle cx="847.5" cy="232.7" r="4.5"/><circle cx="843.7" cy="298.0" r="4.5"/><circle cx="680.4" cy="240.6" r="4.5"/><circle cx="642.7" cy="203.9" r="4.5"/><circle cx="818.3" cy="233.7" r="4.5"/><circle cx="778.2" cy="494.6" r="4.5"/><circle cx="598.4" cy="223.6" r="4.5"/><circle cx="812.6" cy="240.3" r="4.5"/><circle cx="774.3" cy="233.1" r="4.5"/><circle cx="838.0" cy="523.8" r="4.5"/><circle cx="632.7" cy="223.6" r="4.5"/><circle cx="609.0" cy="237.7" r="4.5"/><circle cx="817.2" cy="467.1" r="4.5"/><circle cx="636.8" cy="257.2" r="4.5"/><circle cx="840.2" cy="326.6" r="4.5"/><circle cx="775.4" cy="236.7" r="4.5"/><circle cx="895.5" cy="306.3" r="4.5"/><circle cx="820.1" cy="288.9" r="4.5"/><circle cx="766.6" cy="341.2" r="4.5"/><circle cx="455.2" cy="215.8" r="4.5"/><circle cx="812.3" cy="214.3" r="4.5"/><circle cx="874.4" cy="306.3" r="4.5"/><circle cx="798.7" cy="296.4" r="4.5"/><circle cx="722.6" cy="518.9" r="4.5"/><circle cx="823.0" cy="288.1" r="4.5"/><circle cx="903.2" cy="413.8" r="4.5"/><circle cx="777.0" cy="418.3" r="4.5"/><circle cx="801.6" cy="559.1" r="4.5"/><circle cx="733.3" cy="508.7" r="4.5"/><circle cx="778.4" cy="280.2" r="4.5"/><circle cx="870.9" cy="308.2" r="4.5"/><circle cx="846.4" cy="340.7" r="4.5"/><circle cx="742.2" cy="303.5" r="4.5"/><circle cx="820.3" cy="280.6" r="4.5"/><circle cx="598.7" cy="218.4" r="4.5"/><circle cx="744.2" cy="294.5" r="4.5"/><circle cx="831.2" cy="524.6" r="4.5"/><circle cx="702.6" cy="282.0" r="4.5"/><circle cx="619.3" cy="225.7" r="4.5"/><circle cx="666.7" cy="219.0" r="4.5"/><circle cx="636.1" cy="213.0" r="4.5"/><circle cx="478.1" cy="543.0" r="4.5"/><circle cx="814.9" cy="513.1" r="4.5"/><circle cx="751.1" cy="337.9" r="4.5"/><circle cx="635.5" cy="254.3" r="4.5"/><circle cx="702.8" cy="257.3" r="4.5"/><circle cx="595.8" cy="155.5" r="4.5"/><circle cx="857.6" cy="256.9" r="4.5"/></g><g fill="#5784db"><circle cx="218.8" cy="372.8" r="4.5"/><circle cx="282.1" cy="311.2" r="4.5"/><circle cx="258.5" cy="366.7" r="4.5"/><circle cx="247.2" cy="385.9" r="4.5"/><circle cx="189.4" cy="387.2" r="4.5"/><circle cx="319.1" cy="428.0" r="4.5"/><circle cx="261.7" cy="333.1" r="4.5"/><circle cx="356.8" cy="438.8" r="4.5"/><circle cx="296.7" cy="408.1" r="4.5"/><circle cx="330.7" cy="435.4" r="4.5"/><circle cx="337.7" cy="439.1" r="4.5"/><circle cx="289.0" cy="370.5" r="4.5"/><circle cx="271.8" cy="388.8" r="4.5"/><circle cx="325.5" cy="421.2" r="4.5"/><circle cx="235.7" cy="343.2" r="4.5"/><circle cx="263.1" cy="392.6" r="4.5"/><circle cx="275.2" cy="366.5" r="4.5"/><circle cx="209.4" cy="371.6" r="4.5"/><circle cx="187.4" cy="395.1" r="4.5"/><circle cx="308.0" cy="316.7" r="4.5"/><circle cx="333.9" cy="394.8" r="4.5"/><circle cx="293.2" cy="362.6" r="4.5"/><circle cx="264.0" cy="345.9" r="4.5"/><circle cx="303.3" cy="339.5" r="4.5"/><circle cx="288.0" cy="365.3" r="4.5"/><circle cx="265.7" cy="353.0" r="4.5"/><circle cx="289.5" cy="426.0" r="4.5"/><circle cx="303.0" cy="372.1" r="4.5"/><circle cx="251.5" cy="347.4" r="4.5"/><circle cx="253.7" cy="388.8" r="4.5"/><circle cx="223.8" cy="339.3" r="4.5"/><circle cx="228.3" cy="315.7" r="4.5"/><circle cx="315.2" cy="426.6" r="4.5"/><circle cx="270.5" cy="323.5" r="4.5"/><circle cx="233.8" cy="311.8" r="4.5"/><circle cx="252.7" cy="352.8" r="4.5"/><circle cx="290.0" cy="417.7" r="4.5"/><circle cx="242.1" cy="384.9" r="4.5"/><circle cx="244.4" cy="309.6" r="4.5"/><circle cx="274.7" cy="355.4" r="4.5"/><circle cx="308.2" cy="355.7" r="4.5"/><circle cx="167.5" cy="381.2" r="4.5"/><circle cx="319.2" cy="440.5" r="4.5"/><circle cx="304.1" cy="302.3" r="4.5"/><circle cx="291.7" cy="350.9" r="4.5"/><circle cx="232.3" cy="368.3" r="4.5"/><circle cx="215.5" cy="361.7" r="4.5"/><circle cx="197.1" cy="329.2" r="4.5"/><circle cx="227.0" cy="370.6" r="4.5"/><circle cx="211.5" cy="388.4" r="4.5"/><circle cx="295.0" cy="350.7" r="4.5"/><circle cx="254.0" cy="323.8" r="4.5"/><circle cx="352.5" cy="428.7" r="4.5"/><circle cx="286.7" cy="424.4" r="4.5"/><circle cx="235.2" cy="369.1" r="4.5"/><circle cx="210.4" cy="396.1" r="4.5"/><circle cx="282.4" cy="343.4" r="4.5"/><circle cx="246.3" cy="357.6" r="4.5"/><circle cx="327.9" cy="426.8" r="4.5"/><circle cx="236.7" cy="356.3" r="4.5"/><circle cx="312.3" cy="444.4" r="4.5"/><circle cx="297.2" cy="401.9" r="4.5"/><circle cx="237.3" cy="364.0" r="4.5"/><circle cx="202.2" cy="329.1" r="4.5"/><circle cx="207.0" cy="391.5" r="4.5"/><circle cx="322.7" cy="401.9" r="4.5"/><circle cx="202.8" cy="326.1" r="4.5"/><circle cx="252.9" cy="344.9" r="4.5"/><circle cx="141.2" cy="381.2" r="4.5"/><circle cx="334.4" cy="408.0" r="4.5"/><circle cx="226.9" cy="380.9" r="4.5"/><circle cx="302.9" cy="326.8" r="4.5"/><circle cx="340.0" cy="427.4" r="4.5"/><circle cx="277.9" cy="376.0" r="4.5"/><circle cx="339.7" cy="404.7" r="4.5"/><circle cx="226.5" cy="394.7" r="4.5"/><circle cx="326.2" cy="396.7" r="4.5"/><circle cx="320.8" cy="388.8" r="4.5"/><circle cx="238.1" cy="376.1" r="4.5"/><circle cx="213.0" cy="332.1" r="4.5"/><circle cx="240.3" cy="302.6" r="4.5"/><circle cx="348.0" cy="412.0" r="4.5"/><circle cx="263.9" cy="366.0" r="4.5"/></g><g fill="#57db94"><circle cx="516.9" cy="259.2" r="4.5"/><circle cx="618.7" cy="665.9" r="4.5"/><circle cx="594.0" cy="692.5" r="4.5"/><circle cx="362.7" cy="310.6" r="4.5"/><circle cx="550.0" cy="439.3" r="4.5"/><circle cx="344.7" cy="349.5" r="4.5"/><circle cx="593.3" cy="617.1" r="4.5"/><circle cx="500.1" cy="247.8" r="4.5"/><circle cx="634.8" cy="373.9" r="4.5"/><circle cx="631.8" cy="643.7" r="4.5"/><circle cx="526.5" cy="281.1" r="4.5"/><circle cx="524.7" cy="311.2" r="4.5"/><circle cx="563.8" cy="345.8" r="4.5"/><circle cx="502.2" cy="255.2" r="4.5"/><circle cx="549.7" cy="456.7" r="4.5"/><circle cx="621.4" cy="695.2" r="4.5"/><circle cx="528.9" cy="295.6" r="4.5"/><circle cx="561.6" cy="300.0" r="4.5"/><circle cx="490.2" cy="378.1" r="4.5"/><circle cx="517.1" cy="619.3" r="4.5"/><circle cx="570.2" cy="301.8" r="4.5"/><circle cx="525.9" cy="350.9" r="4.5"/><circle cx="581.8" cy="574.9" r="4.5"/><circle cx="621.2" cy="667.1" r="4.5"/><circle cx="436.3" cy="292.4" r="4.5"/><circle cx="565.6" cy="381.8" r="4.5"/><circle cx="544.2" cy="471.2" r="4.5"/><circle cx="470.2" cy="313.7" r="4.5"/><circle cx="684.3" cy="362.4" r="4.5"/><circle cx="646.7" cy="342.2" r="4.5"/><circle cx="599.9" cy="317.1" r="4.5"/><circle cx="346.6" cy="262.8" r="4.5"/><circle cx="584.6" cy="367.4" r="4.5"/><circle cx="532.9" cy="577.6" r="4.5"/><circle cx="605.2" cy="487.6" r="4.5"/><circle cx="437.1" cy="628.2" r="4.5"/><circle cx="577.1" cy="598.0" r="4.5"/><circle cx="562.8" cy="460.7" r="4.5"/><circle cx="661.3" cy="343.7" r="4.5"/><circle cx="499.9" cy="605.7" r="4.5"/><circle cx="641.4" cy="417.3" r="4.5"/><circle cx="614.9" cy="478.8" r="4.5"/><circle cx="539.1" cy="554.8" r="4.5"/><circle cx="612.4" cy="674.5" r="4.5"/><circle cx="662.5" cy="384.8" r="4.5"/><circle cx="548.3" cy="398.5" r="4.5"/><circle cx="557.8" cy="491.6" r="4.5"/><circle cx="501.3" cy="365.0" r="4.5"/><circle cx="409.1" cy="616.1" r="4.5"/><circle cx="422.2" cy="669.2" r="4.5"/><circle cx="508.9" cy="406.1" r="4.5"/><circle cx="345.5" cy="334.8" r="4.5"/><circle cx="448.1" cy="303.4" r="4.5"/><circle cx="386.1" cy="355.8" r="4.5"/><circle cx="353.1" cy="303.0" r="4.5"/><circle cx="530.0" cy="375.7" r="4.5"/><circle cx="485.0" cy="272.3" r="4.5"/><circle cx="457.6" cy="354.6" r="4.5"/><circle cx="502.5" cy="630.0" r="4.5"/><circle cx="588.0" cy="589.8" r="4.5"/><circle cx="445.7" cy="313.1" r="4.5"/><circle cx="370.5" cy="319.3" r="4.5"/><circle cx="426.6" cy="165.9" r="4.5"/><circle cx="521.7" cy="560.1" r="4.5"/><circle cx="655.5" cy="477.7" r="4.5"/><circle cx="420.6" cy="622.3" r="4.5"/><circle cx="578.7" cy="346.1" r="4.5"/><circle cx="564.7" cy="340.5" r="4.5"/><circle cx="470.6" cy="382.1" r="4.5"/><circle cx="551.6" cy="463.6" r="4.5"/><circle cx="576.7" cy="491.8" r="4.5"/><circle cx="512.3" cy="259.5" r="4.5"/><circle cx="587.4" cy="322.2" r="4.5"/><circle cx="513.5" cy="392.7" r="4.5"/><circle cx="614.6" cy="678.0" r="4.5"/><circle cx="454.9" cy="337.8" r="4.5"/><circle cx="574.3" cy="395.1" r="4.5"/><circle cx="563.7" cy="569.4" r="4.5"/><circle cx="355.4" cy="377.1" r="4.5"/><circle cx="518.4" cy="348.4" r="4.5"/><circle cx="510.6" cy="360.1" r="4.5"/><circle cx="568.5" cy="615.0" r="4.5"/><circle cx="658.7" cy="626.9" r="4.5"/><circle cx="655.1" cy="486.6" r="4.5"/><circle cx="414.3" cy="670.6" r="4.5"/><circle cx="523.2" cy="335.4" r="4.5"/><circle cx="551.4" cy="478.1" r="4.5"/><circle cx="498.9" cy="289.9" r="4.5"/><circle cx="566.4" cy="688.8" r="4.5"/><circle cx="639.5" cy="482.7" r="4.5"/><circle cx="460.7" cy="279.9" r="4.5"/><circle cx="350.9" cy="314.4" r="4.5"/><circle cx="647.7" cy="463.6" r="4.5"/><circle cx="620.3" cy="434.0" r="4.5"/><circle cx="515.3" cy="578.9" r="4.5"/><circle cx="496.7" cy="363.7" r="4.5"/><circle cx="527.9" cy="647.3" r="4.5"/><circle cx="602.0" cy="431.3" r="4.5"/><circle cx="639.6" cy="491.1" r="4.5"/><circle cx="482.0" cy="298.3" r="4.5"/><circle cx="528.6" cy="293.0" r="4.5"/><circle cx="420.3" cy="143.4" r="4.5"/><circle cx="613.7" cy="631.7" r="4.5"/><circle cx="550.8" cy="395.0" r="4.5"/><circle cx="545.6" cy="454.7" r="4.5"/><circle cx="444.1" cy="400.4" r="4.5"/><circle cx="621.7" cy="671.9" r="4.5"/><circle cx="571.2" cy="364.3" r="4.5"/><circle cx="639.1" cy="366.2" r="4.5"/><circle cx="507.0" cy="599.8" r="4.5"/><circle cx="446.7" cy="160.2" r="4.5"/><circle cx="577.9" cy="318.2" r="4.5"/><circle cx="430.5" cy="304.6" r="4.5"/><circle cx="453.5" cy="373.0" r="4.5"/><circle cx="531.8" cy="354.8" r="4.5"/><circle cx="563.4" cy="302.5" r="4.5"/><circle cx="515.8" cy="315.4" r="4.5"/><circle cx="460.0" cy="319.2" r="4.5"/><circle cx="472.6" cy="283.4" r="4.5"/><circle cx="481.4" cy="408.9" r="4.5"/><circle cx="497.7" cy="386.5" r="4.5"/><circle cx="518.6" cy="267.7" r="4.5"/><circle cx="496.5" cy="353.9" r="4.5"/><circle cx="605.2" cy="408.2" r="4.5"/><circle cx="485.0" cy="269.1" r="4.5"/><circle cx="418.8" cy="642.8" r="4.5"/><circle cx="412.6" cy="642.5" r="4.5"/><circle cx="559.8" cy="401.7" r="4.5"/><circle cx="510.5" cy="395.8" r="4.5"/><circle cx="645.5" cy="661.3" r="4.5"/><circle cx="461.8" cy="389.7" r="4.5"/><circle cx="601.2" cy="691.6" r="4.5"/><circle cx="447.1" cy="326.3" r="4.5"/><circle cx="612.0" cy="311.4" r="4.5"/><circle cx="537.9" cy="291.3" r="4.5"/><circle cx="564.5" cy="629.0" r="4.5"/><circle cx="614.4" cy="395.4" r="4.5"/><circle cx="631.7" cy="696.4" r="4.5"/><circle cx="549.7" cy="415.2" r="4.5"/><circle cx="441.1" cy="332.5" r="4.5"/><circle cx="616.6" cy="612.3" r="4.5"/><circle cx="581.2" cy="362.7" r="4.5"/><circle cx="348.0" cy="372.1" r="4.5"/><circle cx="491.7" cy="282.4" r="4.5"/><circle cx="664.2" cy="365.1" r="4.5"/><circle cx="534.3" cy="413.9" r="4.5"/><circle cx="523.0" cy="617.8" r="4.5"/><circle cx="617.0" cy="353.3" r="4.5"/><circle cx="637.7" cy="647.7" r="4.5"/><circle cx="624.5" cy="607.6" r="4.5"/><circle cx="569.3" cy="575.2" r="4.5"/><circle cx="587.6" cy="436.3" r="4.5"/><circle cx="581.6" cy="374.3" r="4.5"/><circle cx="396.0" cy="400.6" r="4.5"/><circle cx="618.2" cy="336.3" r="4.5"/><circle cx="609.7" cy="688.2" r="4.5"/><circle cx="564.3" cy="661.1" r="4.5"/><circle cx="644.9" cy="497.6" r="4.5"/><circle cx="415.3" cy="653.5" r="4.5"/><circle cx="622.1" cy="483.2" r="4.5"/><circle cx="588.0" cy="592.7" r="4.5"/><circle cx="534.8" cy="569.8" r="4.5"/><circle cx="601.8" cy="472.4" r="4.5"/><circle cx="484.9" cy="430.5" r="4.5"/><circle cx="507.5" cy="292.4" r="4.5"/><circle cx="544.8" cy="573.7" r="4.5"/><circle cx="508.4" cy="302.2" r="4.5"/><circle cx="678.5" cy="462.1" r="4.5"/><circle cx="543.3" cy="651.2" r="4.5"/><circle cx="606.4" cy="323.6" r="4.5"/><circle cx="571.2" cy="420.7" r="4.5"/><circle cx="554.2" cy="641.5" r="4.5"/><circle cx="490.8" cy="375.3" r="4.5"/><circle cx="420.8" cy="345.2" r="4.5"/><circle cx="667.8" cy="327.1" r="4.5"/><circle cx="525.1" cy="294.2" r="4.5"/><circle cx="432.4" cy="329.4" r="4.5"/><circle cx="594.6" cy="384.2" r="4.5"/><circle cx="658.3" cy="368.4" r="4.5"/><circle cx="584.8" cy="691.5" r="4.5"/><circle cx="655.0" cy="681.5" r="4.5"/><circle cx="515.1" cy="433.2" r="4.5"/><circle cx="418.7" cy="674.0" r="4.5"/><circle cx="591.4" cy="405.9" r="4.5"/><circle cx="622.4" cy="423.9" r="4.5"/><circle cx="432.2" cy="296.4" r="4.5"/><circle cx="606.2" cy="619.1" r="4.5"/><circle cx="618.3" cy="636.4" r="4.5"/><circle cx="588.6" cy="452.8" r="4.5"/><circle cx="485.1" cy="400.1" r="4.5"/><circle cx="585.6" cy="457.5" r="4.5"/><circle cx="576.3" cy="438.0" r="4.5"/><circle cx="574.7" cy="635.9" r="4.5"/><circle cx="597.9" cy="406.7" r="4.5"/><circle cx="469.4" cy="294.8" r="4.5"/><circle cx="355.0" cy="364.5" r="4.5"/><circle cx="651.1" cy="354.8" r="4.5"/><circle cx="545.6" cy="688.1" r="4.5"/><circle cx="689.6" cy="375.7" r="4.5"/><circle cx="465.7" cy="305.9" r="4.5"/><circle cx="683.0" cy="444.5" r="4.5"/><circle cx="626.7" cy="450.2" r="4.5"/><circle cx="635.2" cy="670.6" r="4.5"/><circle cx="643.7" cy="390.3" r="4.5"/><circle cx="643.6" cy="329.7" r="4.5"/><circle cx="610.6" cy="604.3" r="4.5"/><circle cx="615.6" cy="447.8" r="4.5"/><circle cx="526.5" cy="644.6" r="4.5"/><circle cx="471.5" cy="360.4" r="4.5"/><circle cx="452.8" cy="399.4" r="4.5"/><circle cx="428.1" cy="651.5" r="4.5"/><circle cx="616.1" cy="338.3" r="4.5"/><circle cx="659.0" cy="485.7" r="4.5"/><circle cx="607.3" cy="645.4" r="4.5"/><circle cx="522.0" cy="670.5" r="4.5"/><circle cx="567.7" cy="395.4" r="4.5"/><circle cx="400.0" cy="398.8" r="4.5"/><circle cx="644.6" cy="426.7" r="4.5"/><circle cx="592.3" cy="620.0" r="4.5"/><circle cx="470.0" cy="322.7" r="4.5"/><circle cx="558.1" cy="317.1" r="4.5"/><circle cx="603.4" cy="582.4" r="4.5"/><circle cx="504.1" cy="392.0" r="4.5"/><circle cx="356.9" cy="290.1" r="4.5"/><circle cx="604.0" cy="375.4" r="4.5"/><circle cx="551.8" cy="604.8" r="4.5"/><circle cx="579.0" cy="647.7" r="4.5"/><circle cx="656.8" cy="377.5" r="4.5"/><circle cx="673.3" cy="422.5" r="4.5"/><circle cx="539.5" cy="609.5" r="4.5"/><circle cx="538.1" cy="272.2" r="4.5"/><circle cx="662.9" cy="411.4" r="4.5"/><circle cx="426.5" cy="627.5" r="4.5"/><circle cx="447.7" cy="298.2" r="4.5"/><circle cx="549.8" cy="366.2" r="4.5"/><circle cx="400.3" cy="627.2" r="4.5"/><circle cx="545.0" cy="370.8" r="4.5"/><circle cx="473.6" cy="333.4" r="4.5"/><circle cx="538.1" cy="618.3" r="4.5"/><circle cx="595.7" cy="409.8" r="4.5"/><circle cx="475.0" cy="633.8" r="4.5"/><circle cx="568.3" cy="462.9" r="4.5"/><circle cx="706.2" cy="419.4" r="4.5"/><circle cx="610.7" cy="591.5" r="4.5"/><circle cx="626.0" cy="635.8" r="4.5"/><circle cx="449.3" cy="341.4" r="4.5"/><circle cx="533.5" cy="636.4" r="4.5"/><circle cx="692.9" cy="417.5" r="4.5"/><circle cx="544.3" cy="396.5" r="4.5"/><circle cx="648.6" cy="491.0" r="4.5"/><circle cx="579.2" cy="599.4" r="4.5"/><circle cx="541.6" cy="579.2" r="4.5"/><circle cx="472.6" cy="265.6" r="4.5"/><circle cx="415.3" cy="168.8" r="4.5"/><circle cx="612.7" cy="607.2" r="4.5"/><circle cx="582.9" cy="634.7" r="4.5"/><circle cx="490.6" cy="284.7" r="4.5"/><circle cx="452.0" cy="307.8" r="4.5"/><circle cx="506.6" cy="241.9" r="4.5"/><circle cx="491.7" cy="272.1" r="4.5"/><circle cx="647.1" cy="675.2" r="4.5"/><circle cx="579.9" cy="674.4" r="4.5"/><circle cx="435.6" cy="152.0" r="4.5"/><circle cx="536.2" cy="640.1" r="4.5"/><circle cx="414.2" cy="349.2" r="4.5"/><circle cx="530.3" cy="628.3" r="4.5"/><circle cx="474.7" cy="384.3" r="4.5"/><circle cx="677.6" cy="418.1" r="4.5"/><circle cx="506.2" cy="405.1" r="4.5"/><circle cx="499.9" cy="314.1" r="4.5"/><circle cx="516.8" cy="276.2" r="4.5"/><circle cx="665.6" cy="438.7" r="4.5"/><circle cx="629.5" cy="598.6" r="4.5"/><circle cx="595.4" cy="390.7" r="4.5"/><circle cx="511.3" cy="253.4" r="4.5"/><circle cx="639.6" cy="675.4" r="4.5"/><circle cx="434.2" cy="639.7" r="4.5"/><circle cx="594.5" cy="444.9" r="4.5"/><circle cx="556.9" cy="554.4" r="4.5"/><circle cx="466.6" cy="328.1" r="4.5"/><circle cx="664.0" cy="346.9" r="4.5"/><circle cx="472.5" cy="288.7" r="4.5"/><circle cx="554.6" cy="366.0" r="4.5"/><circle cx="358.6" cy="358.7" r="4.5"/><circle cx="635.6" cy="385.6" r="4.5"/><circle cx="519.6" cy="255.3" r="4.5"/><circle cx="464.3" cy="300.8" r="4.5"/><circle cx="615.5" cy="390.1" r="4.5"/><circle cx="497.5" cy="631.2" r="4.5"/><circle cx="522.0" cy="670.8" r="4.5"/><circle cx="548.6" cy="564.4" r="4.5"/><circle cx="452.5" cy="288.9" r="4.5"/><circle cx="412.5" cy="673.3" r="4.5"/><circle cx="498.8" cy="378.2" r="4.5"/><circle cx="559.1" cy="297.3" r="4.5"/><circle cx="681.2" cy="406.8" r="4.5"/><circle cx="482.5" cy="266.8" r="4.5"/><circle cx="532.5" cy="609.6" r="4.5"/><circle cx="641.8" cy="434.0" r="4.5"/><circle cx="585.8" cy="347.4" r="4.5"/><circle cx="594.9" cy="452.4" r="4.5"/><circle cx="447.9" cy="366.3" r="4.5"/><circle cx="492.0" cy="388.5" r="4.5"/><circle cx="640.4" cy="397.7" r="4.5"/><circle cx="480.5" cy="291.5" r="4.5"/><circle cx="356.0" cy="339.0" r="4.5"/><circle cx="616.3" cy="367.4" r="4.5"/><circle cx="488.5" cy="402.4" r="4.5"/><circle cx="588.4" cy="625.4" r="4.5"/><circle cx="497.7" cy="346.7" r="4.5"/><circle cx="573.9" cy="671.3" r="4.5"/><circle cx="580.2" cy="330.9" r="4.5"/><circle cx="575.7" cy="415.0" r="4.5"/><circle cx="625.5" cy="601.8" r="4.5"/><circle cx="633.3" cy="573.7" r="4.5"/><circle cx="548.8" cy="587.1" r="4.5"/><circle cx="558.1" cy="405.8" r="4.5"/><circle cx="585.6" cy="447.5" r="4.5"/><circle cx="532.1" cy="604.6" r="4.5"/><circle cx="481.4" cy="380.0" r="4.5"/><circle cx="566.6" cy="342.7" r="4.5"/><circle cx="560.9" cy="689.7" r="4.5"/><circle cx="470.3" cy="308.0" r="4.5"/><circle cx="462.6" cy="368.1" r="4.5"/><circle cx="605.0" cy="546.2" r="4.5"/><circle cx="589.7" cy="447.3" r="4.5"/><circle cx="652.3" cy="359.1" r="4.5"/><circle cx="607.7" cy="616.9" r="4.5"/><circle cx="463.0" cy="379.6" r="4.5"/><circle cx="351.8" cy="324.5" r="4.5"/><circle cx="492.5" cy="395.2" r="4.5"/><circle cx="554.1" cy="589.6" r="4.5"/><circle cx="609.2" cy="642.6" r="4.5"/><circle cx="560.9" cy="452.3" r="4.5"/><circle cx="507.0" cy="576.9" r="4.5"/><circle cx="558.1" cy="609.8" r="4.5"/><circle cx="588.7" cy="367.0" r="4.5"/><circle cx="570.1" cy="366.6" r="4.5"/><circle cx="658.2" cy="424.1" r="4.5"/><circle cx="380.8" cy="365.7" r="4.5"/><circle cx="551.9" cy="417.6" r="4.5"/><circle cx="528.0" cy="355.8" r="4.5"/><circle cx="625.1" cy="365.2" r="4.5"/><circle cx="555.4" cy="683.7" r="4.5"/><circle cx="621.3" cy="613.4" r="4.5"/><circle cx="622.4" cy="500.7" r="4.5"/><circle cx="503.9" cy="251.2" r="4.5"/><circle cx="522.5" cy="318.9" r="4.5"/><circle cx="517.3" cy="363.9" r="4.5"/><circle cx="667.6" cy="409.8" r="4.5"/><circle cx="560.1" cy="579.7" r="4.5"/><circle cx="435.1" cy="142.8" r="4.5"/><circle cx="647.3" cy="624.0" r="4.5"/><circle cx="586.8" cy="409.9" r="4.5"/><circle cx="524.1" cy="608.0" r="4.5"/><circle cx="667.8" cy="674.4" r="4.5"/><circle cx="444.1" cy="395.0" r="4.5"/><circle cx="533.8" cy="618.8" r="4.5"/><circle cx="414.5" cy="629.9" r="4.5"/><circle cx="559.6" cy="626.0" r="4.5"/><circle cx="651.4" cy="489.1" r="4.5"/><circle cx="585.2" cy="574.7" r="4.5"/><circle cx="507.5" cy="325.9" r="4.5"/></g><g fill="#db5f57"><circle cx="261.5" cy="571.6" r="4.5"/><circle cx="290.8" cy="519.6" r="4.5"/><circle cx="275.1" cy="520.5" r="4.5"/><circle cx="384.5" cy="713.6" r="4.5"/><circle cx="222.8" cy="478.6" r="4.5"/><circle cx="311.0" cy="529.7" r="4.5"/><circle cx="269.3" cy="488.5" r="4.5"/><circle cx="300.7" cy="489.7" r="4.5"/><circle cx="290.0" cy="480.4" r="4.5"/><circle cx="233.7" cy="543.9" r="4.5"/><circle cx="282.8" cy="479.3" r="4.5"/><circle cx="243.2" cy="468.2" r="4.5"/><circle cx="245.4" cy="549.3" r="4.5"/><circle cx="402.8" cy="729.4" r="4.5"/><circle cx="225.4" cy="506.5" r="4.5"/><circle cx="244.6" cy="515.8" r="4.5"/><circle cx="377.9" cy="711.4" r="4.5"/><circle cx="383.7" cy="700.7" r="4.5"/><circle cx="285.5" cy="578.6" r="4.5"/><circle cx="405.5" cy="723.2" r="4.5"/><circle cx="298.6" cy="536.7" r="4.5"/><circle cx="255.7" cy="473.2" r="4.5"/><circle cx="287.4" cy="518.0" r="4.5"/><circle cx="235.7" cy="500.6" r="4.5"/><circle cx="269.2" cy="575.4" r="4.5"/><circle cx="309.1" cy="528.1" r="4.5"/><circle cx="228.4" cy="540.7" r="4.5"/><circle cx="308.1" cy="484.9" r="4.5"/><circle cx="275.6" cy="483.3" r="4.5"/><circle cx="315.2" cy="554.6" r="4.5"/><circle cx="273.4" cy="495.7" r="4.5"/><circle cx="251.7" cy="476.8" r="4.5"/><circle cx="303.9" cy="570.6" r="4.5"/><circle cx="203.9" cy="502.1" r="4.5"/><circle cx="249.9" cy="543.3" r="4.5"/><circle cx="330.2" cy="564.4" r="4.5"/><circle cx="296.2" cy="561.0" r="4.5"/><circle cx="269.6" cy="467.7" r="4.5"/><circle cx="201.7" cy="480.0" r="4.5"/><circle cx="243.1" cy="542.8" r="4.5"/><circle cx="295.1" cy="526.7" r="4.5"/><circle cx="214.9" cy="480.3" r="4.5"/><circle cx="230.9" cy="457.6" r="4.5"/><circle cx="309.8" cy="578.4" r="4.5"/><circle cx="223.6" cy="511.0" r="4.5"/><circle cx="252.8" cy="489.0" r="4.5"/><circle cx="269.6" cy="525.8" r="4.5"/><circle cx="317.3" cy="511.9" r="4.5"/><circle cx="301.9" cy="500.0" r="4.5"/><circle cx="241.8" cy="466.1" r="4.5"/><circle cx="241.5" cy="530.2" r="4.5"/><circle cx="213.3" cy="500.4" r="4.5"/><circle cx="239.3" cy="529.1" r="4.5"/><circle cx="233.3" cy="538.6" r="4.5"/><circle cx="251.4" cy="491.6" r="4.5"/><circle cx="208.0" cy="488.8" r="4.5"/><circle cx="244.8" cy="559.0" r="4.5"/><circle cx="397.5" cy="719.2" r="4.5"/><circle cx="316.1" cy="507.3" r="4.5"/><circle cx="378.3" cy="739.3" r="4.5"/><circle cx="246.1" cy="543.6" r="4.5"/><circle cx="310.6" cy="545.7" r="4.5"/><circle cx="207.3" cy="483.0" r="4.5"/><circle cx="248.4" cy="531.4" r="4.5"/><circle cx="267.1" cy="526.3" r="4.5"/><circle cx="378.3" cy="714.3" r="4.5"/><circle cx="268.9" cy="474.1" r="4.5"/><circle cx="325.0" cy="561.7" r="4.5"/><circle cx="207.6" cy="510.6" r="4.5"/><circle cx="369.7" cy="715.1" r="4.5"/><circle cx="289.6" cy="524.2" r="4.5"/><circle cx="305.4" cy="528.7" r="4.5"/><circle cx="215.1" cy="461.8" r="4.5"/></g><g fill="#b9db57"><circle cx="803.0" cy="290.7" r="4.5"/><circle cx="654.2" cy="226.2" r="4.5"/><circle cx="755.2" cy="291.5" r="4.5"/><circle cx="745.7" cy="532.0" r="4.5"/><circle cx="774.8" cy="266.2" r="4.5"/><circle cx="687.0" cy="275.5" r="4.5"/><circle cx="616.9" cy="254.1" r="4.5"/><circle cx="753.0" cy="228.0" r="4.5"/><circle cx="754.6" cy="186.9" r="4.5"/><circle cx="785.1" cy="279.1" r="4.5"/><circle cx="762.9" cy="280.5" r="4.5"/><circle cx="774.9" cy="432.7" r="4.5"/><circle cx="883.6" cy="306.2" r="4.5"/><circle cx="827.7" cy="338.2" r="4.5"/><circle cx="671.4" cy="250.3" r="4.5"/><circle cx="818.1" cy="462.4" r="4.5"/><circle cx="496.3" cy="516.5" r="4.5"/><circle cx="741.0" cy="264.3" r="4.5"/><circle cx="798.8" cy="435.5" r="4.5"/><circle cx="790.5" cy="344.5" r="4.5"/><circle cx="772.8" cy="527.0" r="4.5"/><circle cx="729.2" cy="475.8" r="4.5"/><circle cx="735.7" cy="467.6" r="4.5"/><circle cx="802.6" cy="399.1" r="4.5"/><circle cx="783.3" cy="369.8" r="4.5"/><circle cx="740.1" cy="477.3" r="4.5"/><circle cx="601.0" cy="218.9" r="4.5"/><circle cx="727.6" cy="508.0" r="4.5"/><circle cx="629.3" cy="173.0" r="4.5"/><circle cx="776.9" cy="541.9" r="4.5"/><circle cx="741.5" cy="325.1" r="4.5"/><circle cx="865.3" cy="335.4" r="4.5"/><circle cx="725.8" cy="474.2" r="4.5"/><circle cx="617.1" cy="207.4" r="4.5"/><circle cx="828.5" cy="350.2" r="4.5"/><circle cx="764.1" cy="341.5" r="4.5"/><circle cx="781.1" cy="306.1" r="4.5"/><circle cx="850.6" cy="532.0" r="4.5"/><circle cx="811.6" cy="485.6" r="4.5"/><circle cx="632.3" cy="259.2" r="4.5"/><circle cx="759.3" cy="311.7" r="4.5"/><circle cx="613.8" cy="214.2" r="4.5"/><circle cx="637.4" cy="185.3" r="4.5"/><circle cx="775.5" cy="496.7" r="4.5"/><circle cx="629.6" cy="182.0" r="4.5"/><circle cx="661.2" cy="170.4" r="4.5"/><circle cx="642.7" cy="165.9" r="4.5"/><circle cx="833.8" cy="521.9" r="4.5"/><circle cx="712.0" cy="521.8" r="4.5"/><circle cx="836.1" cy="297.5" r="4.5"/><circle cx="667.6" cy="186.0" r="4.5"/><circle cx="815.8" cy="258.6" r="4.5"/><circle cx="840.5" cy="535.7" r="4.5"/><circle cx="736.0" cy="328.5" r="4.5"/><circle cx="740.8" cy="465.7" r="4.5"/><circle cx="801.2" cy="255.0" r="4.5"/><circle cx="803.5" cy="525.4" r="4.5"/><circle cx="843.8" cy="514.6" r="4.5"/><circle cx="772.5" cy="470.9" r="4.5"/><circle cx="769.8" cy="311.6" r="4.5"/><circle cx="634.2" cy="170.3" r="4.5"/><circle cx="757.7" cy="229.2" r="4.5"/><circle cx="830.5" cy="535.3" r="4.5"/><circle cx="849.0" cy="308.7" r="4.5"/><circle cx="776.6" cy="330.6" r="4.5"/><circle cx="823.0" cy="521.7" r="4.5"/><circle cx="800.9" cy="422.2" r="4.5"/><circle cx="852.9" cy="498.7" r="4.5"/><circle cx="594.7" cy="230.5" r="4.5"/><circle cx="819.1" cy="219.9" r="4.5"/><circle cx="800.3" cy="352.6" r="4.5"/><circle cx="745.5" cy="558.0" r="4.5"/><circle cx="654.1" cy="173.7" r="4.5"/><circle cx="445.9" cy="526.8" r="4.5"/><circle cx="831.1" cy="330.2" r="4.5"/><circle cx="820.8" cy="303.5" r="4.5"/><circle cx="743.0" cy="474.7" r="4.5"/><circle cx="669.7" cy="267.6" r="4.5"/><circle cx="884.9" cy="301.9" r="4.5"/><circle cx="887.5" cy="394.2" r="4.5"/><circle cx="787.8" cy="278.3" r="4.5"/><circle cx="846.9" cy="227.4" r="4.5"/><circle cx="652.2" cy="136.9" r="4.5"/><circle cx="791.3" cy="215.1" r="4.5"/><circle cx="657.1" cy="260.5" r="4.5"/><circle cx="345.0" cy="640.0" r="4.5"/><circle cx="669.6" cy="262.2" r="4.5"/><circle cx="813.8" cy="326.5" r="4.5"/><circle cx="447.5" cy="521.3" r="4.5"/><circle cx="800.9" cy="222.6" r="4.5"/><circle cx="732.7" cy="309.1" r="4.5"/><circle cx="772.6" cy="183.2" r="4.5"/><circle cx="462.8" cy="500.2" r="4.5"/><circle cx="869.3" cy="284.5" r="4.5"/><circle cx="745.1" cy="264.2" r="4.5"/><circle cx="750.7" cy="212.6" r="4.5"/><circle cx="792.9" cy="541.8" r="4.5"/><circle cx="641.1" cy="193.3" r="4.5"/><circle cx="657.5" cy="153.6" r="4.5"/><circle cx="745.1" cy="215.1" r="4.5"/><circle cx="820.8" cy="216.0" r="4.5"/><circle cx="620.2" cy="231.5" r="4.5"/><circle cx="796.7" cy="542.4" r="4.5"/><circle cx="832.9" cy="234.0" r="4.5"/><circle cx="888.8" cy="324.1" r="4.5"/><circle cx="683.2" cy="184.5" r="4.5"/><circle cx="793.9" cy="215.0" r="4.5"/><circle cx="776.7" cy="293.3" r="4.5"/><circle cx="723.7" cy="532.6" r="4.5"/><circle cx="807.7" cy="335.8" r="4.5"/><circle cx="647.7" cy="182.8" r="4.5"/><circle cx="782.7" cy="348.2" r="4.5"/><circle cx="671.9" cy="216.4" r="4.5"/><circle cx="796.3" cy="256.0" r="4.5"/><circle cx="657.6" cy="265.2" r="4.5"/><circle cx="801.5" cy="517.3" r="4.5"/><circle cx="763.0" cy="226.6" r="4.5"/><circle cx="798.5" cy="476.4" r="4.5"/><circle cx="620.7" cy="155.3" r="4.5"/><circle cx="801.2" cy="544.4" r="4.5"/><circle cx="851.2" cy="371.2" r="4.5"/><circle cx="825.7" cy="354.3" r="4.5"/><circle cx="651.9" cy="195.1" r="4.5"/><circle cx="834.4" cy="206.4" r="4.5"/><circle cx="596.9" cy="177.1" r="4.5"/><circle cx="745.7" cy="302.0" r="4.5"/><circle cx="462.0" cy="532.0" r="4.5"/><circle cx="757.3" cy="534.8" r="4.5"/><circle cx="862.6" cy="331.7" r="4.5"/><circle cx="780.0" cy="489.0" r="4.5"/><circle cx="496.1" cy="526.1" r="4.5"/><circle cx="816.6" cy="192.8" r="4.5"/><circle cx="735.4" cy="513.8" r="4.5"/><circle cx="769.0" cy="400.9" r="4.5"/><circle cx="730.5" cy="530.4" r="4.5"/><circle cx="849.5" cy="347.9" r="4.5"/><circle cx="748.2" cy="361.1" r="4.5"/><circle cx="812.2" cy="270.4" r="4.5"/><circle cx="842.0" cy="487.1" r="4.5"/><circle cx="805.5" cy="537.6" r="4.5"/><circle cx="786.6" cy="402.4" r="4.5"/><circle cx="764.8" cy="435.9" r="4.5"/><circle cx="815.8" cy="308.2" r="4.5"/><circle cx="817.3" cy="517.9" r="4.5"/><circle cx="734.2" cy="445.5" r="4.5"/><circle cx="825.4" cy="250.5" r="4.5"/><circle cx="656.1" cy="257.6" r="4.5"/><circle cx="822.7" cy="195.0" r="4.5"/><circle cx="799.0" cy="540.6" r="4.5"/><circle cx="739.1" cy="354.6" r="4.5"/><circle cx="614.2" cy="142.6" r="4.5"/><circle cx="654.3" cy="145.4" r="4.5"/><circle cx="795.0" cy="287.2" r="4.5"/><circle cx="841.8" cy="338.2" r="4.5"/><circle cx="756.2" cy="199.7" r="4.5"/><circle cx="503.4" cy="522.7" r="4.5"/><circle cx="828.0" cy="245.0" r="4.5"/><circle cx="783.4" cy="499.1" r="4.5"/><circle cx="760.3" cy="504.7" r="4.5"/><circle cx="681.8" cy="253.7" r="4.5"/><circle cx="876.5" cy="308.4" r="4.5"/><circle cx="829.9" cy="541.8" r="4.5"/><circle cx="743.6" cy="291.7" r="4.5"/><circle cx="406.2" cy="491.2" r="4.5"/><circle cx="784.4" cy="247.7" r="4.5"/><circle cx="732.3" cy="328.7" r="4.5"/><circle cx="843.0" cy="536.8" r="4.5"/><circle cx="760.5" cy="524.7" r="4.5"/><circle cx="887.4" cy="405.2" r="4.5"/><circle cx="850.5" cy="292.6" r="4.5"/><circle cx="845.9" cy="349.5" r="4.5"/><circle cx="850.0" cy="328.9" r="4.5"/><circle cx="783.6" cy="504.3" r="4.5"/><circle cx="462.3" cy="544.7" r="4.5"/><circle cx="690.5" cy="222.7" r="4.5"/><circle cx="799.3" cy="233.3" r="4.5"/><circle cx="841.9" cy="225.2" r="4.5"/><circle cx="747.1" cy="314.3" r="4.5"/><circle cx="779.7" cy="511.0" r="4.5"/><circle cx="484.8" cy="522.5" r="4.5"/><circle cx="782.8" cy="487.5" r="4.5"/><circle cx="792.9" cy="481.3" r="4.5"/><circle cx="780.6" cy="547.0" r="4.5"/><circle cx="844.9" cy="524.6" r="4.5"/><circle cx="836.4" cy="256.1" r="4.5"/><circle cx="700.6" cy="272.3" r="4.5"/><circle cx="651.8" cy="175.1" r="4.5"/><circle cx="852.4" cy="515.7" r="4.5"/><circle cx="655.5" cy="164.7" r="4.5"/><circle cx="586.1" cy="226.9" r="4.5"/><circle cx="764.0" cy="190.1" r="4.5"/><circle cx="786.0" cy="308.3" r="4.5"/><circle cx="827.8" cy="508.4" r="4.5"/><circle cx="791.2" cy="210.4" r="4.5"/><circle cx="838.2" cy="210.8" r="4.5"/><circle cx="807.8" cy="512.0" r="4.5"/><circle cx="828.5" cy="347.5" r="4.5"/><circle cx="350.0" cy="640.0" r="4.5"/><circle cx="782.1" cy="470.6" r="4.5"/><circle cx="315.0" cy="620.0" r="4.5"/><circle cx="423.0" cy="473.2" r="4.5"/><circle cx="765.2" cy="357.4" r="4.5"/><circle cx="704.8" cy="283.6" r="4.5"/><circle cx="836.5" cy="351.4" r="4.5"/><circle cx="788.4" cy="412.3" r="4.5"/><circle cx="798.6" cy="197.7" r="4.5"/><circle cx="830.3" cy="274.3" r="4.5"/><circle cx="749.8" cy="304.9" r="4.5"/><circle cx="752.2" cy="478.4" r="4.5"/><circle cx="842.0" cy="247.1" r="4.5"/><circle cx="855.3" cy="280.9" r="4.5"/><circle cx="791.6" cy="311.8" r="4.5"/><circle cx="771.6" cy="467.2" r="4.5"/><circle cx="736.5" cy="508.7" r="4.5"/><circle cx="787.5" cy="477.5" r="4.5"/><circle cx="787.3" cy="502.4" r="4.5"/><circle cx="775.8" cy="487.6" r="4.5"/><circle cx="858.2" cy="510.6" r="4.5"/><circle cx="735.8" cy="294.9" r="4.5"/><circle cx="823.2" cy="264.9" r="4.5"/><circle cx="729.0" cy="307.2" r="4.5"/><circle cx="811.4" cy="448.2" r="4.5"/><circle cx="843.9" cy="254.0" r="4.5"/><circle cx="484.0" cy="538.6" r="4.5"/><circle cx="831.8" cy="247.9" r="4.5"/><circle cx="634.1" cy="153.4" r="4.5"/><circle cx="875.1" cy="400.9" r="4.5"/><circle cx="848.3" cy="212.8" r="4.5"/><circle cx="463.9" cy="546.6" r="4.5"/><circle cx="823.6" cy="232.0" r="4.5"/><circle cx="782.6" cy="382.7" r="4.5"/><circle cx="747.8" cy="355.0" r="4.5"/><circle cx="831.6" cy="531.8" r="4.5"/><circle cx="684.5" cy="231.5" r="4.5"/><circle cx="860.0" cy="231.0" r="4.5"/><circle cx="751.5" cy="194.9" r="4.5"/><circle cx="802.7" cy="497.5" r="4.5"/><circle cx="805.1" cy="535.2" r="4.5"/><circle cx="741.8" cy="357.0" r="4.5"/><circle cx="677.5" cy="197.4" r="4.5"/><circle cx="398.8" cy="491.2" r="4.5"/><circle cx="767.5" cy="300.3" r="4.5"/><circle cx="590.2" cy="189.7" r="4.5"/><circle cx="493.5" cy="537.9" r="4.5"/><circle cx="737.5" cy="562.5" r="4.5"/><circle cx="818.2" cy="543.2" r="4.5"/><circle cx="754.7" cy="330.1" r="4.5"/><circle cx="755.2" cy="203.6" r="4.5"/><circle cx="856.6" cy="334.8" r="4.5"/><circle cx="734.2" cy="445.0" r="4.5"/><circle cx="765.8" cy="278.7" r="4.5"/><circle cx="835.2" cy="265.9" r="4.5"/><circle cx="840.4" cy="311.2" r="4.5"/><circle cx="798.5" cy="339.4" r="4.5"/><circle cx="751.2" cy="310.1" r="4.5"/><circle cx="800.2" cy="485.2" r="4.5"/><circle cx="737.7" cy="200.3" r="4.5"/><circle cx="855.5" cy="518.2" r="4.5"/><circle cx="852.3" cy="330.9" r="4.5"/><circle cx="627.8" cy="177.8" r="4.5"/><circle cx="823.7" cy="221.5" r="4.5"/><circle cx="829.0" cy="266.5" r="4.5"/><circle cx="914.5" cy="258.8" r="4.5"/><circle cx="486.3" cy="508.0" r="4.5"/><circle cx="712.4" cy="510.1" r="4.5"/></g><g fill="#5784db"><circle cx="225.6" cy="397.9" r="4.5"/><circle cx="264.2" cy="342.7" r="4.5"/><circle cx="347.5" cy="407.4" r="4.5"/><circle cx="324.6" cy="445.8" r="4.5"/><circle cx="310.7" cy="413.0" r="4.5"/><circle cx="227.4" cy="313.4" r="4.5"/><circle cx="327.3" cy="432.5" r="4.5"/><circle cx="258.1" cy="321.7" r="4.5"/><circle cx="255.2" cy="329.2" r="4.5"/><circle cx="218.4" cy="347.4" r="4.5"/><circle cx="282.2" cy="380.3" r="4.5"/><circle cx="237.7" cy="368.8" r="4.5"/><circle cx="319.8" cy="415.3" r="4.5"/><circle cx="291.8" cy="342.7" r="4.5"/><circle cx="247.7" cy="360.1" r="4.5"/><circle cx="274.9" cy="383.6" r="4.5"/><circle cx="228.9" cy="344.0" r="4.5"/><circle cx="226.4" cy="345.6" r="4.5"/><circle cx="317.2" cy="403.8" r="4.5"/><circle cx="218.5" cy="324.9" r="4.5"/><circle cx="341.1" cy="437.8" r="4.5"/><circle cx="285.6" cy="306.2" r="4.5"/><circle cx="261.5" cy="313.6" r="4.5"/><circle cx="331.5" cy="446.6" r="4.5"/><circle cx="298.2" cy="429.1" r="4.5"/><circle cx="209.2" cy="381.0" r="4.5"/><circle cx="141.2" cy="392.5" r="4.5"/><circle cx="281.0" cy="330.5" r="4.5"/><circle cx="343.6" cy="410.2" r="4.5"/><circle cx="296.7" cy="417.3" r="4.5"/><circle cx="227.5" cy="339.4" r="4.5"/><circle cx="296.1" cy="363.1" r="4.5"/><circle cx="335.3" cy="398.8" r="4.5"/><circle cx="294.3" cy="374.7" r="4.5"/><circle cx="256.2" cy="354.1" r="4.5"/><circle cx="307.7" cy="415.6" r="4.5"/><circle cx="200.0" cy="337.6" r="4.5"/><circle cx="329.1" cy="395.4" r="4.5"/><circle cx="219.0" cy="387.3" r="4.5"/><circle cx="278.7" cy="331.5" r="4.5"/><circle cx="297.9" cy="370.3" r="4.5"/><circle cx="304.5" cy="329.5" r="4.5"/><circle cx="308.1" cy="334.5" r="4.5"/><circle cx="301.0" cy="440.6" r="4.5"/><circle cx="251.8" cy="313.3" r="4.5"/><circle cx="317.8" cy="388.6" r="4.5"/><circle cx="216.0" cy="337.1" r="4.5"/><circle cx="337.0" cy="425.9" r="4.5"/><circle cx="304.7" cy="407.3" r="4.5"/><circle cx="195.9" cy="387.6" r="4.5"/><circle cx="259.1" cy="335.0" r="4.5"/><circle cx="228.0" cy="326.2" r="4.5"/><circle cx="220.7" cy="398.7" r="4.5"/><circle cx="326.2" cy="434.8" r="4.5"/><circle cx="324.4" cy="432.5" r="4.5"/><circle cx="216.7" cy="401.6" r="4.5"/><circle cx="261.1" cy="390.1" r="4.5"/><circle cx="234.8" cy="393.9" r="4.5"/><circle cx="301.3" cy="299.9" r="4.5"/><circle cx="277.9" cy="354.5" r="4.5"/><circle cx="260.3" cy="364.7" r="4.5"/><circle cx="258.6" cy="337.9" r="4.5"/><circle cx="338.2" cy="402.3" r="4.5"/><circle cx="223.1" cy="355.6" r="4.5"/><circle cx="303.0" cy="378.1" r="4.5"/><circle cx="251.4" cy="333.3" r="4.5"/><circle cx="196.9" cy="307.6" r="4.5"/><circle cx="326.5" cy="391.9" r="4.5"/><circle cx="210.0" cy="368.5" r="4.5"/><circle cx="214.8" cy="394.2" r="4.5"/><circle cx="335.0" cy="405.2" r="4.5"/><circle cx="215.7" cy="377.6" r="4.5"/><circle cx="295.5" cy="299.9" r="4.5"/><circle cx="245.5" cy="317.1" r="4.5"/><circle cx="272.4" cy="363.1" r="4.5"/><circle cx="356.7" cy="434.1" r="4.5"/><circle cx="286.0" cy="310.5" r="4.5"/><circle cx="262.3" cy="353.4" r="4.5"/><circle cx="338.3" cy="443.5" r="4.5"/><circle cx="225.5" cy="348.4" r="4.5"/><circle cx="307.8" cy="325.2" r="4.5"/><circle cx="293.4" cy="428.5" r="4.5"/><circle cx="196.7" cy="322.9" r="4.5"/><circle cx="295.7" cy="315.5" r="4.5"/><circle cx="224.4" cy="309.5" r="4.5"/><circle cx="297.7" cy="383.2" r="4.5"/></g><g fill="#57db94"><circle cx="630.6" cy="365.7" r="4.5"/><circle cx="621.0" cy="319.7" r="4.5"/><circle cx="625.1" cy="400.6" r="4.5"/><circle cx="545.7" cy="586.4" r="4.5"/><circle cx="535.8" cy="388.8" r="4.5"/><circle cx="633.0" cy="656.9" r="4.5"/><circle cx="552.6" cy="608.8" r="4.5"/><circle cx="380.3" cy="341.4" r="4.5"/><circle cx="586.9" cy="443.4" r="4.5"/><circle cx="634.6" cy="317.1" r="4.5"/><circle cx="569.9" cy="605.7" r="4.5"/><circle cx="599.0" cy="602.1" r="4.5"/><circle cx="672.0" cy="335.1" r="4.5"/><circle cx="665.3" cy="643.7" r="4.5"/><circle cx="579.7" cy="422.9" r="4.5"/><circle cx="521.3" cy="608.4" r="4.5"/><circle cx="506.4" cy="424.2" r="4.5"/><circle cx="555.1" cy="374.0" r="4.5"/><circle cx="561.7" cy="349.1" r="4.5"/><circle cx="643.1" cy="492.6" r="4.5"/><circle cx="604.3" cy="441.2" r="4.5"/><circle cx="562.1" cy="364.0" r="4.5"/><circle cx="551.0" cy="564.8" r="4.5"/><circle cx="554.3" cy="604.8" r="4.5"/><circle cx="560.4" cy="360.2" r="4.5"/><circle cx="541.5" cy="607.8" r="4.5"/><circle cx="617.7" cy="668.5" r="4.5"/><circle cx="634.7" cy="433.2" r="4.5"/><circle cx="567.9" cy="577.5" r="4.5"/><circle cx="603.5" cy="345.4" r="4.5"/><circle cx="553.6" cy="660.4" r="4.5"/><circle cx="636.7" cy="364.9" r="4.5"/><circle cx="608.0" cy="674.6" r="4.5"/><circle cx="594.6" cy="466.0" r="4.5"/><circle cx="651.2" cy="620.0" r="4.5"/><circle cx="619.3" cy="429.9" r="4.5"/><circle cx="576.5" cy="608.1" r="4.5"/><circle cx="646.3" cy="393.4" r="4.5"/><circle cx="517.9" cy="327.7" r="4.5"/><circle cx="405.3" cy="392.9" r="4.5"/><circle cx="550.6" cy="618.0" r="4.5"/><circle cx="466.0" cy="392.9" r="4.5"/><circle cx="480.4" cy="347.9" r="4.5"/><circle cx="472.7" cy="391.9" r="4.5"/><circle cx="652.8" cy="341.3" r="4.5"/><circle cx="636.0" cy="453.8" r="4.5"/><circle cx="484.0" cy="403.2" r="4.5"/><circle cx="552.6" cy="345.8" r="4.5"/><circle cx="513.4" cy="343.4" r="4.5"/><circle cx="435.5" cy="311.3" r="4.5"/><circle cx="437.3" cy="670.3" r="4.5"/><circle cx="546.3" cy="300.3" r="4.5"/><circle cx="594.9" cy="667.9" r="4.5"/><circle cx="641.2" cy="426.5" r="4.5"/><circle cx="510.0" cy="649.5" r="4.5"/><circle cx="633.9" cy="332.7" r="4.5"/><circle cx="577.0" cy="426.1" r="4.5"/><circle cx="568.9" cy="479.8" r="4.5"/><circle cx="551.9" cy="585.5" r="4.5"/><circle cx="556.8" cy="455.9" r="4.5"/><circle cx="673.8" cy="407.6" r="4.5"/><circle cx="640.7" cy="470.4" r="4.5"/><circle cx="539.1" cy="301.9" r="4.5"/><circle cx="681.5" cy="392.9" r="4.5"/><circle cx="584.6" cy="435.9" r="4.5"/><circle cx="599.7" cy="678.0" r="4.5"/><circle cx="580.0" cy="446.8" r="4.5"/><circle cx="642.7" cy="401.7" r="4.5"/><circle cx="652.0" cy="657.6" r="4.5"/><circle cx="488.3" cy="353.3" r="4.5"/><circle cx="648.9" cy="329.8" r="4.5"/><circle cx="384.3" cy="360.7" r="4.5"/><circle cx="617.1" cy="606.0" r="4.5"/><circle cx="581.0" cy="343.0" r="4.5"/><circle cx="450.6" cy="376.4" r="4.5"/><circle cx="571.4" cy="480.3" r="4.5"/><circle cx="680.3" cy="450.7" r="4.5"/><circle cx="484.8" cy="426.0" r="4.5"/><circle cx="633.0" cy="450.9" r="4.5"/><circle cx="441.0" cy="383.5" r="4.5"/><circle cx="433.5" cy="659.4" r="4.5"/><circle cx="514.3" cy="605.9" r="4.5"/><circle cx="552.8" cy="377.6" r="4.5"/><circle cx="540.1" cy="591.1" r="4.5"/><circle cx="463.9" cy="322.1" r="4.5"/><circle cx="559.2" cy="657.5" r="4.5"/><circle cx="443.6" cy="380.5" r="4.5"/><circle cx="620.8" cy="404.8" r="4.5"/><circle cx="625.6" cy="686.0" r="4.5"/><circle cx="349.9" cy="343.1" r="4.5"/><circle cx="558.6" cy="687.5" r="4.5"/><circle cx="431.8" cy="678.9" r="4.5"/><circle cx="486.4" cy="340.5" r="4.5"/><circle cx="580.4" cy="671.9" r="4.5"/><circle cx="510.6" cy="295.6" r="4.5"/><circle cx="591.3" cy="696.8" r="4.5"/><circle cx="587.1" cy="335.6" r="4.5"/><circle cx="478.8" cy="623.8" r="4.5"/><circle cx="572.0" cy="427.7" r="4.5"/><circle cx="604.0" cy="348.2" r="4.5"/><circle cx="636.4" cy="463.5" r="4.5"/><circle cx="525.5" cy="556.4" r="4.5"/><circle cx="427.8" cy="146.4" r="4.5"/><circle cx="550.0" cy="448.5" r="4.5"/><circle cx="427.0" cy="157.8" r="4.5"/><circle cx="528.7" cy="610.5" r="4.5"/><circle cx="377.6" cy="357.8" r="4.5"/><circle cx="388.7" cy="347.1" r="4.5"/><circle cx="573.4" cy="476.6" r="4.5"/><circle cx="542.5" cy="663.6" r="4.5"/><circle cx="361.1" cy="305.2" r="4.5"/><circle cx="637.2" cy="334.7" r="4.5"/><circle cx="539.0" cy="422.4" r="4.5"/><circle cx="449.9" cy="659.5" r="4.5"/><circle cx="582.3" cy="577.9" r="4.5"/><circle cx="476.2" cy="314.6" r="4.5"/><circle cx="557.8" cy="655.3" r="4.5"/><circle cx="689.5" cy="405.1" r="4.5"/><circle cx="618.4" cy="362.9" r="4.5"/><circle cx="560.2" cy="351.4" r="4.5"/><circle cx="667.8" cy="397.0" r="4.5"/><circle cx="347.8" cy="352.0" r="4.5"/><circle cx="416.2" cy="140.3" r="4.5"/><circle cx="548.9" cy="328.9" r="4.5"/><circle cx="457.2" cy="657.2" r="4.5"/><circle cx="443.6" cy="351.1" r="4.5"/><circle cx="680.0" cy="615.0" r="4.5"/><circle cx="684.1" cy="429.5" r="4.5"/><circle cx="513.6" cy="270.7" r="4.5"/><circle cx="650.0" cy="386.7" r="4.5"/><circle cx="578.5" cy="677.4" r="4.5"/><circle cx="533.4" cy="367.0" r="4.5"/><circle cx="533.8" cy="563.1" r="4.5"/><circle cx="360.6" cy="293.6" r="4.5"/><circle cx="576.5" cy="337.6" r="4.5"/><circle cx="466.0" cy="298.6" r="4.5"/><circle cx="457.9" cy="308.5" r="4.5"/><circle cx="481.5" cy="419.3" r="4.5"/><circle cx="615.6" cy="393.3" r="4.5"/><circle cx="513.3" cy="592.1" r="4.5"/><circle cx="664.0" cy="451.4" r="4.5"/><circle cx="440.4" cy="309.2" r="4.5"/><circle cx="565.8" cy="677.6" r="4.5"/><circle cx="432.1" cy="136.4" r="4.5"/><circle cx="633.9" cy="691.5" r="4.5"/><circle cx="575.0" cy="308.3" r="4.5"/><circle cx="594.0" cy="402.5" r="4.5"/><circle cx="528.3" cy="275.8" r="4.5"/><circle cx="578.7" cy="471.4" r="4.5"/><circle cx="457.9" cy="635.7" r="4.5"/><circle cx="553.2" cy="632.9" r="4.5"/><circle cx="555.0" cy="667.8" r="4.5"/><circle cx="401.4" cy="154.1" r="4.5"/><circle cx="655.7" cy="653.5" r="4.5"/><circle cx="615.9" cy="492.4" r="4.5"/><circle cx="594.8" cy="678.9" r="4.5"/><circle cx="492.5" cy="266.5" r="4.5"/><circle cx="448.5" cy="309.5" r="4.5"/><circle cx="529.0" cy="592.7" r="4.5"/><circle cx="445.8" cy="301.6" r="4.5"/><circle cx="587.0" cy="652.4" r="4.5"/><circle cx="645.3" cy="647.6" r="4.5"/><circle cx="596.5" cy="625.8" r="4.5"/><circle cx="359.9" cy="339.2" r="4.5"/><circle cx="619.1" cy="673.7" r="4.5"/><circle cx="657.2" cy="414.2" r="4.5"/><circle cx="516.3" cy="588.5" r="4.5"/><circle cx="665.1" cy="479.6" r="4.5"/><circle cx="379.7" cy="362.6" r="4.5"/><circle cx="559.3" cy="336.3" r="4.5"/><circle cx="444.1" cy="364.9" r="4.5"/><circle cx="565.1" cy="352.2" r="4.5"/><circle cx="608.2" cy="314.0" r="4.5"/><circle cx="625.3" cy="654.5" r="4.5"/><circle cx="540.0" cy="468.3" r="4.5"/><circle cx="674.8" cy="400.0" r="4.5"/><circle cx="639.2" cy="401.1" r="4.5"/><circle cx="469.3" cy="391.9" r="4.5"/><circle cx="639.3" cy="681.9" r="4.5"/><circle cx="664.3" cy="445.8" r="4.5"/><circle cx="618.8" cy="557.5" r="4.5"/><circle cx="601.0" cy="488.5" r="4.5"/><circle cx="511.9" cy="278.3" r="4.5"/><circle cx="504.8" cy="401.9" r="4.5"/><circle cx="563.6" cy="404.1" r="4.5"/><circle cx="471.2" cy="286.5" r="4.5"/><circle cx="593.1" cy="434.7" r="4.5"/><circle cx="452.9" cy="646.6" r="4.5"/><circle cx="578.1" cy="695.1" r="4.5"/><circle cx="532.6" cy="384.6" r="4.5"/><circle cx="631.6" cy="416.6" r="4.5"/><circle cx="657.8" cy="420.1" r="4.5"/><circle cx="462.5" cy="339.7" r="4.5"/><circle cx="543.1" cy="624.7" r="4.5"/><circle cx="679.2" cy="458.1" r="4.5"/><circle cx="582.2" cy="643.4" r="4.5"/><circle cx="637.5" cy="425.2" r="4.5"/><circle cx="531.7" cy="651.2" r="4.5"/><circle cx="467.1" cy="319.8" r="4.5"/><circle cx="553.4" cy="400.3" r="4.5"/><circle cx="608.1" cy="376.2" r="4.5"/><circle cx="615.7" cy="483.9" r="4.5"/><circle cx="610.3" cy="488.3" r="4.5"/><circle cx="582.7" cy="409.6" r="4.5"/><circle cx="487.5" cy="386.2" r="4.5"/><circle cx="486.4" cy="325.0" r="4.5"/><circle cx="592.4" cy="388.9" r="4.5"/><circle cx="638.2" cy="359.0" r="4.5"/><circle cx="531.8" cy="601.2" r="4.5"/><circle cx="501.2" cy="422.4" r="4.5"/><circle cx="536.9" cy="455.5" r="4.5"/><circle cx="503.6" cy="379.4" r="4.5"/><circle cx="452.8" cy="301.4" r="4.5"/><circle cx="696.3" cy="424.9" r="4.5"/><circle cx="530.3" cy="312.4" r="4.5"/><circle cx="505.7" cy="309.6" r="4.5"/><circle cx="479.2" cy="384.0" r="4.5"/><circle cx="581.6" cy="656.6" r="4.5"/><circle cx="682.5" cy="381.4" r="4.5"/><circle cx="654.1" cy="348.6" r="4.5"/><circle cx="632.5" cy="565.0" r="4.5"/><circle cx="611.2" cy="403.4" r="4.5"/><circle cx="405.7" cy="165.1" r="4.5"/><circle cx="542.2" cy="621.7" r="4.5"/><circle cx="467.9" cy="260.3" r="4.5"/><circle cx="644.9" cy="335.2" r="4.5"/><circle cx="547.4" cy="402.7" r="4.5"/><circle cx="418.8" cy="341.2" r="4.5"/><circle cx="410.8" cy="389.1" r="4.5"/><circle cx="450.8" cy="316.3" r="4.5"/><circle cx="633.8" cy="381.4" r="4.5"/><circle cx="493.8" cy="348.3" r="4.5"/><circle cx="579.0" cy="440.5" r="4.5"/><circle cx="502.5" cy="630.0" r="4.5"/><circle cx="534.6" cy="350.1" r="4.5"/><circle cx="547.8" cy="312.7" r="4.5"/><circle cx="586.5" cy="632.3" r="4.5"/><circle cx="591.4" cy="682.6" r="4.5"/><circle cx="528.3" cy="605.0" r="4.5"/><circle cx="642.0" cy="363.8" r="4.5"/><circle cx="528.6" cy="335.2" r="4.5"/><circle cx="553.6" cy="455.2" r="4.5"/><circle cx="588.4" cy="343.4" r="4.5"/><circle cx="553.6" cy="498.0" r="4.5"/><circle cx="559.2" cy="667.2" r="4.5"/><circle cx="519.4" cy="381.2" r="4.5"/><circle cx="675.9" cy="334.0" r="4.5"/><circle cx="424.5" cy="639.1" r="4.5"/><circle cx="638.0" cy="417.9" r="4.5"/><circle cx="694.8" cy="411.0" r="4.5"/><circle cx="498.7" cy="342.6" r="4.5"/><circle cx="431.6" cy="182.2" r="4.5"/><circle cx="536.4" cy="558.6" r="4.5"/><circle cx="632.0" cy="419.2" r="4.5"/><circle cx="606.3" cy="318.9" r="4.5"/><circle cx="588.9" cy="495.2" r="4.5"/><circle cx="544.6" cy="332.9" r="4.5"/><circle cx="506.9" cy="581.1" r="4.5"/><circle cx="492.3" cy="401.6" r="4.5"/><circle cx="541.3" cy="424.9" r="4.5"/><circle cx="668.5" cy="335.0" r="4.5"/><circle cx="483.0" cy="304.5" r="4.5"/><circle cx="615.9" cy="341.4" r="4.5"/><circle cx="679.1" cy="425.6" r="4.5"/><circle cx="588.9" cy="472.4" r="4.5"/><circle cx="414.6" cy="640.6" r="4.5"/><circle cx="579.7" cy="566.1" r="4.5"/><circle cx="469.9" cy="257.9" r="4.5"/><circle cx="542.7" cy="461.9" r="4.5"/><circle cx="602.3" cy="424.3" r="4.5"/><circle cx="551.2" cy="480.9" r="4.5"/><circle cx="525.9" cy="615.3" r="4.5"/><circle cx="561.6" cy="481.8" r="4.5"/><circle cx="596.5" cy="618.9" r="4.5"/><circle cx="564.1" cy="322.2" r="4.5"/><circle cx="480.8" cy="248.1" r="4.5"/><circle cx="649.0" cy="496.5" r="4.5"/><circle cx="621.6" cy="599.8" r="4.5"/><circle cx="699.8" cy="401.9" r="4.5"/><circle cx="585.0" cy="590.7" r="4.5"/><circle cx="606.4" cy="655.4" r="4.5"/><circle cx="566.4" cy="680.2" r="4.5"/><circle cx="662.2" cy="374.8" r="4.5"/><circle cx="648.2" cy="657.3" r="4.5"/><circle cx="451.6" cy="283.4" r="4.5"/><circle cx="529.2" cy="622.4" r="4.5"/><circle cx="616.5" cy="439.9" r="4.5"/><circle cx="360.7" cy="334.9" r="4.5"/><circle cx="467.6" cy="265.8" r="4.5"/><circle cx="602.5" cy="628.1" r="4.5"/><circle cx="672.5" cy="372.6" r="4.5"/><circle cx="677.3" cy="430.1" r="4.5"/><circle cx="594.9" cy="441.0" r="4.5"/><circle cx="443.9" cy="657.3" r="4.5"/><circle cx="458.5" cy="335.2" r="4.5"/><circle cx="597.3" cy="578.0" r="4.5"/><circle cx="472.4" cy="660.8" r="4.5"/><circle cx="685.7" cy="405.9" r="4.5"/><circle cx="596.8" cy="672.7" r="4.5"/><circle cx="386.6" cy="365.4" r="4.5"/><circle cx="348.4" cy="355.4" r="4.5"/><circle cx="563.3" cy="622.4" r="4.5"/><circle cx="654.5" cy="650.2" r="4.5"/><circle cx="498.5" cy="355.8" r="4.5"/><circle cx="549.0" cy="342.5" r="4.5"/><circle cx="637.4" cy="621.2" r="4.5"/><circle cx="497.6" cy="315.4" r="4.5"/><circle cx="536.6" cy="447.9" r="4.5"/><circle cx="603.2" cy="605.5" r="4.5"/><circle cx="629.3" cy="575.2" r="4.5"/><circle cx="637.4" cy="441.6" r="4.5"/><circle cx="642.3" cy="414.3" r="4.5"/><circle cx="521.2" cy="265.7" r="4.5"/><circle cx="406.6" cy="647.2" r="4.5"/><circle cx="670.0" cy="588.0" r="4.5"/><circle cx="585.7" cy="568.0" r="4.5"/><circle cx="442.3" cy="615.6" r="4.5"/><circle cx="608.0" cy="416.9" r="4.5"/><circle cx="546.1" cy="457.2" r="4.5"/><circle cx="538.9" cy="415.8" r="4.5"/><circle cx="607.4" cy="439.9" r="4.5"/><circle cx="532.4" cy="584.0" r="4.5"/><circle cx="612.8" cy="391.1" r="4.5"/><circle cx="541.7" cy="448.5" r="4.5"/><circle cx="539.5" cy="307.2" r="4.5"/><circle cx="586.0" cy="625.5" r="4.5"/><circle cx="517.1" cy="597.0" r="4.5"/><circle cx="482.0" cy="294.7" r="4.5"/><circle cx="477.2" cy="310.4" r="4.5"/><circle cx="499.5" cy="425.3" r="4.5"/><circle cx="679.6" cy="416.5" r="4.5"/><circle cx="444.1" cy="636.6" r="4.5"/><circle cx="608.7" cy="371.9" r="4.5"/><circle cx="423.8" cy="662.3" r="4.5"/><circle cx="488.0" cy="441.4" r="4.5"/><circle cx="596.5" cy="593.3" r="4.5"/><circle cx="673.8" cy="592.5" r="4.5"/><circle cx="539.4" cy="285.8" r="4.5"/><circle cx="511.1" cy="265.9" r="4.5"/><circle cx="658.3" cy="631.0" r="4.5"/><circle cx="592.7" cy="657.4" r="4.5"/><circle cx="664.4" cy="448.9" r="4.5"/><circle cx="600.9" cy="411.0" r="4.5"/><circle cx="580.7" cy="591.6" r="4.5"/><circle cx="569.7" cy="443.8" r="4.5"/><circle cx="576.1" cy="312.4" r="4.5"/><circle cx="431.9" cy="162.5" r="4.5"/><circle cx="492.8" cy="313.0" r="4.5"/><circle cx="599.4" cy="628.8" r="4.5"/><circle cx="498.6" cy="334.4" r="4.5"/><circle cx="509.3" cy="345.4" r="4.5"/><circle cx="618.4" cy="596.3" r="4.5"/><circle cx="600.0" cy="414.1" r="4.5"/><circle cx="523.3" cy="257.6" r="4.5"/><circle cx="598.3" cy="375.6" r="4.5"/><circle cx="602.4" cy="639.8" r="4.5"/><circle cx="543.0" cy="435.6" r="4.5"/><circle cx="412.4" cy="657.3" r="4.5"/><circle cx="426.6" cy="137.7" r="4.5"/><circle cx="505.7" cy="277.5" r="4.5"/><circle cx="614.5" cy="598.7" r="4.5"/><circle cx="524.4" cy="634.7" r="4.5"/><circle cx="556.0" cy="434.1" r="4.5"/><circle cx="537.1" cy="625.6" r="4.5"/><circle cx="610.3" cy="583.7" r="4.5"/><circle cx="573.0" cy="357.9" r="4.5"/><circle cx="565.6" cy="355.4" r="4.5"/><circle cx="461.1" cy="663.2" r="4.5"/><circle cx="504.2" cy="290.4" r="4.5"/><circle cx="563.8" cy="469.6" r="4.5"/><circle cx="544.3" cy="666.2" r="4.5"/><circle cx="558.9" cy="461.8" r="4.5"/><circle cx="498.8" cy="360.4" r="4.5"/><circle cx="593.2" cy="568.8" r="4.5"/><circle cx="655.2" cy="629.3" r="4.5"/><circle cx="655.9" cy="684.7" r="4.5"/><circle cx="352.3" cy="294.3" r="4.5"/><circle cx="516.2" cy="353.3" r="4.5"/><circle cx="575.7" cy="567.0" r="4.5"/><circle cx="632.6" cy="368.0" r="4.5"/><circle cx="652.0" cy="437.9" r="4.5"/><circle cx="541.8" cy="313.3" r="4.5"/><circle cx="608.8" cy="699.2" r="4.5"/><circle cx="560.7" cy="571.7" r="4.5"/><circle cx="372.7" cy="340.7" r="4.5"/><circle cx="667.5" cy="461.6" r="4.5"/><circle cx="530.5" cy="586.5" r="4.5"/><circle cx="581.6" cy="311.1" r="4.5"/><circle cx="568.6" cy="659.5" r="4.5"/><circle cx="564.2" cy="367.1" r="4.5"/><circle cx="514.0" cy="348.6" r="4.5"/><circle cx="637.9" cy="361.8" r="4.5"/><circle cx="537.6" cy="667.6" r="4.5"/><circle cx="492.8" cy="411.4" r="4.5"/><circle cx="416.6" cy="164.6" r="4.5"/><circle cx="514.0" cy="253.5" r="4.5"/><circle cx="486.6" cy="343.3" r="4.5"/><circle cx="572.9" cy="366.3" r="4.5"/><circle cx="616.8" cy="373.9" r="4.5"/></g><g fill="#c957db"><circle cx="427.0" cy="384.4" r="4.5"/></g><g fill="#db5f57"><circle cx="238.8" cy="517.1" r="4.5"/><circle cx="288.6" cy="506.9" r="4.5"/><circle cx="309.2" cy="522.0" r="4.5"/><circle cx="279.2" cy="570.7" r="4.5"/><circle cx="229.3" cy="488.0" r="4.5"/><circle cx="258.6" cy="488.2" r="4.5"/><circle cx="310.2" cy="535.8" r="4.5"/><circle cx="303.3" cy="555.0" r="4.5"/><circle cx="367.6" cy="725.9" r="4.5"/><circle cx="218.8" cy="459.7" r="4.5"/><circle cx="213.7" cy="516.5" r="4.5"/><circle cx="266.6" cy="499.1" r="4.5"/><circle cx="255.5" cy="564.1" r="4.5"/><circle cx="301.7" cy="491.9" r="4.5"/><circle cx="257.5" cy="468.5" r="4.5"/><circle cx="395.1" cy="738.0" r="4.5"/><circle cx="294.2" cy="490.9" r="4.5"/><circle cx="264.3" cy="565.9" r="4.5"/><circle cx="207.7" cy="492.9" r="4.5"/><circle cx="209.0" cy="507.1" r="4.5"/><circle cx="222.2" cy="465.1" r="4.5"/><circle cx="318.9" cy="494.6" r="4.5"/><circle cx="300.4" cy="497.0" r="4.5"/><circle cx="292.3" cy="479.2" r="4.5"/><circle cx="208.8" cy="486.2" r="4.5"/><circle cx="204.3" cy="493.6" r="4.5"/><circle cx="286.2" cy="561.9" r="4.5"/><circle cx="253.4" cy="519.0" r="4.5"/><circle cx="267.5" cy="548.1" r="4.5"/><circle cx="307.9" cy="558.8" r="4.5"/><circle cx="333.8" cy="508.8" r="4.5"/><circle cx="232.8" cy="523.0" r="4.5"/><circle cx="236.9" cy="478.4" r="4.5"/><circle cx="246.1" cy="459.4" r="4.5"/><circle cx="317.3" cy="573.4" r="4.5"/><circle cx="309.0" cy="551.3" r="4.5"/><circle cx="296.1" cy="547.0" r="4.5"/><circle cx="241.8" cy="473.8" r="4.5"/><circle cx="254.9" cy="514.8" r="4.5"/><circle cx="244.4" cy="492.7" r="4.5"/><circle cx="269.2" cy="508.2" r="4.5"/><circle cx="257.6" cy="490.8" r="4.5"/><circle cx="254.3" cy="570.4" r="4.5"/><circle cx="294.3" cy="505.3" r="4.5"/><circle cx="291.1" cy="542.7" r="4.5"/><circle cx="291.8" cy="549.7" r="4.5"/><circle cx="255.6" cy="543.1" r="4.5"/><circle cx="277.8" cy="473.1" r="4.5"/><circle cx="198.7" cy="483.8" r="4.5"/><circle cx="382.0" cy="718.2" r="4.5"/><circle cx="313.1" cy="572.4" r="4.5"/><circle cx="269.8" cy="539.2" r="4.5"/><circle cx="213.8" cy="457.7" r="4.5"/><circle cx="233.8" cy="491.0" r="4.5"/><circle cx="276.9" cy="558.6" r="4.5"/><circle cx="298.9" cy="476.0" r="4.5"/><circle cx="303.1" cy="573.0" r="4.5"/><circle cx="273.0" cy="523.5" r="4.5"/><circle cx="389.0" cy="740.8" r="4.5"/><circle cx="225.7" cy="528.2" r="4.5"/></g><g fill="#b9db57"><circle cx="784.7" cy="411.1" r="4.5"/><circle cx="811.4" cy="559.2" r="4.5"/><circle cx="713.2" cy="502.6" r="4.5"/><circle cx="771.0" cy="517.1" r="4.5"/><circle cx="430.0" cy="212.5" r="4.5"/><circle cx="788.2" cy="342.3" r="4.5"/><circle cx="631.6" cy="151.1" r="4.5"/><circle cx="727.3" cy="298.8" r="4.5"/><circle cx="500.2" cy="526.7" r="4.5"/><circle cx="860.4" cy="238.4" r="4.5"/><circle cx="863.3" cy="519.0" r="4.5"/><circle cx="791.5" cy="321.1" r="4.5"/><circle cx="838.5" cy="221.2" r="4.5"/><circle cx="811.9" cy="320.2" r="4.5"/><circle cx="482.8" cy="498.6" r="4.5"/><circle cx="767.0" cy="526.7" r="4.5"/><circle cx="858.8" cy="343.9" r="4.5"/><circle cx="610.4" cy="220.4" r="4.5"/><circle cx="776.6" cy="483.0" r="4.5"/><circle cx="668.1" cy="229.4" r="4.5"/><circle cx="798.2" cy="551.6" r="4.5"/><circle cx="821.2" cy="218.6" r="4.5"/><circle cx="664.6" cy="158.2" r="4.5"/><circle cx="457.3" cy="528.4" r="4.5"/><circle cx="788.9" cy="242.0" r="4.5"/><circle cx="816.1" cy="228.5" r="4.5"/><circle cx="620.1" cy="180.6" r="4.5"/><circle cx="824.2" cy="303.5" r="4.5"/><circle cx="886.2" cy="409.4" r="4.5"/><circle cx="743.5" cy="208.1" r="4.5"/><circle cx="807.3" cy="369.1" r="4.5"/><circle cx="893.7" cy="396.8" r="4.5"/><circle cx="780.0" cy="186.5" r="4.5"/><circle cx="822.0" cy="345.2" r="4.5"/><circle cx="660.2" cy="173.4" r="4.5"/><circle cx="655.5" cy="197.5" r="4.5"/><circle cx="807.2" cy="239.9" r="4.5"/><circle cx="762.4" cy="240.4" r="4.5"/><circle cx="862.6" cy="522.1" r="4.5"/><circle cx="791.8" cy="341.3" r="4.5"/><circle cx="789.0" cy="282.0" r="4.5"/><circle cx="810.4" cy="262.8" r="4.5"/><circle cx="730.3" cy="275.6" r="4.5"/><circle cx="739.3" cy="269.0" r="4.5"/><circle cx="596.7" cy="211.2" r="4.5"/><circle cx="853.3" cy="502.5" r="4.5"/><circle cx="810.9" cy="555.0" r="4.5"/><circle cx="669.2" cy="207.4" r="4.5"/><circle cx="764.9" cy="534.5" r="4.5"/><circle cx="458.5" cy="542.9" r="4.5"/><circle cx="707.4" cy="254.2" r="4.5"/><circle cx="884.5" cy="326.0" r="4.5"/><circle cx="598.2" cy="197.8" r="4.5"/><circle cx="656.9" cy="203.9" r="4.5"/><circle cx="654.2" cy="169.8" r="4.5"/><circle cx="803.2" cy="395.0" r="4.5"/><circle cx="679.7" cy="270.6" r="4.5"/><circle cx="808.9" cy="292.6" r="4.5"/><circle cx="811.3" cy="351.3" r="4.5"/><circle cx="646.6" cy="223.8" r="4.5"/><circle cx="806.9" cy="269.1" r="4.5"/><circle cx="753.1" cy="499.7" r="4.5"/><circle cx="733.5" cy="475.8" r="4.5"/><circle cx="790.8" cy="263.9" r="4.5"/><circle cx="773.4" cy="279.0" r="4.5"/><circle cx="493.3" cy="535.1" r="4.5"/><circle cx="738.9" cy="280.1" r="4.5"/><circle cx="729.2" cy="472.8" r="4.5"/><circle cx="799.8" cy="200.1" r="4.5"/><circle cx="746.7" cy="518.3" r="4.5"/><circle cx="612.5" cy="208.4" r="4.5"/><circle cx="764.1" cy="537.0" r="4.5"/><circle cx="876.2" cy="342.8" r="4.5"/><circle cx="790.2" cy="543.6" r="4.5"/><circle cx="773.5" cy="188.1" r="4.5"/><circle cx="646.6" cy="176.4" r="4.5"/><circle cx="816.6" cy="200.9" r="4.5"/><circle cx="602.5" cy="191.8" r="4.5"/><circle cx="491.2" cy="514.8" r="4.5"/><circle cx="661.6" cy="184.2" r="4.5"/><circle cx="685.8" cy="212.4" r="4.5"/><circle cx="825.2" cy="237.9" r="4.5"/><circle cx="625.2" cy="204.5" r="4.5"/><circle cx="799.6" cy="488.3" r="4.5"/><circle cx="800.9" cy="339.9" r="4.5"/><circle cx="773.5" cy="275.4" r="4.5"/><circle cx="794.9" cy="202.2" r="4.5"/><circle cx="734.7" cy="487.6" r="4.5"/><circle cx="734.0" cy="484.1" r="4.5"/><circle cx="612.4" cy="199.5" r="4.5"/><circle cx="472.4" cy="536.1" r="4.5"/><circle cx="742.6" cy="350.3" r="4.5"/><circle cx="800.2" cy="251.3" r="4.5"/><circle cx="788.6" cy="517.1" r="4.5"/><circle cx="455.8" cy="538.3" r="4.5"/><circle cx="836.0" cy="473.2" r="4.5"/><circle cx="786.2" cy="275.2" r="4.5"/><circle cx="743.5" cy="477.8" r="4.5"/><circle cx="849.6" cy="219.9" r="4.5"/><circle cx="801.7" cy="368.0" r="4.5"/><circle cx="735.1" cy="472.7" r="4.5"/><circle cx="773.8" cy="466.0" r="4.5"/><circle cx="762.0" cy="192.5" r="4.5"/><circle cx="832.5" cy="313.8" r="4.5"/><circle cx="897.6" cy="303.0" r="4.5"/><circle cx="821.6" cy="314.3" r="4.5"/><circle cx="738.0" cy="286.8" r="4.5"/><circle cx="784.0" cy="329.9" r="4.5"/><circle cx="792.2" cy="546.2" r="4.5"/><circle cx="784.7" cy="301.9" r="4.5"/><circle cx="664.8" cy="240.0" r="4.5"/><circle cx="786.7" cy="424.6" r="4.5"/><circle cx="766.0" cy="243.0" r="4.5"/><circle cx="674.5" cy="228.9" r="4.5"/><circle cx="820.8" cy="330.1" r="4.5"/><circle cx="506.1" cy="504.7" r="4.5"/><circle cx="854.4" cy="322.1" r="4.5"/><circle cx="716.3" cy="507.9" r="4.5"/><circle cx="839.5" cy="539.5" r="4.5"/><circle cx="636.6" cy="264.1" r="4.5"/><circle cx="806.0" cy="308.7" r="4.5"/><circle cx="439.9" cy="522.3" r="4.5"/><circle cx="877.6" cy="295.5" r="4.5"/><circle cx="743.0" cy="316.4" r="4.5"/><circle cx="809.7" cy="340.1" r="4.5"/><circle cx="747.4" cy="478.3" r="4.5"/><circle cx="800.4" cy="556.1" r="4.5"/><circle cx="782.3" cy="270.3" r="4.5"/><circle cx="768.6" cy="322.8" r="4.5"/><circle cx="804.5" cy="502.2" r="4.5"/><circle cx="763.7" cy="387.1" r="4.5"/><circle cx="648.3" cy="257.6" r="4.5"/><circle cx="809.0" cy="540.1" r="4.5"/><circle cx="729.7" cy="330.2" r="4.5"/><circle cx="818.7" cy="225.2" r="4.5"/><circle cx="876.3" cy="318.6" r="4.5"/><circle cx="596.8" cy="206.4" r="4.5"/><circle cx="815.2" cy="349.7" r="4.5"/><circle cx="810.9" cy="305.6" r="4.5"/><circle cx="758.2" cy="285.4" r="4.5"/><circle cx="598.1" cy="208.5" r="4.5"/><circle cx="612.2" cy="204.0" r="4.5"/><circle cx="793.4" cy="235.1" r="4.5"/><circle cx="862.5" cy="427.0" r="4.5"/><circle cx="772.1" cy="416.8" r="4.5"/><circle cx="742.8" cy="523.5" r="4.5"/><circle cx="747.7" cy="310.2" r="4.5"/><circle cx="853.4" cy="350.4" r="4.5"/><circle cx="625.9" cy="250.0" r="4.5"/><circle cx="808.3" cy="519.3" r="4.5"/><circle cx="849.0" cy="282.3" r="4.5"/><circle cx="629.1" cy="187.7" r="4.5"/><circle cx="807.3" cy="488.4" r="4.5"/><circle cx="774.8" cy="320.2" r="4.5"/><circle cx="653.5" cy="205.2" r="4.5"/><circle cx="711.6" cy="272.0" r="4.5"/><circle cx="790.5" cy="559.6" r="4.5"/><circle cx="783.0" cy="227.1" r="4.5"/><circle cx="837.1" cy="479.9" r="4.5"/><circle cx="610.1" cy="176.9" r="4.5"/><circle cx="753.9" cy="211.3" r="4.5"/><circle cx="786.5" cy="182.7" r="4.5"/><circle cx="688.2" cy="249.8" r="4.5"/><circle cx="809.4" cy="445.4" r="4.5"/><circle cx="443.4" cy="521.4" r="4.5"/><circle cx="804.3" cy="250.0" r="4.5"/><circle cx="785.7" cy="359.0" r="4.5"/><circle cx="674.3" cy="242.0" r="4.5"/><circle cx="643.7" cy="145.2" r="4.5"/><circle cx="684.4" cy="217.2" r="4.5"/><circle cx="780.4" cy="497.2" r="4.5"/><circle cx="633.6" cy="186.2" r="4.5"/><circle cx="758.8" cy="346.3" r="4.5"/><circle cx="765.5" cy="337.5" r="4.5"/><circle cx="797.9" cy="557.0" r="4.5"/><circle cx="710.8" cy="285.2" r="4.5"/><circle cx="732.1" cy="469.9" r="4.5"/><circle cx="805.8" cy="462.4" r="4.5"/><circle cx="888.3" cy="402.4" r="4.5"/><circle cx="735.8" cy="215.8" r="4.5"/><circle cx="622.7" cy="231.1" r="4.5"/><circle cx="418.8" cy="501.2" r="4.5"/><circle cx="642.7" cy="218.2" r="4.5"/><circle cx="836.9" cy="333.1" r="4.5"/><circle cx="802.1" cy="297.8" r="4.5"/><circle cx="682.7" cy="209.5" r="4.5"/><circle cx="777.9" cy="515.8" r="4.5"/><circle cx="736.6" cy="347.2" r="4.5"/><circle cx="797.6" cy="215.4" r="4.5"/><circle cx="510.4" cy="508.3" r="4.5"/><circle cx="676.3" cy="233.8" r="4.5"/><circle cx="810.4" cy="379.0" r="4.5"/><circle cx="684.6" cy="248.1" r="4.5"/><circle cx="648.0" cy="136.1" r="4.5"/><circle cx="683.1" cy="266.0" r="4.5"/><circle cx="460.6" cy="514.0" r="4.5"/><circle cx="824.2" cy="328.3" r="4.5"/><circle cx="759.6" cy="249.9" r="4.5"/><circle cx="796.8" cy="565.7" r="4.5"/><circle cx="789.5" cy="487.1" r="4.5"/><circle cx="827.4" cy="248.9" r="4.5"/><circle cx="800.3" cy="260.4" r="4.5"/><circle cx="818.0" cy="190.7" r="4.5"/><circle cx="652.8" cy="165.8" r="4.5"/><circle cx="871.6" cy="304.3" r="4.5"/><circle cx="727.7" cy="517.2" r="4.5"/><circle cx="794.7" cy="292.6" r="4.5"/><circle cx="616.3" cy="176.8" r="4.5"/><circle cx="554.2" cy="194.2" r="4.5"/><circle cx="797.2" cy="228.5" r="4.5"/><circle cx="834.1" cy="497.1" r="4.5"/><circle cx="775.6" cy="370.3" r="4.5"/><circle cx="681.4" cy="214.5" r="4.5"/><circle cx="725.8" cy="527.3" r="4.5"/><circle cx="776.3" cy="269.4" r="4.5"/><circle cx="671.2" cy="188.3" r="4.5"/><circle cx="774.1" cy="483.5" r="4.5"/><circle cx="840.8" cy="317.8" r="4.5"/><circle cx="838.0" cy="318.1" r="4.5"/><circle cx="808.5" cy="364.4" r="4.5"/><circle cx="782.8" cy="467.4" r="4.5"/><circle cx="780.6" cy="535.7" r="4.5"/><circle cx="798.3" cy="562.0" r="4.5"/><circle cx="764.9" cy="482.0" r="4.5"/><circle cx="731.8" cy="495.6" r="4.5"/><circle cx="623.3" cy="178.7" r="4.5"/><circle cx="800.0" cy="263.8" r="4.5"/><circle cx="479.7" cy="517.5" r="4.5"/><circle cx="752.3" cy="251.5" r="4.5"/><circle cx="755.3" cy="232.2" r="4.5"/><circle cx="734.1" cy="326.1" r="4.5"/><circle cx="482.1" cy="536.6" r="4.5"/><circle cx="779.9" cy="235.2" r="4.5"/><circle cx="745.5" cy="505.0" r="4.5"/><circle cx="773.2" cy="490.6" r="4.5"/><circle cx="744.1" cy="249.2" r="4.5"/><circle cx="774.9" cy="404.9" r="4.5"/><circle cx="787.9" cy="209.9" r="4.5"/><circle cx="778.1" cy="221.1" r="4.5"/><circle cx="829.1" cy="287.2" r="4.5"/><circle cx="858.5" cy="522.1" r="4.5"/><circle cx="830.5" cy="320.3" r="4.5"/><circle cx="681.5" cy="230.6" r="4.5"/><circle cx="773.8" cy="216.4" r="4.5"/><circle cx="742.4" cy="520.0" r="4.5"/><circle cx="857.5" cy="580.0" r="4.5"/><circle cx="830.2" cy="227.8" r="4.5"/><circle cx="813.8" cy="208.2" r="4.5"/><circle cx="667.2" cy="182.8" r="4.5"/><circle cx="672.0" cy="239.1" r="4.5"/><circle cx="810.6" cy="192.9" r="4.5"/><circle cx="649.0" cy="174.3" r="4.5"/><circle cx="547.0" cy="510.8" r="4.5"/><circle cx="809.5" cy="279.1" r="4.5"/><circle cx="608.0" cy="179.8" r="4.5"/><circle cx="893.8" cy="377.5" r="4.5"/><circle cx="782.1" cy="286.7" r="4.5"/><circle cx="620.3" cy="197.9" r="4.5"/><circle cx="794.0" cy="550.5" r="4.5"/><circle cx="759.0" cy="191.9" r="4.5"/><circle cx="787.0" cy="299.5" r="4.5"/><circle cx="602.4" cy="221.9" r="4.5"/><circle cx="780.3" cy="274.5" r="4.5"/><circle cx="680.4" cy="225.7" r="4.5"/><circle cx="847.7" cy="316.2" r="4.5"/><circle cx="475.7" cy="533.6" r="4.5"/><circle cx="842.6" cy="211.0" r="4.5"/><circle cx="640.1" cy="249.3" r="4.5"/><circle cx="816.5" cy="411.5" r="4.5"/><circle cx="622.8" cy="194.3" r="4.5"/><circle cx="419.5" cy="499.5" r="4.5"/><circle cx="701.9" cy="254.9" r="4.5"/><circle cx="795.9" cy="188.0" r="4.5"/><circle cx="738.2" cy="501.7" r="4.5"/><circle cx="811.1" cy="334.2" r="4.5"/><circle cx="890.3" cy="299.4" r="4.5"/><circle cx="740.1" cy="287.4" r="4.5"/><circle cx="755.0" cy="565.0" r="4.5"/><circle cx="768.3" cy="317.1" r="4.5"/><circle cx="757.4" cy="326.7" r="4.5"/><circle cx="641.3" cy="228.3" r="4.5"/><circle cx="726.7" cy="520.5" r="4.5"/><circle cx="850.3" cy="351.2" r="4.5"/><circle cx="720.9" cy="272.1" r="4.5"/><circle cx="614.5" cy="206.5" r="4.5"/><circle cx="887.7" cy="308.1" r="4.5"/><circle cx="794.5" cy="547.0" r="4.5"/><circle cx="870.1" cy="340.6" r="4.5"/><circle cx="515.7" cy="516.7" r="4.5"/><circle cx="771.0" cy="273.3" r="4.5"/><circle cx="838.9" cy="473.5" r="4.5"/></g><g fill="#5784db"><circle cx="264.7" cy="350.0" r="4.5"/><circle cx="319.5" cy="419.7" r="4.5"/><circle cx="236.6" cy="384.9" r="4.5"/><circle cx="282.8" cy="308.7" r="4.5"/><circle cx="273.3" cy="299.8" r="4.5"/><circle cx="326.8" cy="452.8" r="4.5"/><circle cx="352.3" cy="424.0" r="4.5"/><circle cx="264.4" cy="369.4" r="4.5"/><circle cx="259.2" cy="383.1" r="4.5"/><circle cx="259.9" cy="375.7" r="4.5"/><circle cx="331.9" cy="443.2" r="4.5"/><circle cx="232.4" cy="303.5" r="4.5"/><circle cx="281.5" cy="383.9" r="4.5"/><circle cx="282.7" cy="418.4" r="4.5"/><circle cx="275.6" cy="336.4" r="4.5"/><circle cx="161.2" cy="386.2" r="4.5"/><circle cx="336.4" cy="435.5" r="4.5"/><circle cx="271.5" cy="312.4" r="4.5"/><circle cx="293.0" cy="369.2" r="4.5"/><circle cx="229.4" cy="365.2" r="4.5"/><circle cx="306.4" cy="440.3" r="4.5"/><circle cx="241.5" cy="367.5" r="4.5"/><circle cx="291.3" cy="377.4" r="4.5"/><circle cx="210.5" cy="392.0" r="4.5"/><circle cx="266.4" cy="356.3" r="4.5"/><circle cx="233.3" cy="355.3" r="4.5"/><circle cx="296.5" cy="426.3" r="4.5"/><circle cx="244.3" cy="314.1" r="4.5"/><circle cx="317.0" cy="310.1" r="4.5"/><circle cx="220.4" cy="343.6" r="4.5"/><circle cx="254.4" cy="332.0" r="4.5"/><circle cx="310.2" cy="310.6" r="4.5"/><circle cx="299.6" cy="421.0" r="4.5"/><circle cx="202.7" cy="382.1" r="4.5"/><circle cx="267.2" cy="319.4" r="4.5"/><circle cx="328.0" cy="457.6" r="4.5"/><circle cx="264.5" cy="378.9" r="4.5"/><circle cx="301.2" cy="403.8" r="4.5"/><circle cx="288.9" cy="404.7" r="4.5"/><circle cx="240.1" cy="351.4" r="4.5"/><circle cx="268.1" cy="390.0" r="4.5"/><circle cx="279.5" cy="414.5" r="4.5"/><circle cx="227.0" cy="309.6" r="4.5"/><circle cx="279.4" cy="381.8" r="4.5"/><circle cx="203.7" cy="363.2" r="4.5"/><circle cx="314.0" cy="356.5" r="4.5"/><circle cx="271.8" cy="320.5" r="4.5"/><circle cx="292.6" cy="328.2" r="4.5"/><circle cx="300.2" cy="376.8" r="4.5"/><circle cx="292.7" cy="416.7" r="4.5"/><circle cx="342.9" cy="416.2" r="4.5"/><circle cx="200.7" cy="323.7" r="4.5"/><circle cx="215.9" cy="398.7" r="4.5"/><circle cx="205.2" cy="374.8" r="4.5"/><circle cx="244.7" cy="321.8" r="4.5"/><circle cx="211.1" cy="335.4" r="4.5"/><circle cx="172.5" cy="386.2" r="4.5"/><circle cx="206.6" cy="311.9" r="4.5"/><circle cx="311.6" cy="408.9" r="4.5"/><circle cx="279.1" cy="428.9" r="4.5"/><circle cx="295.3" cy="340.8" r="4.5"/><circle cx="279.1" cy="327.8" r="4.5"/><circle cx="211.8" cy="357.3" r="4.5"/><circle cx="270.6" cy="366.1" r="4.5"/><circle cx="197.0" cy="337.7" r="4.5"/><circle cx="253.1" cy="341.1" r="4.5"/><circle cx="314.0" cy="353.1" r="4.5"/><circle cx="284.1" cy="316.2" r="4.5"/><circle cx="319.0" cy="401.8" r="4.5"/><circle cx="240.5" cy="337.3" r="4.5"/><circle cx="312.4" cy="390.5" r="4.5"/><circle cx="293.2" cy="437.4" r="4.5"/><circle cx="251.3" cy="328.1" r="4.5"/><circle cx="284.3" cy="297.2" r="4.5"/></g><g fill="#57db94"><circle cx="455.8" cy="662.2" r="4.5"/><circle cx="496.3" cy="305.9" r="4.5"/><circle cx="475.3" cy="284.9" r="4.5"/><circle cx="533.5" cy="461.0" r="4.5"/><circle cx="435.6" cy="672.8" r="4.5"/><circle cx="667.0" cy="424.0" r="4.5"/><circle cx="678.5" cy="401.0" r="4.5"/><circle cx="514.8" cy="274.3" r="4.5"/><circle cx="542.8" cy="647.1" r="4.5"/><circle cx="453.9" cy="364.5" r="4.5"/><circle cx="528.7" cy="427.8" r="4.5"/><circle cx="624.6" cy="497.0" r="4.5"/><circle cx="606.6" cy="606.3" r="4.5"/><circle cx="451.0" cy="349.5" r="4.5"/><circle cx="570.3" cy="323.5" r="4.5"/><circle cx="618.4" cy="448.8" r="4.5"/><circle cx="541.4" cy="327.2" r="4.5"/><circle cx="602.5" cy="664.2" r="4.5"/><circle cx="502.0" cy="311.7" r="4.5"/><circle cx="567.6" cy="435.8" r="4.5"/><circle cx="628.9" cy="377.0" r="4.5"/><circle cx="690.0" cy="603.8" r="4.5"/><circle cx="589.8" cy="482.6" r="4.5"/><circle cx="501.3" cy="368.3" r="4.5"/><circle cx="475.4" cy="338.3" r="4.5"/><circle cx="576.4" cy="393.8" r="4.5"/><circle cx="513.3" cy="353.8" r="4.5"/><circle cx="589.4" cy="562.0" r="4.5"/><circle cx="631.8" cy="463.4" r="4.5"/><circle cx="428.6" cy="139.4" r="4.5"/><circle cx="587.5" cy="427.1" r="4.5"/><circle cx="674.3" cy="397.3" r="4.5"/><circle cx="645.4" cy="668.7" r="4.5"/><circle cx="658.9" cy="336.9" r="4.5"/><circle cx="637.8" cy="489.5" r="4.5"/><circle cx="588.7" cy="455.7" r="4.5"/><circle cx="592.5" cy="593.2" r="4.5"/><circle cx="465.6" cy="354.2" r="4.5"/><circle cx="576.0" cy="587.6" r="4.5"/><circle cx="454.1" cy="640.9" r="4.5"/><circle cx="569.0" cy="431.4" r="4.5"/><circle cx="541.3" cy="393.0" r="4.5"/><circle cx="492.4" cy="360.9" r="4.5"/><circle cx="441.5" cy="300.8" r="4.5"/><circle cx="442.9" cy="347.6" r="4.5"/><circle cx="584.6" cy="670.4" r="4.5"/><circle cx="431.2" cy="630.1" r="4.5"/><circle cx="585.2" cy="460.0" r="4.5"/><circle cx="570.6" cy="631.0" r="4.5"/><circle cx="488.4" cy="338.1" r="4.5"/><circle cx="576.4" cy="411.0" r="4.5"/><circle cx="656.8" cy="646.7" r="4.5"/><circle cx="657.4" cy="446.6" r="4.5"/><circle cx="350.9" cy="376.7" r="4.5"/><circle cx="650.6" cy="395.1" r="4.5"/><circle cx="445.5" cy="317.4" r="4.5"/><circle cx="556.4" cy="464.1" r="4.5"/><circle cx="484.6" cy="237.2" r="4.5"/><circle cx="550.7" cy="435.3" r="4.5"/><circle cx="523.6" cy="264.7" r="4.5"/><circle cx="599.8" cy="440.1" r="4.5"/><circle cx="480.8" cy="374.1" r="4.5"/><circle cx="436.7" cy="302.3" r="4.5"/><circle cx="427.7" cy="153.0" r="4.5"/><circle cx="394.8" cy="339.4" r="4.5"/><circle cx="537.2" cy="355.9" r="4.5"/><circle cx="456.5" cy="371.3" r="4.5"/><circle cx="438.2" cy="397.9" r="4.5"/><circle cx="538.8" cy="457.3" r="4.5"/><circle cx="603.8" cy="462.9" r="4.5"/><circle cx="411.0" cy="136.0" r="4.5"/><circle cx="563.7" cy="637.7" r="4.5"/><circle cx="348.8" cy="254.4" r="4.5"/><circle cx="606.4" cy="588.4" r="4.5"/><circle cx="353.0" cy="290.1" r="4.5"/><circle cx="496.6" cy="262.9" r="4.5"/><circle cx="555.1" cy="421.0" r="4.5"/><circle cx="502.7" cy="282.6" r="4.5"/><circle cx="360.0" cy="310.8" r="4.5"/><circle cx="529.4" cy="362.7" r="4.5"/><circle cx="678.3" cy="365.9" r="4.5"/><circle cx="623.9" cy="657.8" r="4.5"/><circle cx="592.5" cy="324.1" r="4.5"/><circle cx="648.7" cy="443.5" r="4.5"/><circle cx="543.9" cy="362.3" r="4.5"/><circle cx="588.8" cy="674.0" r="4.5"/><circle cx="510.8" cy="637.0" r="4.5"/><circle cx="484.2" cy="316.8" r="4.5"/><circle cx="588.6" cy="460.4" r="4.5"/><circle cx="691.9" cy="429.8" r="4.5"/><circle cx="474.2" cy="312.9" r="4.5"/><circle cx="590.9" cy="428.8" r="4.5"/><circle cx="617.0" cy="371.3" r="4.5"/><circle cx="604.7" cy="482.4" r="4.5"/><circle cx="475.1" cy="253.3" r="4.5"/><circle cx="667.3" cy="347.4" r="4.5"/><circle cx="561.9" cy="677.8" r="4.5"/><circle cx="694.7" cy="372.7" r="4.5"/><circle cx="556.9" cy="330.2" r="4.5"/><circle cx="688.3" cy="379.9" r="4.5"/><circle cx="625.9" cy="332.2" r="4.5"/><circle cx="715.2" cy="406.0" r="4.5"/><circle cx="635.7" cy="347.1" r="4.5"/><circle cx="474.2" cy="341.7" r="4.5"/><circle cx="398.0" cy="618.6" r="4.5"/><circle cx="539.5" cy="353.2" r="4.5"/><circle cx="501.2" cy="291.2" r="4.5"/><circle cx="569.6" cy="338.5" r="4.5"/><circle cx="447.9" cy="644.7" r="4.5"/><circle cx="551.5" cy="637.6" r="4.5"/><circle cx="579.6" cy="375.9" r="4.5"/><circle cx="608.6" cy="590.1" r="4.5"/><circle cx="568.3" cy="453.3" r="4.5"/><circle cx="581.6" cy="371.4" r="4.5"/><circle cx="623.8" cy="590.5" r="4.5"/><circle cx="559.7" cy="389.7" r="4.5"/><circle cx="575.8" cy="442.1" r="4.5"/><circle cx="507.7" cy="267.8" r="4.5"/><circle cx="551.0" cy="401.9" r="4.5"/><circle cx="615.7" cy="322.9" r="4.5"/><circle cx="444.0" cy="310.5" r="4.5"/><circle cx="687.7" cy="410.2" r="4.5"/><circle cx="456.0" cy="311.4" r="4.5"/><circle cx="586.5" cy="581.2" r="4.5"/><circle cx="471.0" cy="655.3" r="4.5"/><circle cx="583.1" cy="473.5" r="4.5"/><circle cx="537.5" cy="321.1" r="4.5"/><circle cx="674.3" cy="324.5" r="4.5"/><circle cx="634.6" cy="416.9" r="4.5"/><circle cx="356.2" cy="259.2" r="4.5"/><circle cx="640.9" cy="407.5" r="4.5"/><circle cx="655.9" cy="352.3" r="4.5"/><circle cx="462.6" cy="358.3" r="4.5"/><circle cx="580.0" cy="578.8" r="4.5"/><circle cx="681.7" cy="412.1" r="4.5"/><circle cx="508.6" cy="616.7" r="4.5"/><circle cx="561.7" cy="375.6" r="4.5"/><circle cx="489.6" cy="269.8" r="4.5"/><circle cx="525.1" cy="621.0" r="4.5"/><circle cx="655.0" cy="337.9" r="4.5"/><circle cx="356.4" cy="360.1" r="4.5"/><circle cx="563.7" cy="692.0" r="4.5"/><circle cx="570.1" cy="394.6" r="4.5"/><circle cx="464.8" cy="371.4" r="4.5"/><circle cx="723.8" cy="127.5" r="4.5"/><circle cx="649.3" cy="338.2" r="4.5"/><circle cx="552.7" cy="445.3" r="4.5"/><circle cx="440.3" cy="304.1" r="4.5"/><circle cx="492.3" cy="318.7" r="4.5"/><circle cx="563.8" cy="685.2" r="4.5"/><circle cx="567.5" cy="629.7" r="4.5"/><circle cx="657.5" cy="436.8" r="4.5"/><circle cx="648.8" cy="356.7" r="4.5"/><circle cx="559.4" cy="622.1" r="4.5"/><circle cx="455.7" cy="288.5" r="4.5"/><circle cx="526.0" cy="319.3" r="4.5"/><circle cx="593.0" cy="381.4" r="4.5"/><circle cx="486.8" cy="359.6" r="4.5"/><circle cx="538.6" cy="364.0" r="4.5"/><circle cx="646.5" cy="484.4" r="4.5"/><circle cx="466.2" cy="284.5" r="4.5"/><circle cx="600.5" cy="669.3" r="4.5"/><circle cx="507.4" cy="419.2" r="4.5"/><circle cx="537.6" cy="323.8" r="4.5"/><circle cx="596.7" cy="587.2" r="4.5"/><circle cx="676.9" cy="427.2" r="4.5"/><circle cx="346.5" cy="346.9" r="4.5"/><circle cx="657.9" cy="637.7" r="4.5"/><circle cx="595.1" cy="413.4" r="4.5"/><circle cx="673.8" cy="368.8" r="4.5"/><circle cx="529.9" cy="413.9" r="4.5"/><circle cx="550.5" cy="486.1" r="4.5"/><circle cx="540.7" cy="318.0" r="4.5"/><circle cx="535.3" cy="553.6" r="4.5"/><circle cx="582.6" cy="416.2" r="4.5"/><circle cx="619.0" cy="340.7" r="4.5"/><circle cx="499.4" cy="611.7" r="4.5"/><circle cx="473.3" cy="355.6" r="4.5"/><circle cx="667.1" cy="404.2" r="4.5"/><circle cx="452.1" cy="394.5" r="4.5"/><circle cx="596.8" cy="659.2" r="4.5"/><circle cx="375.7" cy="333.1" r="4.5"/><circle cx="647.7" cy="376.2" r="4.5"/><circle cx="356.5" cy="258.8" r="4.5"/><circle cx="661.0" cy="629.5" r="4.5"/><circle cx="562.1" cy="486.9" r="4.5"/><circle cx="607.2" cy="367.8" r="4.5"/><circle cx="519.9" cy="331.0" r="4.5"/><circle cx="527.6" cy="602.2" r="4.5"/><circle cx="450.5" cy="364.1" r="4.5"/><circle cx="645.0" cy="619.6" r="4.5"/><circle cx="591.0" cy="589.1" r="4.5"/><circle cx="629.2" cy="331.9" r="4.5"/><circle cx="564.7" cy="430.5" r="4.5"/><circle cx="414.9" cy="149.8" r="4.5"/><circle cx="535.7" cy="427.4" r="4.5"/><circle cx="510.2" cy="591.0" r="4.5"/><circle cx="503.5" cy="413.1" r="4.5"/><circle cx="493.6" cy="392.3" r="4.5"/><circle cx="454.8" cy="331.7" r="4.5"/><circle cx="668.9" cy="401.9" r="4.5"/><circle cx="494.6" cy="362.5" r="4.5"/><circle cx="662.1" cy="641.7" r="4.5"/><circle cx="576.7" cy="660.5" r="4.5"/><circle cx="572.6" cy="442.7" r="4.5"/><circle cx="630.9" cy="672.1" r="4.5"/><circle cx="672.3" cy="390.2" r="4.5"/><circle cx="519.2" cy="603.9" r="4.5"/><circle cx="426.7" cy="676.6" r="4.5"/><circle cx="644.8" cy="609.1" r="4.5"/><circle cx="406.7" cy="626.6" r="4.5"/><circle cx="695.5" cy="408.1" r="4.5"/><circle cx="640.9" cy="670.4" r="4.5"/><circle cx="529.7" cy="420.8" r="4.5"/><circle cx="475.2" cy="391.1" r="4.5"/><circle cx="587.5" cy="490.7" r="4.5"/><circle cx="483.1" cy="396.4" r="4.5"/><circle cx="582.6" cy="429.7" r="4.5"/><circle cx="657.0" cy="394.4" r="4.5"/><circle cx="613.6" cy="482.3" r="4.5"/><circle cx="588.0" cy="614.5" r="4.5"/><circle cx="487.3" cy="367.3" r="4.5"/><circle cx="647.7" cy="351.3" r="4.5"/><circle cx="511.0" cy="607.2" r="4.5"/><circle cx="625.4" cy="328.7" r="4.5"/><circle cx="644.1" cy="500.2" r="4.5"/><circle cx="493.3" cy="415.3" r="4.5"/><circle cx="590.9" cy="605.9" r="4.5"/><circle cx="686.5" cy="375.1" r="4.5"/><circle cx="627.2" cy="617.2" r="4.5"/><circle cx="614.1" cy="474.7" r="4.5"/><circle cx="521.4" cy="273.7" r="4.5"/><circle cx="431.5" cy="173.2" r="4.5"/><circle cx="610.4" cy="651.1" r="4.5"/><circle cx="638.8" cy="556.2" r="4.5"/><circle cx="358.8" cy="374.0" r="4.5"/><circle cx="590.0" cy="322.5" r="4.5"/><circle cx="479.5" cy="340.8" r="4.5"/><circle cx="544.3" cy="568.0" r="4.5"/><circle cx="560.3" cy="563.8" r="4.5"/><circle cx="441.1" cy="653.3" r="4.5"/><circle cx="516.2" cy="298.8" r="4.5"/><circle cx="450.9" cy="335.0" r="4.5"/><circle cx="384.5" cy="336.5" r="4.5"/><circle cx="530.6" cy="388.4" r="4.5"/><circle cx="557.0" cy="585.6" r="4.5"/><circle cx="727.0" cy="123.8" r="4.5"/><circle cx="533.9" cy="682.0" r="4.5"/><circle cx="554.8" cy="576.5" r="4.5"/><circle cx="642.5" cy="448.0" r="4.5"/><circle cx="561.7" cy="498.9" r="4.5"/><circle cx="662.0" cy="378.5" r="4.5"/><circle cx="522.6" cy="566.5" r="4.5"/><circle cx="534.2" cy="441.2" r="4.5"/><circle cx="538.1" cy="426.4" r="4.5"/><circle cx="634.2" cy="406.0" r="4.5"/><circle cx="477.5" cy="343.3" r="4.5"/><circle cx="361.7" cy="354.1" r="4.5"/><circle cx="700.9" cy="410.4" r="4.5"/><circle cx="504.5" cy="274.6" r="4.5"/><circle cx="644.3" cy="398.6" r="4.5"/><circle cx="640.2" cy="594.9" r="4.5"/><circle cx="585.6" cy="413.8" r="4.5"/><circle cx="573.8" cy="657.5" r="4.5"/><circle cx="433.1" cy="179.0" r="4.5"/><circle cx="523.3" cy="315.4" r="4.5"/><circle cx="544.9" cy="442.1" r="4.5"/><circle cx="497.5" cy="258.1" r="4.5"/><circle cx="492.6" cy="434.7" r="4.5"/><circle cx="426.3" cy="643.4" r="4.5"/><circle cx="703.3" cy="422.9" r="4.5"/><circle cx="618.1" cy="640.2" r="4.5"/><circle cx="558.3" cy="326.1" r="4.5"/><circle cx="503.2" cy="340.3" r="4.5"/><circle cx="672.1" cy="348.8" r="4.5"/><circle cx="526.7" cy="633.4" r="4.5"/><circle cx="577.0" cy="615.9" r="4.5"/><circle cx="630.5" cy="667.4" r="4.5"/><circle cx="538.9" cy="614.8" r="4.5"/><circle cx="574.9" cy="494.1" r="4.5"/><circle cx="385.3" cy="347.5" r="4.5"/><circle cx="612.9" cy="487.9" r="4.5"/><circle cx="637.8" cy="602.7" r="4.5"/><circle cx="541.3" cy="379.4" r="4.5"/><circle cx="542.4" cy="582.5" r="4.5"/><circle cx="656.7" cy="433.1" r="4.5"/><circle cx="518.8" cy="400.0" r="4.5"/><circle cx="480.5" cy="400.4" r="4.5"/><circle cx="710.0" cy="353.8" r="4.5"/><circle cx="588.8" cy="660.3" r="4.5"/><circle cx="681.2" cy="336.5" r="4.5"/><circle cx="670.3" cy="672.7" r="4.5"/><circle cx="438.7" cy="646.2" r="4.5"/><circle cx="498.4" cy="438.6" r="4.5"/><circle cx="539.7" cy="663.2" r="4.5"/><circle cx="525.4" cy="638.8" r="4.5"/><circle cx="661.7" cy="399.0" r="4.5"/><circle cx="468.0" cy="277.9" r="4.5"/><circle cx="502.0" cy="331.1" r="4.5"/><circle cx="647.1" cy="368.5" r="4.5"/><circle cx="384.5" cy="369.7" r="4.5"/><circle cx="404.2" cy="155.1" r="4.5"/><circle cx="592.5" cy="305.1" r="4.5"/><circle cx="601.8" cy="625.2" r="4.5"/><circle cx="677.3" cy="447.3" r="4.5"/><circle cx="420.4" cy="647.0" r="4.5"/><circle cx="638.8" cy="637.6" r="4.5"/><circle cx="570.5" cy="613.1" r="4.5"/><circle cx="562.1" cy="457.5" r="4.5"/><circle cx="538.4" cy="349.0" r="4.5"/><circle cx="659.6" cy="667.0" r="4.5"/><circle cx="695.1" cy="380.0" r="4.5"/><circle cx="418.2" cy="154.0" r="4.5"/><circle cx="489.0" cy="316.7" r="4.5"/><circle cx="609.2" cy="648.1" r="4.5"/><circle cx="535.1" cy="579.2" r="4.5"/><circle cx="425.2" cy="652.2" r="4.5"/><circle cx="576.6" cy="631.0" r="4.5"/><circle cx="476.1" cy="261.8" r="4.5"/><circle cx="585.2" cy="465.0" r="4.5"/><circle cx="534.4" cy="377.0" r="4.5"/><circle cx="503.1" cy="429.6" r="4.5"/><circle cx="647.8" cy="398.8" r="4.5"/><circle cx="610.2" cy="449.0" r="4.5"/><circle cx="431.9" cy="645.5" r="4.5"/><circle cx="510.0" cy="311.9" r="4.5"/><circle cx="589.9" cy="337.8" r="4.5"/><circle cx="489.6" cy="264.4" r="4.5"/><circle cx="542.4" cy="372.6" r="4.5"/><circle cx="521.5" cy="374.4" r="4.5"/><circle cx="568.7" cy="662.9" r="4.5"/><circle cx="494.1" cy="244.0" r="4.5"/><circle cx="572.8" cy="434.6" r="4.5"/><circle cx="633.3" cy="494.3" r="4.5"/><circle cx="662.7" cy="669.2" r="4.5"/><circle cx="580.4" cy="399.4" r="4.5"/><circle cx="625.3" cy="468.2" r="4.5"/><circle cx="614.1" cy="490.6" r="4.5"/><circle cx="601.0" cy="585.9" r="4.5"/><circle cx="437.7" cy="321.4" r="4.5"/><circle cx="517.9" cy="572.1" r="4.5"/><circle cx="660.2" cy="390.6" r="4.5"/><circle cx="417.7" cy="662.5" r="4.5"/><circle cx="661.3" cy="636.2" r="4.5"/><circle cx="678.3" cy="343.3" r="4.5"/><circle cx="352.7" cy="286.8" r="4.5"/><circle cx="446.5" cy="347.2" r="4.5"/><circle cx="547.4" cy="632.3" r="4.5"/><circle cx="358.2" cy="284.5" r="4.5"/><circle cx="558.5" cy="376.1" r="4.5"/><circle cx="592.4" cy="678.9" r="4.5"/><circle cx="677.8" cy="433.6" r="4.5"/><circle cx="463.3" cy="652.1" r="4.5"/><circle cx="512.3" cy="283.5" r="4.5"/><circle cx="475.0" cy="633.8" r="4.5"/><circle cx="605.1" cy="627.6" r="4.5"/><circle cx="517.3" cy="605.9" r="4.5"/><circle cx="574.2" cy="601.3" r="4.5"/><circle cx="549.0" cy="431.9" r="4.5"/><circle cx="457.3" cy="664.7" r="4.5"/><circle cx="696.7" cy="401.6" r="4.5"/><circle cx="567.4" cy="392.0" r="4.5"/><circle cx="489.6" cy="415.6" r="4.5"/><circle cx="459.6" cy="347.3" r="4.5"/><circle cx="513.2" cy="336.7" r="4.5"/><circle cx="446.8" cy="388.5" r="4.5"/><circle cx="518.7" cy="406.2" r="4.5"/><circle cx="554.8" cy="488.0" r="4.5"/><circle cx="499.7" cy="239.9" r="4.5"/><circle cx="691.5" cy="356.6" r="4.5"/><circle cx="663.5" cy="330.0" r="4.5"/><circle cx="650.3" cy="434.8" r="4.5"/><circle cx="520.2" cy="573.3" r="4.5"/><circle cx="634.1" cy="679.4" r="4.5"/><circle cx="597.5" cy="490.8" r="4.5"/><circle cx="564.2" cy="390.3" r="4.5"/><circle cx="535.2" cy="346.0" r="4.5"/><circle cx="602.2" cy="694.9" r="4.5"/><circle cx="593.0" cy="690.3" r="4.5"/></g><g fill="#c957db"><circle cx="286.2" cy="456.8" r="4.5"/></g><g fill="#db5f57"><circle cx="410.9" cy="724.5" r="4.5"/><circle cx="234.1" cy="528.6" r="4.5"/><circle cx="245.5" cy="501.3" r="4.5"/><circle cx="273.5" cy="526.1" r="4.5"/><circle cx="301.9" cy="519.5" r="4.5"/><circle cx="284.8" cy="484.8" r="4.5"/><circle cx="389.3" cy="737.4" r="4.5"/><circle cx="274.6" cy="489.3" r="4.5"/><circle cx="229.9" cy="513.9" r="4.5"/><circle cx="389.3" cy="722.3" r="4.5"/><circle cx="200.6" cy="486.7" r="4.5"/><circle cx="281.2" cy="482.7" r="4.5"/><circle cx="282.8" cy="499.4" r="4.5"/><circle cx="306.0" cy="508.4" r="4.5"/><circle cx="304.8" cy="480.3" r="4.5"/><circle cx="258.6" cy="474.6" r="4.5"/><circle cx="269.2" cy="523.4" r="4.5"/><circle cx="270.5" cy="536.3" r="4.5"/><circle cx="210.6" cy="450.9" r="4.5"/><circle cx="246.6" cy="527.6" r="4.5"/><circle cx="222.6" cy="474.8" r="4.5"/><circle cx="244.3" cy="489.3" r="4.5"/><circle cx="274.3" cy="533.0" r="4.5"/><circle cx="226.2" cy="493.4" r="4.5"/><circle cx="295.5" cy="479.7" r="4.5"/><circle cx="257.8" cy="562.1" r="4.5"/><circle cx="299.9" cy="559.0" r="4.5"/><circle cx="364.7" cy="729.4" r="4.5"/><circle cx="216.9" cy="491.5" r="4.5"/><circle cx="215.1" cy="522.8" r="4.5"/><circle cx="239.8" cy="481.5" r="4.5"/><circle cx="226.0" cy="481.4" r="4.5"/><circle cx="228.3" cy="527.3" r="4.5"/><circle cx="291.7" cy="530.6" r="4.5"/><circle cx="261.8" cy="535.8" r="4.5"/><circle cx="271.0" cy="547.3" r="4.5"/><circle cx="255.0" cy="554.5" r="4.5"/><circle cx="205.8" cy="472.9" r="4.5"/><circle cx="383.2" cy="737.6" r="4.5"/><circle cx="254.0" cy="496.0" r="4.5"/><circle cx="210.9" cy="512.6" r="4.5"/><circle cx="228.1" cy="522.9" r="4.5"/><circle cx="238.8" cy="523.3" r="4.5"/><circle cx="305.1" cy="538.5" r="4.5"/><circle cx="247.8" cy="560.3" r="4.5"/><circle cx="382.1" cy="715.8" r="4.5"/><circle cx="257.9" cy="566.1" r="4.5"/><circle cx="234.8" cy="509.4" r="4.5"/><circle cx="223.3" cy="471.2" r="4.5"/><circle cx="317.4" cy="564.6" r="4.5"/><circle cx="272.4" cy="530.9" r="4.5"/><circle cx="219.6" cy="516.3" r="4.5"/><circle cx="290.2" cy="499.2" r="4.5"/><circle cx="229.2" cy="462.0" r="4.5"/><circle cx="314.3" cy="501.6" r="4.5"/><circle cx="254.1" cy="455.6" r="4.5"/><circle cx="287.4" cy="488.4" r="4.5"/><circle cx="389.9" cy="714.1" r="4.5"/><circle cx="374.0" cy="730.9" r="4.5"/><circle cx="307.0" cy="552.8" r="4.5"/><circle cx="394.2" cy="732.2" r="4.5"/><circle cx="206.3" cy="457.4" r="4.5"/><circle cx="278.6" cy="552.0" r="4.5"/><circle cx="316.5" cy="500.2" r="4.5"/><circle cx="303.8" cy="549.6" r="4.5"/><circle cx="382.4" cy="703.2" r="4.5"/><circle cx="256.3" cy="548.5" r="4.5"/><circle cx="223.5" cy="514.9" r="4.5"/><circle cx="228.4" cy="483.1" r="4.5"/><circle cx="298.3" cy="486.8" r="4.5"/><circle cx="301.9" cy="541.5" r="4.5"/></g><g fill="#b9db57"><circle cx="710.8" cy="495.9" r="4.5"/><circle cx="500.9" cy="519.3" r="4.5"/><circle cx="776.5" cy="182.7" r="4.5"/><circle cx="857.5" cy="316.9" r="4.5"/><circle cx="707.0" cy="252.5" r="4.5"/><circle cx="762.9" cy="531.7" r="4.5"/><circle cx="823.6" cy="281.8" r="4.5"/><circle cx="837.4" cy="487.2" r="4.5"/><circle cx="723.7" cy="272.2" r="4.5"/><circle cx="716.8" cy="500.2" r="4.5"/><circle cx="663.4" cy="141.4" r="4.5"/><circle cx="798.9" cy="267.8" r="4.5"/><circle cx="878.1" cy="335.4" r="4.5"/><circle cx="754.7" cy="426.9" r="4.5"/><circle cx="786.1" cy="530.6" r="4.5"/><circle cx="754.0" cy="218.5" r="4.5"/><circle cx="834.4" cy="485.1" r="4.5"/><circle cx="597.8" cy="190.3" r="4.5"/><circle cx="883.2" cy="329.2" r="4.5"/><circle cx="821.6" cy="527.8" r="4.5"/><circle cx="815.2" cy="485.3" r="4.5"/><circle cx="806.5" cy="266.6" r="4.5"/><circle cx="847.5" cy="528.7" r="4.5"/><circle cx="802.6" cy="317.2" r="4.5"/><circle cx="621.0" cy="252.4" r="4.5"/><circle cx="779.5" cy="518.9" r="4.5"/><circle cx="687.5" cy="231.6" r="4.5"/><circle cx="670.9" cy="231.6" r="4.5"/><circle cx="662.2" cy="261.9" r="4.5"/><circle cx="726.2" cy="496.5" r="4.5"/><circle cx="739.6" cy="306.2" r="4.5"/><circle cx="842.8" cy="229.3" r="4.5"/><circle cx="717.5" cy="553.8" r="4.5"/><circle cx="501.8" cy="506.5" r="4.5"/><circle cx="777.6" cy="245.9" r="4.5"/><circle cx="762.8" cy="284.6" r="4.5"/><circle cx="734.8" cy="273.6" r="4.5"/><circle cx="722.5" cy="279.0" r="4.5"/><circle cx="741.7" cy="211.4" r="4.5"/><circle cx="635.4" cy="204.7" r="4.5"/><circle cx="742.4" cy="235.5" r="4.5"/><circle cx="473.8" cy="542.8" r="4.5"/><circle cx="787.6" cy="304.7" r="4.5"/><circle cx="744.5" cy="347.0" r="4.5"/><circle cx="775.9" cy="350.3" r="4.5"/><circle cx="783.4" cy="539.7" r="4.5"/><circle cx="826.4" cy="218.2" r="4.5"/><circle cx="315.0" cy="620.0" r="4.5"/><circle cx="793.2" cy="523.5" r="4.5"/><circle cx="855.7" cy="219.8" r="4.5"/><circle cx="666.1" cy="237.0" r="4.5"/><circle cx="776.9" cy="376.4" r="4.5"/><circle cx="740.6" cy="499.2" r="4.5"/><circle cx="664.6" cy="246.4" r="4.5"/><circle cx="766.9" cy="261.4" r="4.5"/><circle cx="825.2" cy="188.5" r="4.5"/><circle cx="783.0" cy="196.4" r="4.5"/><circle cx="850.2" cy="342.2" r="4.5"/><circle cx="801.4" cy="303.9" r="4.5"/><circle cx="827.1" cy="532.7" r="4.5"/><circle cx="652.0" cy="171.9" r="4.5"/><circle cx="772.8" cy="305.0" r="4.5"/><circle cx="735.9" cy="304.6" r="4.5"/><circle cx="781.2" cy="184.4" r="4.5"/><circle cx="910.0" cy="259.2" r="4.5"/><circle cx="818.5" cy="508.8" r="4.5"/><circle cx="773.7" cy="499.2" r="4.5"/><circle cx="763.7" cy="333.8" r="4.5"/><circle cx="747.0" cy="363.3" r="4.5"/><circle cx="536.2" cy="508.8" r="4.5"/><circle cx="812.5" cy="190.6" r="4.5"/><circle cx="442.5" cy="511.7" r="4.5"/><circle cx="761.2" cy="300.8" r="4.5"/><circle cx="497.5" cy="514.0" r="4.5"/><circle cx="873.3" cy="384.4" r="4.5"/><circle cx="850.0" cy="392.5" r="4.5"/><circle cx="844.7" cy="276.1" r="4.5"/><circle cx="798.8" cy="442.9" r="4.5"/><circle cx="873.7" cy="331.4" r="4.5"/><circle cx="754.4" cy="239.3" r="4.5"/><circle cx="749.8" cy="495.3" r="4.5"/><circle cx="817.5" cy="298.5" r="4.5"/><circle cx="862.9" cy="232.1" r="4.5"/><circle cx="787.6" cy="527.5" r="4.5"/><circle cx="758.2" cy="333.0" r="4.5"/><circle cx="878.9" cy="402.1" r="4.5"/><circle cx="800.1" cy="389.1" r="4.5"/><circle cx="840.4" cy="355.1" r="4.5"/><circle cx="732.1" cy="500.0" r="4.5"/><circle cx="740.5" cy="295.3" r="4.5"/><circle cx="851.8" cy="320.9" r="4.5"/><circle cx="838.2" cy="309.6" r="4.5"/><circle cx="597.4" cy="202.7" r="4.5"/><circle cx="794.2" cy="258.1" r="4.5"/><circle cx="698.5" cy="266.1" r="4.5"/><circle cx="809.6" cy="495.4" r="4.5"/><circle cx="668.8" cy="200.0" r="4.5"/><circle cx="816.5" cy="327.2" r="4.5"/><circle cx="848.6" cy="299.4" r="4.5"/><circle cx="754.7" cy="521.9" r="4.5"/><circle cx="438.0" cy="519.0" r="4.5"/><circle cx="797.9" cy="490.1" r="4.5"/><circle cx="844.3" cy="507.7" r="4.5"/><circle cx="420.0" cy="498.8" r="4.5"/><circle cx="772.2" cy="503.5" r="4.5"/><circle cx="745.5" cy="344.6" r="4.5"/><circle cx="771.8" cy="408.4" r="4.5"/><circle cx="823.1" cy="213.9" r="4.5"/><circle cx="652.7" cy="228.9" r="4.5"/><circle cx="743.5" cy="512.9" r="4.5"/><circle cx="808.9" cy="307.6" r="4.5"/><circle cx="852.8" cy="488.2" r="4.5"/><circle cx="830.9" cy="206.2" r="4.5"/><circle cx="824.6" cy="241.0" r="4.5"/><circle cx="681.5" cy="251.0" r="4.5"/><circle cx="786.0" cy="214.3" r="4.5"/><circle cx="740.6" cy="278.0" r="4.5"/><circle cx="625.3" cy="171.9" r="4.5"/><circle cx="808.0" cy="522.7" r="4.5"/><circle cx="793.5" cy="530.3" r="4.5"/><circle cx="737.4" cy="204.5" r="4.5"/><circle cx="730.3" cy="524.7" r="4.5"/><circle cx="490.9" cy="509.3" r="4.5"/><circle cx="681.8" cy="245.8" r="4.5"/><circle cx="722.9" cy="508.0" r="4.5"/><circle cx="743.4" cy="342.3" r="4.5"/><circle cx="853.0" cy="248.3" r="4.5"/><circle cx="764.4" cy="251.1" r="4.5"/><circle cx="828.9" cy="481.2" r="4.5"/><circle cx="855.6" cy="224.1" r="4.5"/><circle cx="862.5" cy="234.9" r="4.5"/><circle cx="837.4" cy="247.9" r="4.5"/><circle cx="656.3" cy="212.6" r="4.5"/><circle cx="797.8" cy="182.3" r="4.5"/><circle cx="785.6" cy="516.3" r="4.5"/><circle cx="798.8" cy="374.0" r="4.5"/><circle cx="659.3" cy="206.6" r="4.5"/><circle cx="859.7" cy="260.9" r="4.5"/><circle cx="622.6" cy="202.8" r="4.5"/><circle cx="495.1" cy="512.7" r="4.5"/><circle cx="487.9" cy="512.3" r="4.5"/><circle cx="746.3" cy="247.2" r="4.5"/><circle cx="347.5" cy="631.2" r="4.5"/><circle cx="480.5" cy="542.3" r="4.5"/><circle cx="808.6" cy="202.9" r="4.5"/><circle cx="786.5" cy="422.0" r="4.5"/><circle cx="782.2" cy="481.3" r="4.5"/><circle cx="816.6" cy="383.4" r="4.5"/><circle cx="670.9" cy="256.7" r="4.5"/><circle cx="836.1" cy="490.3" r="4.5"/><circle cx="815.5" cy="263.8" r="4.5"/><circle cx="851.6" cy="272.6" r="4.5"/><circle cx="885.8" cy="398.9" r="4.5"/><circle cx="731.8" cy="339.4" r="4.5"/><circle cx="883.6" cy="295.9" r="4.5"/><circle cx="833.5" cy="518.9" r="4.5"/><circle cx="877.9" cy="313.9" r="4.5"/><circle cx="783.1" cy="323.2" r="4.5"/><circle cx="740.2" cy="299.8" r="4.5"/><circle cx="858.5" cy="324.6" r="4.5"/><circle cx="832.0" cy="214.8" r="4.5"/><circle cx="853.6" cy="535.3" r="4.5"/><circle cx="739.4" cy="484.9" r="4.5"/><circle cx="796.0" cy="178.5" r="4.5"/><circle cx="774.4" cy="245.4" r="4.5"/><circle cx="885.6" cy="403.4" r="4.5"/><circle cx="786.2" cy="523.3" r="4.5"/><circle cx="797.3" cy="193.5" r="4.5"/><circle cx="642.0" cy="170.8" r="4.5"/><circle cx="741.0" cy="361.4" r="4.5"/><circle cx="642.7" cy="198.1" r="4.5"/><circle cx="614.3" cy="174.2" r="4.5"/><circle cx="865.2" cy="516.1" r="4.5"/><circle cx="891.2" cy="324.4" r="4.5"/><circle cx="685.3" cy="214.9" r="4.5"/><circle cx="471.9" cy="526.4" r="4.5"/><circle cx="603.2" cy="229.0" r="4.5"/><circle cx="797.3" cy="505.4" r="4.5"/><circle cx="818.2" cy="310.1" r="4.5"/><circle cx="831.8" cy="505.3" r="4.5"/><circle cx="768.0" cy="344.9" r="4.5"/><circle cx="637.8" cy="141.5" r="4.5"/><circle cx="691.4" cy="237.3" r="4.5"/><circle cx="663.0" cy="163.0" r="4.5"/><circle cx="844.4" cy="321.2" r="4.5"/><circle cx="872.9" cy="394.8" r="4.5"/><circle cx="840.8" cy="252.1" r="4.5"/><circle cx="764.2" cy="488.2" r="4.5"/><circle cx="787.7" cy="480.5" r="4.5"/><circle cx="848.4" cy="277.1" r="4.5"/><circle cx="743.5" cy="217.8" r="4.5"/><circle cx="763.2" cy="354.9" r="4.5"/><circle cx="858.9" cy="301.7" r="4.5"/><circle cx="663.0" cy="145.6" r="4.5"/><circle cx="638.2" cy="209.6" r="4.5"/><circle cx="740.9" cy="487.6" r="4.5"/><circle cx="765.1" cy="393.3" r="4.5"/><circle cx="729.1" cy="302.7" r="4.5"/><circle cx="751.0" cy="519.9" r="4.5"/><circle cx="750.1" cy="274.2" r="4.5"/><circle cx="776.0" cy="536.5" r="4.5"/><circle cx="612.3" cy="222.8" r="4.5"/><circle cx="815.6" cy="355.0" r="4.5"/><circle cx="638.2" cy="242.8" r="4.5"/><circle cx="806.9" cy="546.1" r="4.5"/><circle cx="767.0" cy="480.2" r="4.5"/><circle cx="749.8" cy="218.3" r="4.5"/><circle cx="624.8" cy="244.0" r="4.5"/><circle cx="782.7" cy="426.2" r="4.5"/><circle cx="735.0" cy="462.8" r="4.5"/><circle cx="777.9" cy="288.5" r="4.5"/><circle cx="854.9" cy="494.0" r="4.5"/><circle cx="603.4" cy="170.9" r="4.5"/><circle cx="445.2" cy="523.2" r="4.5"/><circle cx="725.6" cy="300.2" r="4.5"/><circle cx="335.0" cy="630.0" r="4.5"/><circle cx="818.0" cy="315.8" r="4.5"/><circle cx="771.2" cy="358.9" r="4.5"/><circle cx="511.0" cy="513.0" r="4.5"/><circle cx="861.9" cy="531.2" r="4.5"/><circle cx="796.1" cy="390.2" r="4.5"/><circle cx="731.1" cy="271.7" r="4.5"/><circle cx="716.6" cy="503.5" r="4.5"/><circle cx="749.9" cy="488.9" r="4.5"/><circle cx="460.7" cy="506.2" r="4.5"/><circle cx="791.2" cy="177.2" r="4.5"/><circle cx="733.7" cy="282.2" r="4.5"/><circle cx="746.5" cy="483.9" r="4.5"/><circle cx="750.4" cy="253.7" r="4.5"/><circle cx="630.5" cy="216.0" r="4.5"/><circle cx="645.0" cy="154.1" r="4.5"/><circle cx="815.0" cy="465.6" r="4.5"/><circle cx="762.2" cy="500.3" r="4.5"/><circle cx="753.9" cy="225.8" r="4.5"/><circle cx="802.9" cy="321.9" r="4.5"/><circle cx="878.7" cy="310.8" r="4.5"/><circle cx="458.0" cy="513.2" r="4.5"/><circle cx="611.0" cy="169.2" r="4.5"/><circle cx="661.8" cy="271.4" r="4.5"/><circle cx="718.2" cy="248.8" r="4.5"/><circle cx="788.2" cy="538.6" r="4.5"/><circle cx="755.2" cy="283.3" r="4.5"/><circle cx="887.3" cy="317.8" r="4.5"/><circle cx="749.6" cy="533.6" r="4.5"/><circle cx="456.5" cy="521.3" r="4.5"/><circle cx="657.2" cy="188.2" r="4.5"/><circle cx="592.4" cy="210.7" r="4.5"/><circle cx="325.0" cy="636.2" r="4.5"/><circle cx="737.3" cy="356.4" r="4.5"/><circle cx="777.9" cy="505.3" r="4.5"/><circle cx="689.2" cy="271.1" r="4.5"/><circle cx="609.2" cy="192.4" r="4.5"/><circle cx="449.6" cy="517.6" r="4.5"/><circle cx="778.7" cy="276.5" r="4.5"/><circle cx="777.5" cy="478.3" r="4.5"/><circle cx="844.0" cy="493.6" r="4.5"/><circle cx="802.5" cy="432.5" r="4.5"/><circle cx="626.9" cy="190.3" r="4.5"/><circle cx="805.5" cy="384.3" r="4.5"/><circle cx="712.6" cy="491.0" r="4.5"/></g><g fill="#5784db"><circle cx="268.1" cy="377.6" r="4.5"/><circle cx="333.4" cy="453.1" r="4.5"/><circle cx="278.8" cy="297.2" r="4.5"/><circle cx="277.1" cy="423.3" r="4.5"/><circle cx="235.1" cy="328.4" r="4.5"/><circle cx="238.5" cy="382.8" r="4.5"/><circle cx="228.4" cy="384.3" r="4.5"/><circle cx="285.5" cy="302.6" r="4.5"/><circle cx="262.6" cy="316.9" r="4.5"/><circle cx="296.9" cy="366.0" r="4.5"/><circle cx="339.3" cy="413.3" r="4.5"/><circle cx="330.4" cy="426.2" r="4.5"/><circle cx="252.1" cy="386.2" r="4.5"/><circle cx="219.8" cy="384.0" r="4.5"/><circle cx="328.9" cy="391.0" r="4.5"/><circle cx="253.5" cy="369.6" r="4.5"/><circle cx="314.2" cy="345.6" r="4.5"/><circle cx="253.0" cy="364.4" r="4.5"/><circle cx="298.7" cy="436.0" r="4.5"/><circle cx="230.8" cy="318.0" r="4.5"/><circle cx="255.6" cy="386.5" r="4.5"/><circle cx="303.2" cy="347.2" r="4.5"/><circle cx="287.9" cy="431.0" r="4.5"/><circle cx="242.0" cy="342.8" r="4.5"/><circle cx="299.4" cy="317.3" r="4.5"/><circle cx="304.8" cy="343.2" r="4.5"/><circle cx="234.0" cy="351.6" r="4.5"/><circle cx="323.6" cy="416.8" r="4.5"/><circle cx="297.6" cy="311.3" r="4.5"/><circle cx="239.2" cy="392.7" r="4.5"/><circle cx="215.1" cy="341.4" r="4.5"/><circle cx="256.2" cy="357.1" r="4.5"/><circle cx="223.5" cy="373.4" r="4.5"/><circle cx="202.4" cy="311.4" r="4.5"/><circle cx="327.5" cy="410.7" r="4.5"/><circle cx="218.0" cy="303.6" r="4.5"/><circle cx="299.6" cy="330.7" r="4.5"/><circle cx="286.2" cy="350.3" r="4.5"/><circle cx="252.9" cy="315.7" r="4.5"/><circle cx="301.4" cy="344.5" r="4.5"/><circle cx="204.3" cy="377.9" r="4.5"/><circle cx="300.0" cy="379.4" r="4.5"/><circle cx="281.4" cy="314.6" r="4.5"/><circle cx="310.3" cy="441.6" r="4.5"/><circle cx="268.0" cy="405.5" r="4.5"/><circle cx="254.3" cy="336.3" r="4.5"/><circle cx="162.5" cy="393.8" r="4.5"/><circle cx="224.6" cy="333.6" r="4.5"/><circle cx="283.5" cy="371.6" r="4.5"/><circle cx="283.6" cy="322.7" r="4.5"/><circle cx="150.0" cy="390.0" r="4.5"/><circle cx="222.9" cy="314.2" r="4.5"/><circle cx="227.2" cy="336.4" r="4.5"/><circle cx="281.4" cy="424.0" r="4.5"/><circle cx="273.5" cy="338.1" r="4.5"/><circle cx="335.4" cy="430.7" r="4.5"/><circle cx="286.5" cy="385.2" r="4.5"/><circle cx="233.2" cy="371.2" r="4.5"/><circle cx="231.5" cy="329.3" r="4.5"/><circle cx="270.1" cy="395.7" r="4.5"/></g><g fill="#57db94"><circle cx="556.7" cy="299.3" r="4.5"/><circle cx="395.5" cy="701.0" r="4.5"/><circle cx="672.2" cy="326.5" r="4.5"/><circle cx="597.7" cy="584.5" r="4.5"/><circle cx="484.1" cy="249.2" r="4.5"/><circle cx="567.8" cy="581.0" r="4.5"/><circle cx="631.1" cy="629.3" r="4.5"/><circle cx="383.9" cy="325.9" r="4.5"/><circle cx="634.5" cy="408.5" r="4.5"/><circle cx="439.1" cy="346.9" r="4.5"/><circle cx="534.7" cy="573.9" r="4.5"/><circle cx="410.8" cy="623.8" r="4.5"/><circle cx="670.7" cy="413.6" r="4.5"/><circle cx="561.9" cy="663.4" r="4.5"/><circle cx="668.9" cy="470.0" r="4.5"/><circle cx="359.6" cy="301.4" r="4.5"/><circle cx="680.7" cy="454.0" r="4.5"/><circle cx="666.5" cy="418.1" r="4.5"/><circle cx="551.8" cy="658.3" r="4.5"/><circle cx="653.0" cy="421.5" r="4.5"/><circle cx="633.5" cy="664.4" r="4.5"/><circle cx="545.2" cy="581.9" r="4.5"/><circle cx="575.4" cy="686.5" r="4.5"/><circle cx="634.7" cy="460.3" r="4.5"/><circle cx="507.1" cy="385.7" r="4.5"/><circle cx="488.7" cy="410.5" r="4.5"/><circle cx="491.2" cy="399.0" r="4.5"/><circle cx="535.6" cy="307.9" r="4.5"/><circle cx="581.1" cy="481.6" r="4.5"/><circle cx="598.3" cy="598.3" r="4.5"/><circle cx="579.6" cy="606.0" r="4.5"/><circle cx="676.5" cy="449.9" r="4.5"/><circle cx="516.5" cy="335.2" r="4.5"/><circle cx="468.0" cy="629.2" r="4.5"/><circle cx="535.8" cy="404.9" r="4.5"/><circle cx="469.4" cy="376.4" r="4.5"/><circle cx="554.2" cy="465.5" r="4.5"/><circle cx="675.4" cy="431.7" r="4.5"/><circle cx="615.1" cy="411.4" r="4.5"/><circle cx="590.0" cy="285.5" r="4.5"/><circle cx="592.9" cy="365.0" r="4.5"/><circle cx="641.6" cy="475.0" r="4.5"/><circle cx="453.9" cy="325.4" r="4.5"/><circle cx="540.6" cy="357.8" r="4.5"/><circle cx="595.0" cy="335.7" r="4.5"/><circle cx="482.5" cy="630.0" r="4.5"/><circle cx="421.9" cy="153.3" r="4.5"/><circle cx="566.8" cy="419.7" r="4.5"/><circle cx="511.7" cy="256.5" r="4.5"/><circle cx="621.8" cy="350.0" r="4.5"/><circle cx="634.0" cy="324.9" r="4.5"/><circle cx="512.1" cy="357.1" r="4.5"/><circle cx="550.7" cy="643.9" r="4.5"/><circle cx="548.6" cy="392.5" r="4.5"/><circle cx="411.8" cy="159.1" r="4.5"/><circle cx="632.7" cy="362.0" r="4.5"/><circle cx="567.2" cy="621.6" r="4.5"/><circle cx="706.5" cy="161.5" r="4.5"/><circle cx="436.0" cy="338.8" r="4.5"/><circle cx="561.4" cy="682.1" r="4.5"/><circle cx="549.2" cy="601.4" r="4.5"/><circle cx="494.1" cy="335.1" r="4.5"/><circle cx="551.2" cy="310.2" r="4.5"/><circle cx="670.6" cy="376.2" r="4.5"/><circle cx="532.4" cy="677.5" r="4.5"/><circle cx="567.5" cy="377.8" r="4.5"/><circle cx="670.3" cy="378.7" r="4.5"/><circle cx="668.9" cy="433.3" r="4.5"/><circle cx="617.5" cy="350.6" r="4.5"/><circle cx="609.7" cy="456.3" r="4.5"/><circle cx="534.3" cy="320.4" r="4.5"/><circle cx="680.0" cy="592.5" r="4.5"/><circle cx="437.8" cy="642.0" r="4.5"/><circle cx="570.7" cy="560.8" r="4.5"/><circle cx="519.3" cy="367.6" r="4.5"/><circle cx="569.2" cy="473.7" r="4.5"/><circle cx="456.9" cy="315.3" r="4.5"/><circle cx="631.7" cy="677.2" r="4.5"/><circle cx="482.5" cy="423.4" r="4.5"/><circle cx="476.2" cy="613.8" r="4.5"/><circle cx="552.8" cy="363.0" r="4.5"/><circle cx="381.2" cy="382.4" r="4.5"/><circle cx="553.4" cy="579.3" r="4.5"/><circle cx="571.3" cy="304.1" r="4.5"/><circle cx="429.9" cy="309.6" r="4.5"/><circle cx="425.8" cy="656.9" r="4.5"/><circle cx="467.6" cy="361.4" r="4.5"/><circle cx="548.0" cy="685.5" r="4.5"/><circle cx="635.0" cy="557.5" r="4.5"/><circle cx="491.9" cy="245.9" r="4.5"/><circle cx="641.9" cy="482.5" r="4.5"/><circle cx="511.1" cy="309.1" r="4.5"/><circle cx="543.0" cy="444.9" r="4.5"/><circle cx="422.9" cy="624.3" r="4.5"/><circle cx="633.7" cy="354.5" r="4.5"/><circle cx="596.6" cy="573.4" r="4.5"/><circle cx="349.1" cy="362.7" r="4.5"/><circle cx="638.7" cy="372.0" r="4.5"/><circle cx="568.4" cy="358.7" r="4.5"/><circle cx="544.5" cy="680.0" r="4.5"/><circle cx="480.0" cy="621.2" r="4.5"/><circle cx="514.4" cy="436.4" r="4.5"/><circle cx="350.3" cy="296.3" r="4.5"/><circle cx="611.0" cy="388.0" r="4.5"/><circle cx="384.0" cy="374.3" r="4.5"/><circle cx="596.3" cy="318.3" r="4.5"/><circle cx="669.1" cy="664.2" r="4.5"/><circle cx="645.4" cy="370.3" r="4.5"/><circle cx="650.2" cy="612.1" r="4.5"/><circle cx="544.4" cy="305.2" r="4.5"/><circle cx="500.9" cy="427.9" r="4.5"/><circle cx="520.4" cy="615.6" r="4.5"/><circle cx="578.5" cy="622.4" r="4.5"/><circle cx="421.1" cy="164.3" r="4.5"/><circle cx="595.1" cy="305.8" r="4.5"/><circle cx="565.5" cy="326.8" r="4.5"/><circle cx="545.0" cy="460.1" r="4.5"/><circle cx="455.3" cy="361.7" r="4.5"/><circle cx="559.0" cy="474.4" r="4.5"/><circle cx="552.2" cy="622.7" r="4.5"/><circle cx="531.8" cy="417.3" r="4.5"/><circle cx="410.0" cy="390.0" r="4.5"/><circle cx="552.8" cy="672.3" r="4.5"/><circle cx="708.8" cy="419.3" r="4.5"/><circle cx="510.0" cy="649.5" r="4.5"/><circle cx="623.9" cy="649.3" r="4.5"/><circle cx="459.1" cy="375.6" r="4.5"/><circle cx="474.0" cy="344.2" r="4.5"/><circle cx="343.0" cy="308.9" r="4.5"/><circle cx="670.0" cy="365.7" r="4.5"/><circle cx="591.1" cy="331.2" r="4.5"/><circle cx="657.8" cy="643.8" r="4.5"/><circle cx="589.6" cy="326.8" r="4.5"/><circle cx="572.8" cy="346.5" r="4.5"/><circle cx="709.2" cy="406.9" r="4.5"/><circle cx="669.8" cy="668.3" r="4.5"/><circle cx="548.6" cy="317.3" r="4.5"/><circle cx="609.7" cy="392.8" r="4.5"/><circle cx="595.4" cy="312.9" r="4.5"/><circle cx="507.4" cy="374.7" r="4.5"/><circle cx="599.3" cy="661.8" r="4.5"/><circle cx="585.2" cy="305.1" r="4.5"/><circle cx="680.2" cy="433.9" r="4.5"/><circle cx="642.6" cy="453.1" r="4.5"/><circle cx="402.7" cy="624.9" r="4.5"/><circle cx="628.8" cy="652.7" r="4.5"/><circle cx="604.8" cy="595.6" r="4.5"/><circle cx="651.7" cy="628.4" r="4.5"/><circle cx="494.6" cy="282.0" r="4.5"/><circle cx="449.3" cy="401.4" r="4.5"/><circle cx="524.1" cy="427.8" r="4.5"/><circle cx="434.1" cy="651.0" r="4.5"/><circle cx="453.4" cy="388.5" r="4.5"/><circle cx="359.9" cy="349.5" r="4.5"/><circle cx="621.4" cy="438.7" r="4.5"/><circle cx="604.5" cy="475.5" r="4.5"/><circle cx="623.3" cy="573.9" r="4.5"/><circle cx="605.2" cy="420.3" r="4.5"/><circle cx="639.1" cy="462.0" r="4.5"/><circle cx="357.7" cy="329.2" r="4.5"/><circle cx="563.7" cy="466.4" r="4.5"/><circle cx="485.1" cy="436.3" r="4.5"/><circle cx="621.8" cy="380.0" r="4.5"/><circle cx="434.9" cy="647.6" r="4.5"/><circle cx="537.3" cy="351.7" r="4.5"/><circle cx="449.4" cy="631.3" r="4.5"/><circle cx="597.9" cy="684.3" r="4.5"/><circle cx="355.7" cy="286.9" r="4.5"/><circle cx="554.5" cy="493.1" r="4.5"/><circle cx="414.8" cy="153.6" r="4.5"/><circle cx="649.9" cy="493.8" r="4.5"/><circle cx="640.3" cy="326.1" r="4.5"/><circle cx="649.3" cy="430.3" r="4.5"/><circle cx="556.6" cy="354.4" r="4.5"/><circle cx="461.4" cy="330.9" r="4.5"/><circle cx="354.8" cy="345.4" r="4.5"/><circle cx="645.6" cy="409.9" r="4.5"/><circle cx="470.2" cy="659.6" r="4.5"/><circle cx="432.5" cy="311.0" r="4.5"/><circle cx="540.2" cy="383.9" r="4.5"/><circle cx="606.4" cy="609.3" r="4.5"/><circle cx="528.8" cy="278.7" r="4.5"/><circle cx="635.6" cy="681.8" r="4.5"/><circle cx="691.2" cy="600.0" r="4.5"/><circle cx="463.7" cy="351.1" r="4.5"/><circle cx="677.7" cy="377.1" r="4.5"/><circle cx="643.1" cy="688.0" r="4.5"/><circle cx="468.3" cy="379.7" r="4.5"/><circle cx="665.4" cy="475.7" r="4.5"/><circle cx="634.8" cy="467.2" r="4.5"/><circle cx="615.8" cy="644.6" r="4.5"/><circle cx="614.0" cy="360.9" r="4.5"/><circle cx="595.1" cy="590.1" r="4.5"/><circle cx="473.7" cy="359.0" r="4.5"/><circle cx="593.6" cy="559.7" r="4.5"/><circle cx="471.3" cy="329.8" r="4.5"/><circle cx="563.3" cy="360.7" r="4.5"/><circle cx="652.0" cy="389.5" r="4.5"/><circle cx="563.0" cy="491.3" r="4.5"/><circle cx="574.0" cy="643.4" r="4.5"/><circle cx="531.1" cy="427.9" r="4.5"/><circle cx="619.5" cy="617.6" r="4.5"/><circle cx="637.1" cy="693.5" r="4.5"/><circle cx="597.9" cy="675.7" r="4.5"/><circle cx="580.2" cy="651.6" r="4.5"/><circle cx="579.3" cy="340.9" r="4.5"/><circle cx="437.3" cy="168.2" r="4.5"/><circle cx="522.1" cy="310.7" r="4.5"/><circle cx="566.2" cy="657.3" r="4.5"/><circle cx="503.9" cy="435.2" r="4.5"/><circle cx="484.0" cy="321.7" r="4.5"/><circle cx="571.1" cy="691.0" r="4.5"/><circle cx="667.4" cy="381.7" r="4.5"/><circle cx="453.8" cy="649.9" r="4.5"/><circle cx="539.1" cy="657.2" r="4.5"/><circle cx="666.2" cy="585.0" r="4.5"/><circle cx="582.3" cy="441.7" r="4.5"/><circle cx="524.9" cy="575.6" r="4.5"/><circle cx="496.8" cy="391.5" r="4.5"/><circle cx="519.1" cy="378.2" r="4.5"/><circle cx="559.4" cy="640.8" r="4.5"/><circle cx="640.1" cy="610.7" r="4.5"/><circle cx="693.1" cy="359.9" r="4.5"/><circle cx="483.3" cy="289.1" r="4.5"/><circle cx="591.2" cy="489.5" r="4.5"/><circle cx="660.5" cy="428.2" r="4.5"/><circle cx="595.1" cy="622.8" r="4.5"/><circle cx="581.0" cy="470.0" r="4.5"/><circle cx="692.5" cy="374.3" r="4.5"/><circle cx="546.4" cy="628.8" r="4.5"/><circle cx="631.6" cy="596.1" r="4.5"/><circle cx="445.6" cy="338.0" r="4.5"/><circle cx="626.8" cy="596.2" r="4.5"/><circle cx="568.1" cy="695.1" r="4.5"/><circle cx="629.4" cy="626.5" r="4.5"/><circle cx="547.2" cy="691.5" r="4.5"/><circle cx="544.3" cy="490.2" r="4.5"/><circle cx="634.9" cy="500.5" r="4.5"/><circle cx="662.8" cy="341.8" r="4.5"/><circle cx="698.2" cy="404.1" r="4.5"/><circle cx="581.2" cy="314.1" r="4.5"/><circle cx="585.3" cy="643.2" r="4.5"/><circle cx="516.7" cy="381.5" r="4.5"/><circle cx="628.2" cy="501.4" r="4.5"/><circle cx="404.8" cy="138.4" r="4.5"/><circle cx="619.8" cy="626.4" r="4.5"/><circle cx="676.1" cy="462.8" r="4.5"/><circle cx="634.9" cy="358.0" r="4.5"/><circle cx="532.6" cy="398.5" r="4.5"/><circle cx="611.5" cy="319.0" r="4.5"/><circle cx="670.7" cy="368.7" r="4.5"/><circle cx="577.6" cy="373.5" r="4.5"/><circle cx="430.0" cy="165.1" r="4.5"/><circle cx="545.0" cy="400.2" r="4.5"/><circle cx="635.8" cy="637.5" r="4.5"/><circle cx="459.1" cy="296.2" r="4.5"/><circle cx="649.9" cy="636.6" r="4.5"/><circle cx="533.9" cy="300.4" r="4.5"/><circle cx="537.7" cy="584.7" r="4.5"/><circle cx="661.7" cy="477.7" r="4.5"/><circle cx="549.4" cy="682.0" r="4.5"/><circle cx="450.0" cy="313.4" r="4.5"/><circle cx="543.5" cy="631.9" r="4.5"/><circle cx="613.4" cy="384.5" r="4.5"/><circle cx="539.5" cy="681.7" r="4.5"/><circle cx="541.3" cy="658.5" r="4.5"/><circle cx="468.0" cy="369.7" r="4.5"/><circle cx="624.7" cy="645.9" r="4.5"/><circle cx="629.1" cy="674.8" r="4.5"/><circle cx="506.0" cy="260.3" r="4.5"/><circle cx="583.9" cy="451.0" r="4.5"/><circle cx="610.4" cy="633.5" r="4.5"/><circle cx="445.1" cy="386.1" r="4.5"/><circle cx="587.9" cy="314.4" r="4.5"/><circle cx="657.7" cy="471.0" r="4.5"/><circle cx="604.2" cy="404.5" r="4.5"/><circle cx="629.6" cy="443.8" r="4.5"/><circle cx="441.1" cy="631.5" r="4.5"/><circle cx="540.4" cy="633.0" r="4.5"/><circle cx="629.1" cy="610.4" r="4.5"/><circle cx="601.2" cy="304.7" r="4.5"/><circle cx="596.5" cy="581.0" r="4.5"/><circle cx="534.3" cy="655.8" r="4.5"/><circle cx="534.7" cy="312.4" r="4.5"/><circle cx="638.0" cy="640.5" r="4.5"/><circle cx="647.9" cy="613.6" r="4.5"/><circle cx="657.4" cy="331.1" r="4.5"/><circle cx="630.7" cy="380.4" r="4.5"/><circle cx="516.4" cy="575.9" r="4.5"/><circle cx="494.7" cy="310.7" r="4.5"/><circle cx="386.9" cy="301.3" r="4.5"/><circle cx="458.9" cy="302.3" r="4.5"/><circle cx="578.0" cy="268.0" r="4.5"/><circle cx="544.6" cy="319.2" r="4.5"/><circle cx="510.2" cy="400.0" r="4.5"/><circle cx="503.5" cy="315.5" r="4.5"/><circle cx="623.8" cy="558.8" r="4.5"/><circle cx="354.8" cy="352.4" r="4.5"/><circle cx="600.8" cy="578.7" r="4.5"/><circle cx="580.2" cy="464.0" r="4.5"/><circle cx="643.8" cy="488.4" r="4.5"/><circle cx="579.5" cy="427.8" r="4.5"/><circle cx="614.3" cy="615.2" r="4.5"/><circle cx="483.9" cy="328.2" r="4.5"/><circle cx="435.7" cy="140.4" r="4.5"/><circle cx="431.5" cy="676.1" r="4.5"/><circle cx="665.2" cy="431.5" r="4.5"/><circle cx="412.3" cy="646.7" r="4.5"/><circle cx="509.1" cy="583.0" r="4.5"/><circle cx="470.2" cy="362.7" r="4.5"/><circle cx="576.8" cy="575.6" r="4.5"/><circle cx="475.2" cy="378.4" r="4.5"/><circle cx="525.1" cy="565.2" r="4.5"/><circle cx="507.3" cy="248.1" r="4.5"/><circle cx="603.1" cy="317.4" r="4.5"/><circle cx="485.8" cy="308.9" r="4.5"/><circle cx="681.4" cy="355.2" r="4.5"/><circle cx="643.2" cy="443.9" r="4.5"/><circle cx="691.3" cy="414.8" r="4.5"/><circle cx="626.5" cy="456.3" r="4.5"/><circle cx="643.2" cy="617.3" r="4.5"/><circle cx="601.6" cy="635.2" r="4.5"/><circle cx="703.4" cy="400.0" r="4.5"/><circle cx="577.6" cy="326.0" r="4.5"/><circle cx="580.4" cy="367.9" r="4.5"/><circle cx="449.2" cy="385.9" r="4.5"/><circle cx="421.2" cy="345.0" r="4.5"/><circle cx="401.1" cy="149.3" r="4.5"/><circle cx="616.9" cy="377.4" r="4.5"/><circle cx="446.7" cy="356.4" r="4.5"/><circle cx="564.5" cy="664.2" r="4.5"/><circle cx="566.5" cy="399.2" r="4.5"/><circle cx="675.7" cy="458.3" r="4.5"/><circle cx="591.8" cy="655.1" r="4.5"/><circle cx="603.5" cy="608.7" r="4.5"/><circle cx="648.8" cy="673.2" r="4.5"/><circle cx="559.2" cy="397.2" r="4.5"/><circle cx="525.1" cy="354.4" r="4.5"/><circle cx="359.1" cy="298.6" r="4.5"/><circle cx="439.8" cy="142.9" r="4.5"/><circle cx="532.4" cy="347.7" r="4.5"/><circle cx="549.5" cy="623.8" r="4.5"/><circle cx="430.5" cy="141.4" r="4.5"/><circle cx="569.7" cy="492.9" r="4.5"/><circle cx="504.2" cy="408.9" r="4.5"/><circle cx="663.2" cy="425.0" r="4.5"/><circle cx="679.5" cy="611.2" r="4.5"/><circle cx="518.0" cy="287.6" r="4.5"/><circle cx="597.6" cy="311.4" r="4.5"/><circle cx="626.8" cy="361.8" r="4.5"/><circle cx="573.1" cy="445.6" r="4.5"/><circle cx="363.0" cy="359.7" r="4.5"/><circle cx="554.0" cy="341.2" r="4.5"/><circle cx="544.3" cy="477.1" r="4.5"/><circle cx="498.3" cy="283.6" r="4.5"/><circle cx="528.4" cy="577.5" r="4.5"/><circle cx="664.8" cy="454.2" r="4.5"/><circle cx="625.9" cy="694.2" r="4.5"/><circle cx="668.8" cy="618.8" r="4.5"/><circle cx="597.0" cy="338.5" r="4.5"/><circle cx="624.6" cy="487.6" r="4.5"/><circle cx="675.7" cy="374.9" r="4.5"/><circle cx="384.5" cy="332.0" r="4.5"/><circle cx="675.9" cy="347.3" r="4.5"/><circle cx="537.0" cy="315.7" r="4.5"/><circle cx="541.8" cy="354.5" r="4.5"/><circle cx="668.5" cy="406.2" r="4.5"/><circle cx="400.4" cy="616.4" r="4.5"/><circle cx="562.1" cy="434.0" r="4.5"/><circle cx="562.5" cy="600.7" r="4.5"/><circle cx="666.6" cy="369.3" r="4.5"/><circle cx="494.7" cy="356.4" r="4.5"/><circle cx="555.3" cy="607.6" r="4.5"/><circle cx="614.6" cy="617.8" r="4.5"/><circle cx="481.2" cy="630.0" r="4.5"/><circle cx="611.7" cy="328.6" r="4.5"/></g><g fill="#c957db"><circle cx="632.0" cy="545.0" r="4.5"/></g><g fill="#db5f57"><circle cx="301.3" cy="531.1" r="4.5"/><circle cx="277.5" cy="488.7" r="4.5"/><circle cx="270.9" cy="481.1" r="4.5"/><circle cx="288.6" cy="570.1" r="4.5"/><circle cx="242.4" cy="553.3" r="4.5"/><circle cx="300.1" cy="576.4" r="4.5"/><circle cx="324.7" cy="568.5" r="4.5"/><circle cx="392.9" cy="736.5" r="4.5"/><circle cx="312.6" cy="515.3" r="4.5"/><circle cx="334.1" cy="561.1" r="4.5"/><circle cx="265.9" cy="571.2" r="4.5"/><circle cx="235.7" cy="514.6" r="4.5"/><circle cx="309.2" cy="565.1" r="4.5"/><circle cx="393.9" cy="722.5" r="4.5"/><circle cx="218.6" cy="496.7" r="4.5"/><circle cx="257.6" cy="551.5" r="4.5"/><circle cx="254.1" cy="492.2" r="4.5"/><circle cx="313.1" cy="524.0" r="4.5"/><circle cx="381.0" cy="726.0" r="4.5"/><circle cx="236.5" cy="454.4" r="4.5"/><circle cx="288.3" cy="511.8" r="4.5"/><circle cx="306.2" cy="571.6" r="4.5"/><circle cx="293.2" cy="566.1" r="4.5"/><circle cx="305.5" cy="532.2" r="4.5"/><circle cx="249.5" cy="503.4" r="4.5"/><circle cx="262.2" cy="543.9" r="4.5"/><circle cx="392.2" cy="741.9" r="4.5"/><circle cx="218.4" cy="471.4" r="4.5"/><circle cx="216.4" cy="518.7" r="4.5"/><circle cx="298.6" cy="546.0" r="4.5"/><circle cx="250.3" cy="515.3" r="4.5"/><circle cx="422.9" cy="729.0" r="4.5"/><circle cx="290.7" cy="535.2" r="4.5"/><circle cx="257.0" cy="460.1" r="4.5"/><circle cx="269.9" cy="485.5" r="4.5"/><circle cx="236.0" cy="527.1" r="4.5"/><circle cx="207.3" cy="462.8" r="4.5"/><circle cx="289.7" cy="526.6" r="4.5"/><circle cx="262.6" cy="469.0" r="4.5"/><circle cx="288.6" cy="534.0" r="4.5"/><circle cx="404.4" cy="736.2" r="4.5"/><circle cx="319.7" cy="516.0" r="4.5"/><circle cx="382.7" cy="730.1" r="4.5"/><circle cx="307.3" cy="513.2" r="4.5"/><circle cx="220.8" cy="454.0" r="4.5"/><circle cx="233.6" cy="452.6" r="4.5"/><circle cx="256.6" cy="465.2" r="4.5"/><circle cx="283.5" cy="573.9" r="4.5"/><circle cx="236.9" cy="460.3" r="4.5"/><circle cx="301.5" cy="511.9" r="4.5"/><circle cx="266.5" cy="475.7" r="4.5"/><circle cx="372.4" cy="719.5" r="4.5"/><circle cx="315.9" cy="545.2" r="4.5"/><circle cx="228.9" cy="467.3" r="4.5"/><circle cx="263.5" cy="512.3" r="4.5"/><circle cx="205.5" cy="490.4" r="4.5"/><circle cx="313.4" cy="490.1" r="4.5"/><circle cx="305.9" cy="496.3" r="4.5"/><circle cx="229.9" cy="543.8" r="4.5"/><circle cx="220.0" cy="490.6" r="4.5"/><circle cx="229.8" cy="454.2" r="4.5"/><circle cx="291.0" cy="560.1" r="4.5"/><circle cx="267.0" cy="518.5" r="4.5"/><circle cx="266.8" cy="488.0" r="4.5"/><circle cx="220.2" cy="485.6" r="4.5"/><circle cx="204.4" cy="487.3" r="4.5"/><circle cx="256.4" cy="475.8" r="4.5"/></g><g fill="#b9db57"><circle cx="750.6" cy="360.0" r="4.5"/><circle cx="605.7" cy="229.8" r="4.5"/><circle cx="793.6" cy="315.4" r="4.5"/><circle cx="840.8" cy="294.4" r="4.5"/><circle cx="756.0" cy="197.0" r="4.5"/><circle cx="771.9" cy="500.9" r="4.5"/><circle cx="759.7" cy="339.8" r="4.5"/><circle cx="727.1" cy="463.2" r="4.5"/><circle cx="844.1" cy="235.6" r="4.5"/><circle cx="644.8" cy="192.0" r="4.5"/><circle cx="317.5" cy="365.0" r="4.5"/><circle cx="868.8" cy="326.2" r="4.5"/><circle cx="841.9" cy="283.2" r="4.5"/><circle cx="832.5" cy="352.6" r="4.5"/><circle cx="508.8" cy="505.0" r="4.5"/><circle cx="851.7" cy="307.8" r="4.5"/><circle cx="735.5" cy="337.5" r="4.5"/><circle cx="611.6" cy="165.4" r="4.5"/><circle cx="455.0" cy="514.9" r="4.5"/><circle cx="809.6" cy="302.0" r="4.5"/><circle cx="844.7" cy="329.0" r="4.5"/><circle cx="881.3" cy="409.6" r="4.5"/><circle cx="817.1" cy="458.7" r="4.5"/><circle cx="640.6" cy="185.5" r="4.5"/><circle cx="650.7" cy="226.4" r="4.5"/><circle cx="839.0" cy="516.9" r="4.5"/><circle cx="808.3" cy="346.5" r="4.5"/><circle cx="808.8" cy="526.5" r="4.5"/><circle cx="736.0" cy="482.2" r="4.5"/><circle cx="720.8" cy="285.5" r="4.5"/><circle cx="658.1" cy="232.3" r="4.5"/><circle cx="657.3" cy="190.9" r="4.5"/><circle cx="643.2" cy="232.4" r="4.5"/><circle cx="799.6" cy="535.8" r="4.5"/><circle cx="756.4" cy="294.3" r="4.5"/><circle cx="804.6" cy="401.8" r="4.5"/><circle cx="325.8" cy="528.8" r="4.5"/><circle cx="887.4" cy="315.2" r="4.5"/><circle cx="782.9" cy="354.2" r="4.5"/><circle cx="778.7" cy="368.7" r="4.5"/><circle cx="861.3" cy="306.0" r="4.5"/><circle cx="813.9" cy="203.6" r="4.5"/><circle cx="776.6" cy="273.7" r="4.5"/><circle cx="664.2" cy="178.1" r="4.5"/><circle cx="809.4" cy="313.1" r="4.5"/><circle cx="640.2" cy="182.9" r="4.5"/><circle cx="607.2" cy="232.6" r="4.5"/><circle cx="765.7" cy="267.4" r="4.5"/><circle cx="838.8" cy="499.2" r="4.5"/><circle cx="805.2" cy="499.2" r="4.5"/><circle cx="825.3" cy="252.9" r="4.5"/><circle cx="798.9" cy="179.8" r="4.5"/><circle cx="757.8" cy="308.1" r="4.5"/><circle cx="840.3" cy="277.8" r="4.5"/><circle cx="773.2" cy="541.9" r="4.5"/><circle cx="852.5" cy="383.8" r="4.5"/><circle cx="754.7" cy="485.8" r="4.5"/><circle cx="781.1" cy="560.7" r="4.5"/><circle cx="812.4" cy="503.2" r="4.5"/><circle cx="869.8" cy="345.0" r="4.5"/><circle cx="428.8" cy="497.5" r="4.5"/><circle cx="764.9" cy="368.0" r="4.5"/><circle cx="869.1" cy="296.0" r="4.5"/><circle cx="805.8" cy="245.6" r="4.5"/><circle cx="480.2" cy="514.7" r="4.5"/><circle cx="722.3" cy="331.1" r="4.5"/><circle cx="848.5" cy="256.1" r="4.5"/><circle cx="786.5" cy="561.6" r="4.5"/><circle cx="801.6" cy="360.1" r="4.5"/><circle cx="840.9" cy="322.2" r="4.5"/><circle cx="805.7" cy="284.7" r="4.5"/><circle cx="790.0" cy="524.1" r="4.5"/><circle cx="764.8" cy="302.2" r="4.5"/><circle cx="797.4" cy="335.0" r="4.5"/><circle cx="759.6" cy="516.9" r="4.5"/><circle cx="708.8" cy="324.2" r="4.5"/><circle cx="843.4" cy="326.8" r="4.5"/><circle cx="744.5" cy="273.8" r="4.5"/><circle cx="772.0" cy="291.3" r="4.5"/><circle cx="823.6" cy="248.4" r="4.5"/><circle cx="796.1" cy="533.4" r="4.5"/><circle cx="678.0" cy="250.3" r="4.5"/><circle cx="779.8" cy="334.1" r="4.5"/><circle cx="631.0" cy="202.4" r="4.5"/><circle cx="478.6" cy="501.8" r="4.5"/><circle cx="482.3" cy="503.8" r="4.5"/><circle cx="849.6" cy="503.9" r="4.5"/><circle cx="749.2" cy="271.6" r="4.5"/><circle cx="787.4" cy="399.7" r="4.5"/><circle cx="635.6" cy="165.9" r="4.5"/><circle cx="851.1" cy="317.1" r="4.5"/><circle cx="739.8" cy="320.1" r="4.5"/><circle cx="816.6" cy="541.0" r="4.5"/><circle cx="630.3" cy="257.4" r="4.5"/><circle cx="679.3" cy="217.4" r="4.5"/><circle cx="731.6" cy="347.3" r="4.5"/><circle cx="843.7" cy="489.0" r="4.5"/><circle cx="828.7" cy="473.5" r="4.5"/><circle cx="796.1" cy="385.8" r="4.5"/><circle cx="773.5" cy="269.6" r="4.5"/><circle cx="745.4" cy="241.6" r="4.5"/><circle cx="751.3" cy="203.3" r="4.5"/><circle cx="556.8" cy="198.8" r="4.5"/><circle cx="732.1" cy="292.9" r="4.5"/><circle cx="646.7" cy="172.4" r="4.5"/><circle cx="811.2" cy="414.4" r="4.5"/><circle cx="767.6" cy="496.0" r="4.5"/><circle cx="620.1" cy="172.6" r="4.5"/><circle cx="802.7" cy="337.4" r="4.5"/><circle cx="631.1" cy="176.5" r="4.5"/><circle cx="791.7" cy="193.7" r="4.5"/><circle cx="831.6" cy="283.5" r="4.5"/><circle cx="891.0" cy="310.9" r="4.5"/><circle cx="771.3" cy="287.4" r="4.5"/><circle cx="746.5" cy="528.4" r="4.5"/><circle cx="851.5" cy="225.4" r="4.5"/><circle cx="791.8" cy="363.3" r="4.5"/><circle cx="667.6" cy="155.7" r="4.5"/><circle cx="677.1" cy="186.1" r="4.5"/><circle cx="820.6" cy="210.9" r="4.5"/><circle cx="791.5" cy="472.3" r="4.5"/><circle cx="550.0" cy="193.0" r="4.5"/><circle cx="753.9" cy="352.8" r="4.5"/><circle cx="807.5" cy="418.3" r="4.5"/><circle cx="751.5" cy="505.2" r="4.5"/><circle cx="766.2" cy="319.8" r="4.5"/><circle cx="839.1" cy="297.0" r="4.5"/><circle cx="806.8" cy="455.5" r="4.5"/><circle cx="792.0" cy="510.2" r="4.5"/><circle cx="729.0" cy="532.5" r="4.5"/><circle cx="622.3" cy="224.5" r="4.5"/><circle cx="793.3" cy="274.8" r="4.5"/><circle cx="829.4" cy="242.4" r="4.5"/><circle cx="786.9" cy="390.2" r="4.5"/><circle cx="731.7" cy="324.7" r="4.5"/><circle cx="820.4" cy="202.5" r="4.5"/><circle cx="813.3" cy="384.9" r="4.5"/><circle cx="672.1" cy="243.6" r="4.5"/><circle cx="795.7" cy="268.9" r="4.5"/><circle cx="689.9" cy="241.2" r="4.5"/><circle cx="846.3" cy="536.8" r="4.5"/><circle cx="803.7" cy="482.3" r="4.5"/><circle cx="798.5" cy="247.1" r="4.5"/><circle cx="473.7" cy="516.4" r="4.5"/><circle cx="871.6" cy="293.5" r="4.5"/><circle cx="846.8" cy="334.8" r="4.5"/><circle cx="723.8" cy="286.9" r="4.5"/><circle cx="809.9" cy="322.1" r="4.5"/><circle cx="621.1" cy="221.1" r="4.5"/><circle cx="821.4" cy="317.5" r="4.5"/><circle cx="842.7" cy="274.2" r="4.5"/><circle cx="708.8" cy="323.8" r="4.5"/><circle cx="815.3" cy="213.3" r="4.5"/><circle cx="779.2" cy="309.9" r="4.5"/><circle cx="881.4" cy="337.1" r="4.5"/><circle cx="759.2" cy="236.2" r="4.5"/><circle cx="779.6" cy="533.5" r="4.5"/><circle cx="726.2" cy="252.0" r="4.5"/><circle cx="733.5" cy="349.8" r="4.5"/><circle cx="802.2" cy="554.4" r="4.5"/><circle cx="837.5" cy="233.1" r="4.5"/><circle cx="875.5" cy="345.5" r="4.5"/><circle cx="837.4" cy="348.3" r="4.5"/><circle cx="807.3" cy="559.8" r="4.5"/><circle cx="833.4" cy="245.6" r="4.5"/><circle cx="598.9" cy="193.3" r="4.5"/><circle cx="777.2" cy="534.2" r="4.5"/><circle cx="781.2" cy="222.6" r="4.5"/><circle cx="620.6" cy="166.3" r="4.5"/><circle cx="442.1" cy="518.7" r="4.5"/><circle cx="735.1" cy="263.0" r="4.5"/><circle cx="795.6" cy="378.9" r="4.5"/><circle cx="785.2" cy="383.6" r="4.5"/><circle cx="805.8" cy="213.3" r="4.5"/><circle cx="744.2" cy="202.9" r="4.5"/><circle cx="790.0" cy="429.9" r="4.5"/><circle cx="811.1" cy="227.2" r="4.5"/><circle cx="827.3" cy="256.4" r="4.5"/><circle cx="766.5" cy="484.7" r="4.5"/><circle cx="448.9" cy="508.4" r="4.5"/><circle cx="717.4" cy="470.0" r="4.5"/><circle cx="768.1" cy="219.7" r="4.5"/><circle cx="794.1" cy="518.1" r="4.5"/><circle cx="792.7" cy="183.3" r="4.5"/><circle cx="737.7" cy="491.7" r="4.5"/><circle cx="809.6" cy="476.2" r="4.5"/><circle cx="787.0" cy="266.0" r="4.5"/><circle cx="821.2" cy="337.4" r="4.5"/><circle cx="854.6" cy="338.4" r="4.5"/><circle cx="777.8" cy="189.5" r="4.5"/><circle cx="804.3" cy="216.8" r="4.5"/><circle cx="864.4" cy="344.6" r="4.5"/><circle cx="873.2" cy="250.5" r="4.5"/><circle cx="776.6" cy="473.4" r="4.5"/><circle cx="635.5" cy="242.7" r="4.5"/><circle cx="659.9" cy="223.7" r="4.5"/><circle cx="727.8" cy="525.7" r="4.5"/><circle cx="748.0" cy="200.7" r="4.5"/><circle cx="617.8" cy="202.4" r="4.5"/><circle cx="799.2" cy="343.5" r="4.5"/><circle cx="866.8" cy="268.0" r="4.5"/><circle cx="832.5" cy="307.5" r="4.5"/><circle cx="754.7" cy="362.3" r="4.5"/><circle cx="635.2" cy="141.6" r="4.5"/><circle cx="771.3" cy="319.1" r="4.5"/><circle cx="864.7" cy="278.6" r="4.5"/><circle cx="594.8" cy="218.6" r="4.5"/><circle cx="804.3" cy="511.0" r="4.5"/><circle cx="850.9" cy="528.1" r="4.5"/><circle cx="779.1" cy="499.5" r="4.5"/><circle cx="783.8" cy="199.7" r="4.5"/><circle cx="745.5" cy="234.6" r="4.5"/><circle cx="780.2" cy="174.9" r="4.5"/><circle cx="851.1" cy="339.6" r="4.5"/><circle cx="854.4" cy="308.5" r="4.5"/><circle cx="763.5" cy="256.3" r="4.5"/><circle cx="357.5" cy="513.8" r="4.5"/><circle cx="650.7" cy="188.8" r="4.5"/><circle cx="827.4" cy="240.5" r="4.5"/><circle cx="844.1" cy="217.7" r="4.5"/><circle cx="708.4" cy="519.8" r="4.5"/><circle cx="811.0" cy="230.4" r="4.5"/><circle cx="825.0" cy="199.7" r="4.5"/><circle cx="733.6" cy="281.4" r="4.5"/><circle cx="791.4" cy="225.8" r="4.5"/><circle cx="723.4" cy="475.2" r="4.5"/><circle cx="826.3" cy="472.4" r="4.5"/><circle cx="823.8" cy="517.5" r="4.5"/><circle cx="732.2" cy="481.4" r="4.5"/><circle cx="733.6" cy="492.3" r="4.5"/><circle cx="807.4" cy="271.6" r="4.5"/><circle cx="625.7" cy="209.0" r="4.5"/><circle cx="487.5" cy="523.8" r="4.5"/><circle cx="441.6" cy="515.6" r="4.5"/><circle cx="795.1" cy="367.6" r="4.5"/><circle cx="754.2" cy="206.7" r="4.5"/><circle cx="724.5" cy="335.5" r="4.5"/><circle cx="627.0" cy="236.4" r="4.5"/><circle cx="465.5" cy="533.3" r="4.5"/><circle cx="873.4" cy="314.7" r="4.5"/><circle cx="780.5" cy="209.4" r="4.5"/><circle cx="819.2" cy="254.6" r="4.5"/><circle cx="737.6" cy="528.9" r="4.5"/><circle cx="779.2" cy="483.1" r="4.5"/><circle cx="736.3" cy="308.7" r="4.5"/><circle cx="769.5" cy="475.2" r="4.5"/><circle cx="642.3" cy="212.4" r="4.5"/><circle cx="653.4" cy="264.9" r="4.5"/><circle cx="860.5" cy="245.6" r="4.5"/><circle cx="830.5" cy="520.5" r="4.5"/><circle cx="844.2" cy="527.7" r="4.5"/><circle cx="820.6" cy="260.8" r="4.5"/><circle cx="760.9" cy="257.0" r="4.5"/><circle cx="763.5" cy="325.5" r="4.5"/><circle cx="738.2" cy="562.5" r="4.5"/><circle cx="785.1" cy="546.7" r="4.5"/><circle cx="605.9" cy="206.2" r="4.5"/><circle cx="747.8" cy="278.1" r="4.5"/><circle cx="803.8" cy="348.6" r="4.5"/><circle cx="771.0" cy="390.8" r="4.5"/><circle cx="717.1" cy="526.4" r="4.5"/><circle cx="734.9" cy="267.8" r="4.5"/><circle cx="647.2" cy="207.7" r="4.5"/><circle cx="646.7" cy="165.5" r="4.5"/><circle cx="782.4" cy="415.0" r="4.5"/><circle cx="732.7" cy="293.2" r="4.5"/><circle cx="623.0" cy="241.4" r="4.5"/><circle cx="746.4" cy="253.2" r="4.5"/><circle cx="678.9" cy="222.5" r="4.5"/><circle cx="697.0" cy="278.0" r="4.5"/><circle cx="688.7" cy="268.5" r="4.5"/><circle cx="842.2" cy="475.7" r="4.5"/><circle cx="814.3" cy="553.4" r="4.5"/></g><g fill="#c957db"><circle cx="715.0" cy="452.0" r="4.5"/><circle cx="719.5" cy="359.2" r="4.5"/><circle cx="613.8" cy="302.5" r="4.5"/><circle cx="427.0" cy="384.5" r="4.5"/><circle cx="863.8" cy="445.0" r="4.5"/><circle cx="766.2" cy="429.5" r="4.5"/><circle cx="782.0" cy="448.2" r="4.5"/><circle cx="248.0" cy="444.5" r="4.5"/><circle cx="386.2" cy="497.5" r="4.5"/><circle cx="715.0" cy="452.0" r="4.5"/></g><g fill="#57db94"><circle cx="765.8" cy="381.2" r="4.5"/></g><g fill="#c957db"><circle cx="619.5" cy="295.0" r="4.5"/><circle cx="619.5" cy="294.5" r="4.5"/><circle cx="312.0" cy="413.2" r="4.5"/><circle cx="766.2" cy="429.5" r="4.5"/><circle cx="594.5" cy="275.0" r="4.5"/><circle cx="610.8" cy="307.0" r="4.5"/><circle cx="301.2" cy="501.2" r="4.5"/><circle cx="598.2" cy="287.0" r="4.5"/><circle cx="618.8" cy="443.8" r="4.5"/><circle cx="410.0" cy="493.8" r="4.5"/><circle cx="598.0" cy="287.0" r="4.5"/><circle cx="673.8" cy="497.0" r="4.5"/><circle cx="702.0" cy="493.8" r="4.5"/><circle cx="349.2" cy="501.8" r="4.5"/><circle cx="749.5" cy="350.8" r="4.5"/><circle cx="645.8" cy="269.5" r="4.5"/><circle cx="747.0" cy="321.2" r="4.5"/><circle cx="508.8" cy="502.5" r="4.5"/><circle cx="645.8" cy="269.5" r="4.5"/><circle cx="626.2" cy="454.2" r="4.5"/><circle cx="749.5" cy="350.5" r="4.5"/></g><g fill="#57db94"><circle cx="777.5" cy="430.5" r="4.5"/></g><g fill="#c957db"><circle cx="343.0" cy="512.0" r="4.5"/><circle cx="286.2" cy="457.0" r="4.5"/><circle cx="326.2" cy="489.5" r="4.5"/><circle cx="618.8" cy="443.8" r="4.5"/><circle cx="410.5" cy="494.2" r="4.5"/><circle cx="632.0" cy="544.5" r="4.5"/><circle cx="509.5" cy="497.5" r="4.5"/><circle cx="748.8" cy="472.5" r="4.5"/><circle cx="633.8" cy="424.5" r="4.5"/><circle cx="702.5" cy="493.8" r="4.5"/><circle cx="285.8" cy="409.5" r="4.5"/><circle cx="349.2" cy="428.2" r="4.5"/><circle cx="633.8" cy="423.8" r="4.5"/><circle cx="720.0" cy="358.8" r="4.5"/><circle cx="407.5" cy="485.8" r="4.5"/></g><g fill="#57db94"><circle cx="777.5" cy="430.0" r="4.5"/></g><g fill="#c957db"><circle cx="671.8" cy="512.0" r="4.5"/><circle cx="505.0" cy="493.8" r="4.5"/><circle cx="673.8" cy="497.0" r="4.5"/><circle cx="407.5" cy="486.2" r="4.5"/><circle cx="344.2" cy="501.8" r="4.5"/></g><g fill="#57db94"><circle cx="765.0" cy="381.8" r="4.5"/><circle cx="869.2" cy="448.8" r="4.5"/></g><g fill="#c957db"><circle cx="323.0" cy="538.2" r="4.5"/></g><g fill="#57db94"><circle cx="709.5" cy="353.8" r="4.5"/><circle cx="882.5" cy="452.5" r="4.5"/></g><g fill="#c957db"><circle cx="595.0" cy="274.5" r="4.5"/><circle cx="610.8" cy="306.2" r="4.5"/><circle cx="626.8" cy="454.2" r="4.5"/><circle cx="720.0" cy="359.2" r="4.5"/><circle cx="749.2" cy="350.5" r="4.5"/><circle cx="671.2" cy="511.2" r="4.5"/><circle cx="748.8" cy="472.5" r="4.5"/><circle cx="782.5" cy="448.2" r="4.5"/><circle cx="885.0" cy="254.5" r="4.5"/><circle cx="747.0" cy="321.2" r="4.5"/></g></g><g class="k"><rect x="94.75" y="92.95" width="891.35" height="684.00" fill="none" stroke="#adadad" stroke-width="2.15"/><line x1="260.70" x2="260.70" y1="777.95" y2="784.45" stroke="#b3b3b3" stroke-width="1.2"/><line x1="534.40" x2="534.40" y1="777.95" y2="784.45" stroke="#b3b3b3" stroke-width="1.2"/><line x1="808.10" x2="808.10" y1="777.95" y2="784.45" stroke="#b3b3b3" stroke-width="1.2"/><line x1="87.75" x2="93.75" y1="774.30" y2="774.30" stroke="#b3b3b3" stroke-width="1.2"/><line x1="87.75" x2="93.75" y1="549.70" y2="549.70" stroke="#b3b3b3" stroke-width="1.2"/><line x1="87.75" x2="93.75" y1="325.10" y2="325.10" stroke="#b3b3b3" stroke-width="1.2"/><line x1="87.75" x2="93.75" y1="100.50" y2="100.50" stroke="#b3b3b3" stroke-width="1.2"/><g class="t" font-size="20.2" fill="#4d4d4d"><text x="260.10" y="804.1" text-anchor="middle">-10</text><text x="533.80" y="804.1" text-anchor="middle">0</text><text x="807.50" y="804.1" text-anchor="middle">10</text><text x="83.0" y="782.30" text-anchor="end">-10</text><text x="83.0" y="557.70" text-anchor="end">0</text><text x="83.0" y="333.10" text-anchor="end">10</text><text x="83.0" y="108.50" text-anchor="end">20</text></g><text x="94.3" y="35.8" font-size="31.4">UMAP of 10000 random cells</text><text x="94.3" y="74.6" font-size="26.2">Each Cell is a Point, colored by ann_level_1</text><text x="540.3" y="840" font-size="26.2" text-anchor="middle">Component 1</text><text transform="translate(31.2,435) rotate(-90)" font-size="26.2" text-anchor="middle">Component 2</text><text x="1025.3" y="333.8" font-size="26">ann_level_1</text><rect x="1026" y="347.90" width="34.2" height="34.2" fill="#fff" stroke="#7f7f7f" stroke-width="1.6"/><circle cx="1043.6" cy="365.30" r="4.5" fill="#db5f57"/><text x="1068.0" y="371.10" font-size="20.8">Endothelial</text><rect x="1026" y="390.55" width="34.2" height="34.2" fill="#fff" stroke="#7f7f7f" stroke-width="1.6"/><circle cx="1043.6" cy="407.95" r="4.5" fill="#b9db57"/><text x="1068.0" y="413.75" font-size="20.8">Epithelial</text><rect x="1026" y="433.20" width="34.2" height="34.2" fill="#fff" stroke="#7f7f7f" stroke-width="1.6"/><circle cx="1043.6" cy="450.60" r="4.5" fill="#57db94"/><text x="1068.0" y="456.40" font-size="20.8">Immune</text><rect x="1026" y="475.85" width="34.2" height="34.2" fill="#fff" stroke="#7f7f7f" stroke-width="1.6"/><circle cx="1043.6" cy="493.25" r="4.5" fill="#5784db"/><text x="1068.0" y="499.05" font-size="20.8">Stroma</text><rect x="1026" y="518.50" width="34.2" height="34.2" fill="#fff" stroke="#7f7f7f" stroke-width="1.6"/><circle cx="1043.6" cy="535.90" r="4.5" fill="#c957db"/><text x="1068.0" y="541.70" font-size="20.8">Unknown</text></g></svg></body></html>
